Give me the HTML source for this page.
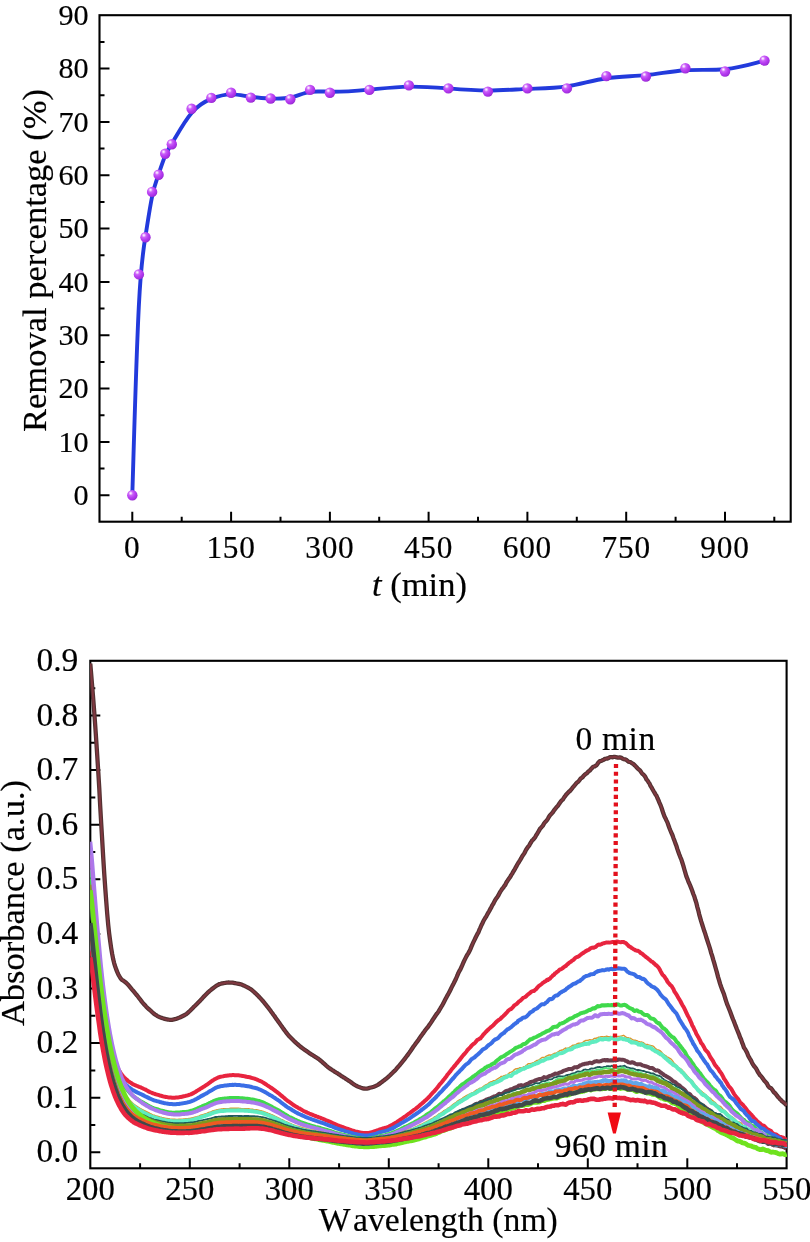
<!DOCTYPE html>
<html lang="en"><head><meta charset="utf-8"><title>Charts</title>
<style>html,body{margin:0;padding:0;background:#fff}body{width:810px;height:1242px;overflow:hidden}svg{display:block;will-change:transform}text{font-family:"Liberation Serif", serif;fill:#000;stroke:#000;stroke-width:0.18px;font-kerning:none}</style></head><body>
<svg width="810" height="1242" viewBox="0 0 810 1242">
<defs><radialGradient id="ball" cx="0.36" cy="0.32" r="0.72" fx="0.34" fy="0.30"><stop offset="0" stop-color="#ffffff"/><stop offset="0.1" stop-color="#f3d2ff"/><stop offset="0.3" stop-color="#cb62f8"/><stop offset="0.6" stop-color="#b73cf1"/><stop offset="0.85" stop-color="#a630e2"/><stop offset="1" stop-color="#9226cc"/></radialGradient><clipPath id="clipB"><rect x="90.1" y="660.8" width="696.9" height="507.5"/></clipPath></defs>
<rect width="810" height="1242" fill="#fff"/>
<g id="top">
<rect x="99.5" y="15.2" width="691.2" height="506.5" fill="none" stroke="#000" stroke-width="2.1"/>
<path d="M99.5 495.3h10M99.5 442h10M99.5 388.6h10M99.5 335.3h10M99.5 281.9h10M99.5 228.6h10M99.5 175.3h10M99.5 121.9h10M99.5 68.6h10M99.5 468.6h5M99.5 415.3h5M99.5 362h5M99.5 308.6h5M99.5 255.3h5M99.5 201.9h5M99.5 148.6h5M99.5 95.3h5M99.5 41.9h5M132.3 521.7v-10M231.1 521.7v-10M329.9 521.7v-10M428.6 521.7v-10M527.4 521.7v-10M626.2 521.7v-10M725 521.7v-10M181.7 521.7v-5M280.5 521.7v-5M379.2 521.7v-5M478 521.7v-5M576.8 521.7v-5M675.6 521.7v-5M774.3 521.7v-5" stroke="#000" stroke-width="2" fill="none"/>
<g font-size="30.2" text-anchor="end">
<text x="88.6" y="504.9">0</text>
<text x="88.6" y="451.6">10</text>
<text x="88.6" y="398.2">20</text>
<text x="88.6" y="344.9">30</text>
<text x="88.6" y="291.5">40</text>
<text x="88.6" y="238.2">50</text>
<text x="88.6" y="184.9">60</text>
<text x="88.6" y="131.5">70</text>
<text x="88.6" y="78.2">80</text>
<text x="88.6" y="24.8">90</text>
</g>
<g font-size="31.3" text-anchor="middle" letter-spacing="0.8">
<text x="132.3" y="558.4">0</text>
<text x="231.1" y="558.4">150</text>
<text x="329.9" y="558.4">300</text>
<text x="428.6" y="558.4">450</text>
<text x="527.4" y="558.4">600</text>
<text x="626.2" y="558.4">750</text>
<text x="725" y="558.4">900</text>
</g>
<text font-size="34.5" text-anchor="middle" transform="translate(45.8 260.5) rotate(-90)">Removal percentage (%)</text>
<text font-size="34.5" text-anchor="middle" x="419.5" y="595.7"><tspan font-style="italic">t</tspan> (min)</text>
<path d="M132.3 495.3C132.3 495.3 132.3 495.3 133.4 458.5C134.5 421.7 136.7 348 138.9 305C141.1 262 143.3 249.7 145.5 235.9C147.7 222.2 149.9 207 152.1 196.6C154.2 186.2 156.4 180.4 158.6 174.1C160.8 167.7 163 160.8 165.2 155.7C167.4 150.6 169.6 147.4 174 139.9C178.4 132.4 185 120.6 191.6 112.9C198.2 105.2 204.7 101.5 211.3 98.9C217.9 96.2 224.5 94.4 231.1 94.4C237.7 94.3 244.2 96 250.8 96.9C257.4 97.9 264 98.2 270.6 98.5C277.2 98.7 283.8 99 290.3 97.5C296.9 96.1 303.5 93 310.1 91.9C316.7 90.8 323.3 91.8 333.1 91.8C343 91.8 356.2 90.8 369.4 89.6C382.5 88.4 395.7 86.9 408.9 86.6C422 86.4 435.2 87.4 448.4 88.4C461.6 89.5 474.7 90.5 487.9 90.5C501.1 90.5 514.2 89.5 527.4 88.9C540.6 88.4 553.7 88.4 566.9 86.4C580.1 84.3 593.2 80.2 606.4 78.2C619.6 76.2 632.8 76.4 645.9 75.1C659.1 73.8 672.3 71 685.4 70.2C698.6 69.4 711.8 70.4 725 69.2C738.1 67.9 751.3 64.2 757.9 62.4C764.5 60.6 764.5 60.6 764.5 60.6" fill="none" stroke="#223adc" stroke-width="3.9" stroke-linejoin="round" stroke-linecap="round"/>
<circle cx="132.3" cy="495.3" r="5.2" fill="url(#ball)"/>
<circle cx="138.9" cy="274.4" r="5.2" fill="url(#ball)"/>
<circle cx="145.5" cy="237.3" r="5.2" fill="url(#ball)"/>
<circle cx="152.1" cy="191.9" r="5.2" fill="url(#ball)"/>
<circle cx="158.6" cy="174.7" r="5.2" fill="url(#ball)"/>
<circle cx="165.2" cy="153.8" r="5.2" fill="url(#ball)"/>
<circle cx="171.8" cy="144.2" r="5.2" fill="url(#ball)"/>
<circle cx="191.6" cy="108.8" r="5.2" fill="url(#ball)"/>
<circle cx="211.3" cy="97.9" r="5.2" fill="url(#ball)"/>
<circle cx="231.1" cy="92.7" r="5.2" fill="url(#ball)"/>
<circle cx="250.8" cy="97.6" r="5.2" fill="url(#ball)"/>
<circle cx="270.6" cy="98.5" r="5.2" fill="url(#ball)"/>
<circle cx="290.3" cy="99.2" r="5.2" fill="url(#ball)"/>
<circle cx="310.1" cy="89.9" r="5.2" fill="url(#ball)"/>
<circle cx="329.9" cy="92.7" r="5.2" fill="url(#ball)"/>
<circle cx="369.4" cy="89.9" r="5.2" fill="url(#ball)"/>
<circle cx="408.9" cy="85.4" r="5.2" fill="url(#ball)"/>
<circle cx="448.4" cy="88.4" r="5.2" fill="url(#ball)"/>
<circle cx="487.9" cy="91.6" r="5.2" fill="url(#ball)"/>
<circle cx="527.4" cy="88.4" r="5.2" fill="url(#ball)"/>
<circle cx="566.9" cy="88.4" r="5.2" fill="url(#ball)"/>
<circle cx="606.4" cy="76.1" r="5.2" fill="url(#ball)"/>
<circle cx="645.9" cy="76.5" r="5.2" fill="url(#ball)"/>
<circle cx="685.4" cy="68.3" r="5.2" fill="url(#ball)"/>
<circle cx="725" cy="71.5" r="5.2" fill="url(#ball)"/>
<circle cx="764.5" cy="60.6" r="5.2" fill="url(#ball)"/>
</g>
<g id="bottom">
<rect x="90.3" y="660.8" width="696.3" height="507.5" fill="none" stroke="#000" stroke-width="2.1"/>
<path d="M90.3 1152.3h10M90.3 1097.7h10M90.3 1043.1h10M90.3 988.5h10M90.3 933.9h10M90.3 879.3h10M90.3 824.7h10M90.3 770.1h10M90.3 715.5h10M90.3 1125h5M90.3 1070.4h5M90.3 1015.8h5M90.3 961.2h5M90.3 906.6h5M90.3 852h5M90.3 797.4h5M90.3 742.8h5M90.3 688.2h5M189.8 1168.3v-10M289.3 1168.3v-10M388.8 1168.3v-10M488.3 1168.3v-10M587.8 1168.3v-10M687.3 1168.3v-10M140.1 1168.3v-5M239.6 1168.3v-5M339.1 1168.3v-5M438.6 1168.3v-5M538 1168.3v-5M637.5 1168.3v-5M737 1168.3v-5" stroke="#000" stroke-width="2" fill="none"/>
<g clip-path="url(#clipB)" fill="none" stroke-linejoin="round" stroke-linecap="butt">
<path d="M90.3 663.6L91.3 675.7L92.3 687.6L93.3 699.9L94.3 712.8L95.3 726.7L96.3 741.3L97.3 756.6L98.3 772.4L99.3 788.8L100.2 806.1L101.2 823.5L102.2 840.2L103.2 857.1L104.2 873.1L105.2 887.5L106.2 900.9L107.2 913.6L108.2 924.8L109.2 933.8L110.2 941.3L111.2 948.2L112.2 954.2L113.2 959.3L114.2 963.3L115.2 966.5L116.2 969.4L117.2 971.9L118.2 974.2L119.2 976L120.2 977.7L121.1 978.9L122.1 979.9L123.1 980.6L124.1 981.3L125.1 982L126.1 982.8L127.1 983.8L128.1 984.8L129.1 985.9L130.1 987.2L131.1 988.4L132.1 989.6L133.1 990.7L134.1 991.9L135.1 993.1L136.1 994.3L137.1 995.5L138.1 996.8L139.1 998.1L140.1 999.3L141 1000.6L142 1001.9L143 1003.1L144 1004.2L145 1005.3L146 1006.4L147 1007.4L148 1008.4L149 1009.3L150 1010.1L151 1011L152 1012L153 1012.9L154 1013.7L155 1014.5L156 1015.1L157 1015.8L158 1016.3L159 1016.8L159.9 1017.2L160.9 1017.6L161.9 1017.9L162.9 1018.3L163.9 1018.6L164.9 1018.9L165.9 1019.2L166.9 1019.4L167.9 1019.5L168.9 1019.7L169.9 1019.8L170.9 1019.8L171.9 1019.8L172.9 1019.6L173.9 1019.4L174.9 1019.1L175.9 1018.9L176.9 1018.6L177.9 1018.2L178.9 1017.8L179.8 1017.5L180.8 1017L181.8 1016.5L182.8 1016L183.8 1015.5L184.8 1015L185.8 1014.4L186.8 1013.7L187.8 1012.8L188.8 1011.9L189.8 1011L190.8 1010L191.8 1009L192.8 1008L193.8 1006.9L194.8 1006L195.8 1005L196.8 1004.1L197.8 1003.1L198.8 1002.1L199.8 1001.1L200.7 1000L201.7 999L202.7 997.9L203.7 996.8L204.7 995.7L205.7 994.7L206.7 993.7L207.7 992.7L208.7 991.8L209.7 990.9L210.7 990.1L211.7 989.3L212.7 988.5L213.7 987.7L214.7 987L215.7 986.3L216.7 985.6L217.7 985L218.7 984.5L219.6 984L220.6 983.8L221.6 983.5L222.6 983.4L223.6 983.2L224.6 983L225.6 982.8L226.6 982.7L227.6 982.6L228.6 982.5L229.6 982.6L230.6 982.6L231.6 982.6L232.6 982.7L233.6 982.9L234.6 983.1L235.6 983.2L236.6 983.5L237.6 983.7L238.6 983.9L239.6 984L240.5 984.2L241.5 984.6L242.5 985L243.5 985.4L244.5 985.8L245.5 986.3L246.5 986.8L247.5 987.3L248.5 987.9L249.5 988.5L250.5 989.1L251.5 989.8L252.5 990.6L253.5 991.5L254.5 992.4L255.5 993.3L256.5 994.3L257.5 995.2L258.5 996.2L259.4 997.3L260.4 998.3L261.4 999.4L262.4 1000.5L263.4 1001.7L264.4 1002.9L265.4 1004.2L266.4 1005.4L267.4 1006.7L268.4 1007.9L269.4 1009.2L270.4 1010.6L271.4 1012L272.4 1013.3L273.4 1014.7L274.4 1016L275.4 1017.5L276.4 1018.9L277.4 1020.3L278.4 1021.7L279.4 1023.1L280.3 1024.4L281.3 1025.8L282.3 1027.1L283.3 1028.6L284.3 1029.9L285.3 1031.3L286.3 1032.6L287.3 1033.9L288.3 1035.1L289.3 1036.3L290.3 1037.3L291.3 1038.3L292.3 1039.3L293.3 1040.3L294.3 1041.3L295.3 1042.2L296.3 1043.1L297.3 1044L298.3 1044.8L299.2 1045.6L300.2 1046.5L301.2 1047.3L302.2 1048.1L303.2 1048.8L304.2 1049.5L305.2 1050.2L306.2 1050.8L307.2 1051.6L308.2 1052.3L309.2 1053L310.2 1053.7L311.2 1054.3L312.2 1054.9L313.2 1055.5L314.2 1056.2L315.2 1056.8L316.2 1057.4L317.2 1058.1L318.2 1058.7L319.1 1059.4L320.1 1060.2L321.1 1061L322.1 1061.9L323.1 1062.8L324.1 1063.7L325.1 1064.6L326.1 1065.6L327.1 1066.4L328.1 1067.2L329.1 1067.9L330.1 1068.7L331.1 1069.3L332.1 1070L333.1 1070.6L334.1 1071.3L335.1 1071.9L336.1 1072.6L337.1 1073.1L338.1 1073.8L339.1 1074.4L340 1075L341 1075.7L342 1076.4L343 1077L344 1077.7L345 1078.2L346 1078.9L347 1079.6L348 1080.2L349 1080.9L350 1081.5L351 1082.2L352 1083L353 1083.7L354 1084.4L355 1085.1L356 1085.6L357 1086.2L358 1086.6L358.9 1087L359.9 1087.3L360.9 1087.7L361.9 1088L362.9 1088.4L363.9 1088.5L364.9 1088.6L365.9 1088.6L366.9 1088.6L367.9 1088.4L368.9 1088.1L369.9 1087.8L370.9 1087.5L371.9 1087.3L372.9 1087L373.9 1086.7L374.9 1086.3L375.9 1085.8L376.9 1085.3L377.9 1084.8L378.9 1084.2L379.8 1083.5L380.8 1082.7L381.8 1082L382.8 1081.2L383.8 1080.5L384.8 1079.7L385.8 1078.9L386.8 1078.2L387.8 1077.3L388.8 1076.4L389.8 1075.5L390.8 1074.5L391.8 1073.5L392.8 1072.6L393.8 1071.6L394.8 1070.7L395.8 1069.6L396.8 1068.4L397.8 1067.2L398.8 1066.1L399.7 1065.1L400.7 1063.8L401.7 1062.6L402.7 1061.4L403.7 1060.2L404.7 1058.9L405.7 1057.5L406.7 1056.2L407.7 1055L408.7 1053.6L409.7 1052.1L410.7 1050.8L411.7 1049.3L412.7 1047.8L413.7 1046.3L414.7 1045L415.7 1043.6L416.7 1042.2L417.7 1040.9L418.7 1039.5L419.6 1038.1L420.6 1036.6L421.6 1035.4L422.6 1033.9L423.6 1032.6L424.6 1031.1L425.6 1029.8L426.6 1028.5L427.6 1027.4L428.6 1026L429.6 1024.6L430.6 1023.1L431.6 1021.6L432.6 1020L433.6 1018.6L434.6 1017L435.6 1015.5L436.6 1014L437.6 1012.8L438.6 1011.5L439.5 1009.8L440.5 1008.2L441.5 1006.5L442.5 1004.8L443.5 1002.9L444.5 1001L445.5 999.1L446.5 997.2L447.5 995.3L448.5 993.6L449.5 991.7L450.5 989.7L451.5 987.6L452.5 985.6L453.5 983.8L454.5 981.8L455.5 979.8L456.5 977.5L457.5 975.2L458.4 972.9L459.4 971L460.4 969.4L461.4 967.1L462.4 964.9L463.4 962.5L464.4 960.4L465.4 958.4L466.4 956.4L467.4 954.7L468.4 953.1L469.4 951.3L470.4 949.1L471.4 946.6L472.4 944.3L473.4 942.2L474.4 940.1L475.4 938L476.4 936L477.4 934L478.4 932.4L479.3 930L480.3 927.9L481.3 925.5L482.3 923.5L483.3 921.3L484.3 919.5L485.3 917.8L486.3 916.4L487.3 914.4L488.3 912.7L489.3 911L490.3 909L491.3 907.4L492.3 905.2L493.3 903.8L494.3 901.7L495.3 899.9L496.3 898.3L497.3 897.1L498.2 895.7L499.2 893.7L500.2 891.9L501.2 890.4L502.2 888.8L503.2 887.8L504.2 886.2L505.2 885L506.2 882.8L507.2 881.3L508.2 879.7L509.2 878.3L510.2 876.9L511.2 875.1L512.2 873.6L513.2 871.8L514.2 870.3L515.2 868.4L516.2 866.7L517.2 864.8L518.1 863.2L519.1 861.7L520.1 860.1L521.1 858.4L522.1 856.5L523.1 855.1L524.1 853.6L525.1 851.9L526.1 849.7L527.1 848.2L528.1 846.7L529.1 845.7L530.1 843.8L531.1 842.3L532.1 840.4L533.1 839.7L534.1 838.5L535.1 837.4L536.1 835.3L537.1 833.9L538 832.3L539 830.7L540 828.7L541 827.7L542 826.6L543 825.5L544 823.5L545 822.2L546 821.2L547 820.1L548 818.6L549 816.7L550 815.2L551 814.2L552 813.2L553 812L554 810.4L555 809.1L556 807.9L557 806.7L557.9 805.8L558.9 804.2L559.9 802.7L560.9 801.4L561.9 800.2L562.9 799.5L563.9 797.7L564.9 796.4L565.9 795L566.9 793.8L567.9 792.9L568.9 791.8L569.9 791L570.9 789.8L571.9 788.6L572.9 787.3L573.9 786.3L574.9 785L575.9 783.7L576.9 782.6L577.9 782L578.8 781.1L579.8 779.7L580.8 778.3L581.8 777.8L582.8 777L583.8 775.6L584.8 774.8L585.8 773.8L586.8 773.3L587.8 772.1L588.8 771.2L589.8 770.5L590.8 769.3L591.8 768.3L592.8 767.1L593.8 766.5L594.8 766.3L595.8 765.7L596.8 765L597.8 763.3L598.7 762.2L599.7 761.2L600.7 761.1L601.7 760.7L602.7 760.1L603.7 759.8L604.7 758.9L605.7 758.8L606.7 758.5L607.7 758.6L608.7 757.9L609.7 757.2L610.7 757.2L611.7 757.2L612.7 757.3L613.7 756.9L614.7 756.8L615.7 757L616.7 757.4L617.6 757.5L618.6 757.7L619.6 757.3L620.6 757.6L621.6 757.9L622.6 758.7L623.6 759.2L624.6 759.3L625.6 759.4L626.6 760.1L627.6 761L628.6 761.7L629.6 762L630.6 762.2L631.6 762.9L632.6 763.6L633.6 764.2L634.6 765.3L635.6 766.1L636.6 767.3L637.5 768.3L638.5 769.2L639.5 769.9L640.5 771.1L641.5 772.7L642.5 774L643.5 774.6L644.5 775.8L645.5 777.3L646.5 779.5L647.5 780.5L648.5 782.2L649.5 783.5L650.5 785.8L651.5 787.4L652.5 789.2L653.5 791L654.5 792.7L655.5 794.4L656.5 795.8L657.4 798L658.4 800.1L659.4 802.6L660.4 804.8L661.4 807.4L662.4 810.5L663.4 813.6L664.4 816.3L665.4 818.2L666.4 820.4L667.4 822.4L668.4 825.2L669.4 828L670.4 830.5L671.4 832.8L672.4 835L673.4 837.9L674.4 840.6L675.4 843.4L676.4 845.8L677.3 848.9L678.3 851.7L679.3 854.5L680.3 857.1L681.3 859.3L682.3 862.5L683.3 865.6L684.3 869.3L685.3 872.7L686.3 876.1L687.3 878.6L688.3 881.3L689.3 883.5L690.3 885.9L691.3 888.4L692.3 891L693.3 894L694.3 896.4L695.3 899.8L696.3 902.7L697.2 906.6L698.2 910.1L699.2 914.3L700.2 917.9L701.2 921.4L702.2 924.5L703.2 927.7L704.2 930.8L705.2 933.6L706.2 937L707.2 940L708.2 943.1L709.2 946.1L710.2 949.3L711.2 953.1L712.2 956L713.2 959.6L714.2 962.9L715.2 966.5L716.2 970L717.1 973.2L718.1 977.1L719.1 980.4L720.1 983.9L721.1 986.8L722.1 989.4L723.1 992L724.1 994.6L725.1 998L726.1 1001.1L727.1 1004.2L728.1 1006.5L729.1 1009L730.1 1011.5L731.1 1014.2L732.1 1016.9L733.1 1019.5L734.1 1021.9L735.1 1024.6L736.1 1027.1L737 1029.5L738 1031.9L739 1034.3L740 1037.2L741 1039.2L742 1042.3L743 1044.7L744 1047.7L745 1049L746 1050.8L747 1052.6L748 1055.3L749 1057.2L750 1058.9L751 1060.5L752 1062.7L753 1064.6L754 1066L755 1067.2L756 1068.4L756.9 1070L757.9 1072L758.9 1073.4L759.9 1075.1L760.9 1076L761.9 1077.3L762.9 1078.6L763.9 1080.1L764.9 1081.3L765.9 1082.3L766.9 1083.5L767.9 1085.6L768.9 1086.9L769.9 1087.8L770.9 1088L771.9 1089.3L772.9 1090.7L773.9 1092.2L774.9 1093L775.9 1094.2L776.8 1095.3L777.8 1096.8L778.8 1097.6L779.8 1099.1L780.8 1099.8L781.8 1101.1L782.8 1101.8L783.8 1102.7L784.8 1103.3L785.8 1104.5L786.8 1105.3" stroke="#523232" stroke-width="4.3"/>
<path d="M90.3 663.6L91.3 675.7L92.3 687.6L93.3 699.9L94.3 712.8L95.3 726.7L96.3 741.3L97.3 756.6L98.3 772.4L99.3 788.8L100.2 806.1L101.2 823.5L102.2 840.2L103.2 857.1L104.2 873.1L105.2 887.5L106.2 900.9L107.2 913.6L108.2 924.8L109.2 933.8L110.2 941.3L111.2 948.2L112.2 954.2L113.2 959.3L114.2 963.3L115.2 966.5L116.2 969.4L117.2 971.9L118.2 974.2L119.2 976L120.2 977.7L121.1 978.9L122.1 979.9L123.1 980.6L124.1 981.3L125.1 982L126.1 982.8L127.1 983.8L128.1 984.8L129.1 985.9L130.1 987.2L131.1 988.4L132.1 989.6L133.1 990.7L134.1 991.9L135.1 993.1L136.1 994.3L137.1 995.5L138.1 996.8L139.1 998.1L140.1 999.3L141 1000.6L142 1001.9L143 1003.1L144 1004.2L145 1005.3L146 1006.4L147 1007.4L148 1008.4L149 1009.3L150 1010.1L151 1011L152 1012L153 1012.9L154 1013.7L155 1014.5L156 1015.1L157 1015.8L158 1016.3L159 1016.8L159.9 1017.2L160.9 1017.6L161.9 1017.9L162.9 1018.3L163.9 1018.6L164.9 1018.9L165.9 1019.2L166.9 1019.4L167.9 1019.5L168.9 1019.7L169.9 1019.8L170.9 1019.8L171.9 1019.8L172.9 1019.6L173.9 1019.4L174.9 1019.1L175.9 1018.9L176.9 1018.6L177.9 1018.2L178.9 1017.8L179.8 1017.5L180.8 1017L181.8 1016.5L182.8 1016L183.8 1015.5L184.8 1015L185.8 1014.4L186.8 1013.7L187.8 1012.8L188.8 1011.9L189.8 1011L190.8 1010L191.8 1009L192.8 1008L193.8 1006.9L194.8 1006L195.8 1005L196.8 1004.1L197.8 1003.1L198.8 1002.1L199.8 1001.1L200.7 1000L201.7 999L202.7 997.9L203.7 996.8L204.7 995.7L205.7 994.7L206.7 993.7L207.7 992.7L208.7 991.8L209.7 990.9L210.7 990.1L211.7 989.3L212.7 988.5L213.7 987.7L214.7 987L215.7 986.3L216.7 985.6L217.7 985L218.7 984.5L219.6 984L220.6 983.8L221.6 983.5L222.6 983.4L223.6 983.2L224.6 983L225.6 982.8L226.6 982.7L227.6 982.6L228.6 982.5L229.6 982.6L230.6 982.6L231.6 982.6L232.6 982.7L233.6 982.9L234.6 983.1L235.6 983.2L236.6 983.5L237.6 983.7L238.6 983.9L239.6 984L240.5 984.2L241.5 984.6L242.5 985L243.5 985.4L244.5 985.8L245.5 986.3L246.5 986.8L247.5 987.3L248.5 987.9L249.5 988.5L250.5 989.1L251.5 989.8L252.5 990.6L253.5 991.5L254.5 992.4L255.5 993.3L256.5 994.3L257.5 995.2L258.5 996.2L259.4 997.3L260.4 998.3L261.4 999.4L262.4 1000.5L263.4 1001.7L264.4 1002.9L265.4 1004.2L266.4 1005.4L267.4 1006.7L268.4 1007.9L269.4 1009.2L270.4 1010.6L271.4 1012L272.4 1013.3L273.4 1014.7L274.4 1016L275.4 1017.5L276.4 1018.9L277.4 1020.3L278.4 1021.7L279.4 1023.1L280.3 1024.4L281.3 1025.8L282.3 1027.1L283.3 1028.6L284.3 1029.9L285.3 1031.3L286.3 1032.6L287.3 1033.9L288.3 1035.1L289.3 1036.3L290.3 1037.3L291.3 1038.3L292.3 1039.3L293.3 1040.3L294.3 1041.3L295.3 1042.2L296.3 1043.1L297.3 1044L298.3 1044.8L299.2 1045.6L300.2 1046.5L301.2 1047.3L302.2 1048.1L303.2 1048.8L304.2 1049.5L305.2 1050.2L306.2 1050.8L307.2 1051.6L308.2 1052.3L309.2 1053L310.2 1053.7L311.2 1054.3L312.2 1054.9L313.2 1055.5L314.2 1056.2L315.2 1056.8L316.2 1057.4L317.2 1058.1L318.2 1058.7L319.1 1059.4L320.1 1060.2L321.1 1061L322.1 1061.9L323.1 1062.8L324.1 1063.7L325.1 1064.6L326.1 1065.6L327.1 1066.4L328.1 1067.2L329.1 1067.9L330.1 1068.7L331.1 1069.3L332.1 1070L333.1 1070.6L334.1 1071.3L335.1 1071.9L336.1 1072.6L337.1 1073.1L338.1 1073.8L339.1 1074.4L340 1075L341 1075.7L342 1076.4L343 1077L344 1077.7L345 1078.2L346 1078.9L347 1079.6L348 1080.2L349 1080.9L350 1081.5L351 1082.2L352 1083L353 1083.7L354 1084.4L355 1085.1L356 1085.6L357 1086.2L358 1086.6L358.9 1087L359.9 1087.3L360.9 1087.7L361.9 1088L362.9 1088.4L363.9 1088.5L364.9 1088.6L365.9 1088.6L366.9 1088.6L367.9 1088.4L368.9 1088.1L369.9 1087.8L370.9 1087.5L371.9 1087.3L372.9 1087L373.9 1086.7L374.9 1086.3L375.9 1085.8L376.9 1085.3L377.9 1084.8L378.9 1084.2L379.8 1083.5L380.8 1082.7L381.8 1082L382.8 1081.2L383.8 1080.5L384.8 1079.7L385.8 1078.9L386.8 1078.2L387.8 1077.3L388.8 1076.4L389.8 1075.5L390.8 1074.5L391.8 1073.5L392.8 1072.6L393.8 1071.6L394.8 1070.7L395.8 1069.6L396.8 1068.4L397.8 1067.2L398.8 1066.1L399.7 1065.1L400.7 1063.8L401.7 1062.6L402.7 1061.4L403.7 1060.2L404.7 1058.9L405.7 1057.5L406.7 1056.2L407.7 1055L408.7 1053.6L409.7 1052.1L410.7 1050.8L411.7 1049.3L412.7 1047.8L413.7 1046.3L414.7 1045L415.7 1043.6L416.7 1042.2L417.7 1040.9L418.7 1039.5L419.6 1038.1L420.6 1036.6L421.6 1035.4L422.6 1033.9L423.6 1032.6L424.6 1031.1L425.6 1029.8L426.6 1028.5L427.6 1027.4L428.6 1026L429.6 1024.6L430.6 1023.1L431.6 1021.6L432.6 1020L433.6 1018.6L434.6 1017L435.6 1015.5L436.6 1014L437.6 1012.8L438.6 1011.5L439.5 1009.8L440.5 1008.2L441.5 1006.5L442.5 1004.8L443.5 1002.9L444.5 1001L445.5 999.1L446.5 997.2L447.5 995.3L448.5 993.6L449.5 991.7L450.5 989.7L451.5 987.6L452.5 985.6L453.5 983.8L454.5 981.8L455.5 979.8L456.5 977.5L457.5 975.2L458.4 972.9L459.4 971L460.4 969.4L461.4 967.1L462.4 964.9L463.4 962.5L464.4 960.4L465.4 958.4L466.4 956.4L467.4 954.7L468.4 953.1L469.4 951.3L470.4 949.1L471.4 946.6L472.4 944.3L473.4 942.2L474.4 940.1L475.4 938L476.4 936L477.4 934L478.4 932.4L479.3 930L480.3 927.9L481.3 925.5L482.3 923.5L483.3 921.3L484.3 919.5L485.3 917.8L486.3 916.4L487.3 914.4L488.3 912.7L489.3 911L490.3 909L491.3 907.4L492.3 905.2L493.3 903.8L494.3 901.7L495.3 899.9L496.3 898.3L497.3 897.1L498.2 895.7L499.2 893.7L500.2 891.9L501.2 890.4L502.2 888.8L503.2 887.8L504.2 886.2L505.2 885L506.2 882.8L507.2 881.3L508.2 879.7L509.2 878.3L510.2 876.9L511.2 875.1L512.2 873.6L513.2 871.8L514.2 870.3L515.2 868.4L516.2 866.7L517.2 864.8L518.1 863.2L519.1 861.7L520.1 860.1L521.1 858.4L522.1 856.5L523.1 855.1L524.1 853.6L525.1 851.9L526.1 849.7L527.1 848.2L528.1 846.7L529.1 845.7L530.1 843.8L531.1 842.3L532.1 840.4L533.1 839.7L534.1 838.5L535.1 837.4L536.1 835.3L537.1 833.9L538 832.3L539 830.7L540 828.7L541 827.7L542 826.6L543 825.5L544 823.5L545 822.2L546 821.2L547 820.1L548 818.6L549 816.7L550 815.2L551 814.2L552 813.2L553 812L554 810.4L555 809.1L556 807.9L557 806.7L557.9 805.8L558.9 804.2L559.9 802.7L560.9 801.4L561.9 800.2L562.9 799.5L563.9 797.7L564.9 796.4L565.9 795L566.9 793.8L567.9 792.9L568.9 791.8L569.9 791L570.9 789.8L571.9 788.6L572.9 787.3L573.9 786.3L574.9 785L575.9 783.7L576.9 782.6L577.9 782L578.8 781.1L579.8 779.7L580.8 778.3L581.8 777.8L582.8 777L583.8 775.6L584.8 774.8L585.8 773.8L586.8 773.3L587.8 772.1L588.8 771.2L589.8 770.5L590.8 769.3L591.8 768.3L592.8 767.1L593.8 766.5L594.8 766.3L595.8 765.7L596.8 765L597.8 763.3L598.7 762.2L599.7 761.2L600.7 761.1L601.7 760.7L602.7 760.1L603.7 759.8L604.7 758.9L605.7 758.8L606.7 758.5L607.7 758.6L608.7 757.9L609.7 757.2L610.7 757.2L611.7 757.2L612.7 757.3L613.7 756.9L614.7 756.8L615.7 757L616.7 757.4L617.6 757.5L618.6 757.7L619.6 757.3L620.6 757.6L621.6 757.9L622.6 758.7L623.6 759.2L624.6 759.3L625.6 759.4L626.6 760.1L627.6 761L628.6 761.7L629.6 762L630.6 762.2L631.6 762.9L632.6 763.6L633.6 764.2L634.6 765.3L635.6 766.1L636.6 767.3L637.5 768.3L638.5 769.2L639.5 769.9L640.5 771.1L641.5 772.7L642.5 774L643.5 774.6L644.5 775.8L645.5 777.3L646.5 779.5L647.5 780.5L648.5 782.2L649.5 783.5L650.5 785.8L651.5 787.4L652.5 789.2L653.5 791L654.5 792.7L655.5 794.4L656.5 795.8L657.4 798L658.4 800.1L659.4 802.6L660.4 804.8L661.4 807.4L662.4 810.5L663.4 813.6L664.4 816.3L665.4 818.2L666.4 820.4L667.4 822.4L668.4 825.2L669.4 828L670.4 830.5L671.4 832.8L672.4 835L673.4 837.9L674.4 840.6L675.4 843.4L676.4 845.8L677.3 848.9L678.3 851.7L679.3 854.5L680.3 857.1L681.3 859.3L682.3 862.5L683.3 865.6L684.3 869.3L685.3 872.7L686.3 876.1L687.3 878.6L688.3 881.3L689.3 883.5L690.3 885.9L691.3 888.4L692.3 891L693.3 894L694.3 896.4L695.3 899.8L696.3 902.7L697.2 906.6L698.2 910.1L699.2 914.3L700.2 917.9L701.2 921.4L702.2 924.5L703.2 927.7L704.2 930.8L705.2 933.6L706.2 937L707.2 940L708.2 943.1L709.2 946.1L710.2 949.3L711.2 953.1L712.2 956L713.2 959.6L714.2 962.9L715.2 966.5L716.2 970L717.1 973.2L718.1 977.1L719.1 980.4L720.1 983.9L721.1 986.8L722.1 989.4L723.1 992L724.1 994.6L725.1 998L726.1 1001.1L727.1 1004.2L728.1 1006.5L729.1 1009L730.1 1011.5L731.1 1014.2L732.1 1016.9L733.1 1019.5L734.1 1021.9L735.1 1024.6L736.1 1027.1L737 1029.5L738 1031.9L739 1034.3L740 1037.2L741 1039.2L742 1042.3L743 1044.7L744 1047.7L745 1049L746 1050.8L747 1052.6L748 1055.3L749 1057.2L750 1058.9L751 1060.5L752 1062.7L753 1064.6L754 1066L755 1067.2L756 1068.4L756.9 1070L757.9 1072L758.9 1073.4L759.9 1075.1L760.9 1076L761.9 1077.3L762.9 1078.6L763.9 1080.1L764.9 1081.3L765.9 1082.3L766.9 1083.5L767.9 1085.6L768.9 1086.9L769.9 1087.8L770.9 1088L771.9 1089.3L772.9 1090.7L773.9 1092.2L774.9 1093L775.9 1094.2L776.8 1095.3L777.8 1096.8L778.8 1097.6L779.8 1099.1L780.8 1099.8L781.8 1101.1L782.8 1101.8L783.8 1102.7L784.8 1103.3L785.8 1104.5L786.8 1105.3" stroke="#803840" stroke-width="2.0"/>
<path d="M90.3 944.8L91.3 950.4L92.3 957L93.3 963.9L94.3 970.9L95.3 977.8L96.3 984.5L97.3 991L98.3 997.2L99.3 1003.1L100.2 1008.8L101.2 1014.3L102.2 1019.3L103.2 1024.1L104.2 1028.6L105.2 1032.9L106.2 1036.9L107.2 1040.7L108.2 1044.2L109.2 1047.6L110.2 1050.8L111.2 1053.6L112.2 1056.3L113.2 1058.7L114.2 1061.1L115.2 1063.2L116.2 1065.3L117.2 1067.2L118.2 1069L119.2 1070.6L120.2 1072.2L121.1 1073.6L122.1 1074.9L123.1 1076.2L124.1 1077.4L125.1 1078.4L126.1 1079.2L127.1 1080.1L128.1 1081L129.1 1081.8L130.1 1082.4L131.1 1083L132.1 1083.7L133.1 1084.3L134.1 1084.7L135.1 1085.2L136.1 1085.6L137.1 1086L138.1 1086.4L139.1 1086.8L140.1 1087.1L141 1087.6L142 1088L143 1088.5L144 1089L145 1089.4L146 1089.9L147 1090.5L148 1091.1L149 1091.6L150 1092.1L151 1092.5L152 1092.9L153 1093.4L154 1093.7L155 1094L156 1094.3L157 1094.6L158 1094.9L159 1095.2L159.9 1095.5L160.9 1095.7L161.9 1096L162.9 1096.3L163.9 1096.6L164.9 1096.8L165.9 1097L166.9 1097.1L167.9 1097.3L168.9 1097.4L169.9 1097.5L170.9 1097.6L171.9 1097.7L172.9 1097.7L173.9 1097.7L174.9 1097.7L175.9 1097.6L176.9 1097.5L177.9 1097.4L178.9 1097.3L179.8 1097.1L180.8 1097L181.8 1096.8L182.8 1096.5L183.8 1096.3L184.8 1096.1L185.8 1095.8L186.8 1095.6L187.8 1095.3L188.8 1095L189.8 1094.7L190.8 1094.4L191.8 1093.9L192.8 1093.4L193.8 1092.9L194.8 1092.3L195.8 1091.7L196.8 1091L197.8 1090.4L198.8 1089.8L199.8 1089.2L200.7 1088.5L201.7 1088L202.7 1087.3L203.7 1086.8L204.7 1086.1L205.7 1085.4L206.7 1084.8L207.7 1084.1L208.7 1083.4L209.7 1082.7L210.7 1081.9L211.7 1081.2L212.7 1080.5L213.7 1079.9L214.7 1079.2L215.7 1078.7L216.7 1078.2L217.7 1077.7L218.7 1077.3L219.6 1077L220.6 1076.8L221.6 1076.6L222.6 1076.4L223.6 1076.2L224.6 1075.9L225.6 1075.8L226.6 1075.7L227.6 1075.5L228.6 1075.4L229.6 1075.3L230.6 1075.2L231.6 1075.2L232.6 1075.1L233.6 1075.1L234.6 1075.2L235.6 1075.2L236.6 1075.3L237.6 1075.3L238.6 1075.3L239.6 1075.4L240.5 1075.6L241.5 1075.8L242.5 1076L243.5 1076.1L244.5 1076.3L245.5 1076.5L246.5 1076.8L247.5 1076.9L248.5 1077L249.5 1077.2L250.5 1077.5L251.5 1077.8L252.5 1078.1L253.5 1078.4L254.5 1078.7L255.5 1079L256.5 1079.4L257.5 1079.8L258.5 1080.3L259.4 1080.7L260.4 1081.1L261.4 1081.5L262.4 1082.1L263.4 1082.7L264.4 1083.3L265.4 1084L266.4 1084.7L267.4 1085.4L268.4 1086L269.4 1086.6L270.4 1087.3L271.4 1088L272.4 1088.7L273.4 1089.4L274.4 1090.1L275.4 1090.9L276.4 1091.7L277.4 1092.4L278.4 1093.2L279.4 1093.9L280.3 1094.8L281.3 1095.6L282.3 1096.4L283.3 1097.2L284.3 1098L285.3 1098.9L286.3 1099.8L287.3 1100.6L288.3 1101.3L289.3 1101.9L290.3 1102.7L291.3 1103.4L292.3 1104.1L293.3 1104.8L294.3 1105.5L295.3 1106.1L296.3 1106.8L297.3 1107.3L298.3 1107.9L299.2 1108.4L300.2 1108.9L301.2 1109.5L302.2 1110.1L303.2 1110.7L304.2 1111.2L305.2 1111.7L306.2 1112.1L307.2 1112.6L308.2 1113L309.2 1113.5L310.2 1113.9L311.2 1114.3L312.2 1114.7L313.2 1115.1L314.2 1115.5L315.2 1115.9L316.2 1116.4L317.2 1116.7L318.2 1117L319.1 1117.4L320.1 1117.7L321.1 1118.1L322.1 1118.5L323.1 1118.9L324.1 1119.3L325.1 1119.8L326.1 1120.2L327.1 1120.7L328.1 1121L329.1 1121.4L330.1 1121.8L331.1 1122.3L332.1 1122.8L333.1 1123.2L334.1 1123.7L335.1 1124.1L336.1 1124.5L337.1 1125L338.1 1125.4L339.1 1125.8L340 1126.2L341 1126.5L342 1126.8L343 1127.2L344 1127.6L345 1128L346 1128.3L347 1128.6L348 1128.9L349 1129.3L350 1129.7L351 1130L352 1130.4L353 1130.7L354 1131L355 1131.3L356 1131.6L357 1131.8L358 1132L358.9 1132.2L359.9 1132.4L360.9 1132.7L361.9 1132.8L362.9 1132.9L363.9 1132.9L364.9 1133L365.9 1133L366.9 1133.1L367.9 1133.1L368.9 1133L369.9 1132.7L370.9 1132.4L371.9 1132.1L372.9 1131.8L373.9 1131.5L374.9 1131.1L375.9 1130.8L376.9 1130.5L377.9 1130.1L378.9 1129.8L379.8 1129.4L380.8 1129.1L381.8 1128.8L382.8 1128.5L383.8 1128.3L384.8 1128L385.8 1127.7L386.8 1127.4L387.8 1127L388.8 1126.6L389.8 1126.1L390.8 1125.6L391.8 1125.1L392.8 1124.5L393.8 1123.8L394.8 1123.3L395.8 1122.7L396.8 1122.1L397.8 1121.4L398.8 1120.9L399.7 1120.2L400.7 1119.5L401.7 1118.8L402.7 1118.1L403.7 1117.4L404.7 1116.7L405.7 1116.1L406.7 1115.3L407.7 1114.5L408.7 1113.7L409.7 1113.1L410.7 1112.4L411.7 1111.6L412.7 1110.9L413.7 1110L414.7 1109.5L415.7 1108.7L416.7 1107.9L417.7 1107.1L418.7 1106.4L419.6 1105.5L420.6 1104.6L421.6 1103.8L422.6 1102.9L423.6 1102.1L424.6 1101.1L425.6 1100.2L426.6 1099.4L427.6 1098.4L428.6 1097.3L429.6 1096.4L430.6 1095.1L431.6 1094L432.6 1092.9L433.6 1091.9L434.6 1090.8L435.6 1089.7L436.6 1088.5L437.6 1087.3L438.6 1086L439.5 1084.7L440.5 1083.6L441.5 1082.5L442.5 1081.3L443.5 1079.8L444.5 1078.8L445.5 1077.5L446.5 1076.3L447.5 1074.6L448.5 1073.5L449.5 1072.3L450.5 1071.1L451.5 1069.7L452.5 1068.3L453.5 1067.3L454.5 1066L455.5 1065L456.5 1063.5L457.5 1062.5L458.4 1061.3L459.4 1060.1L460.4 1058.9L461.4 1057.5L462.4 1056.2L463.4 1055L464.4 1054L465.4 1052.9L466.4 1051.6L467.4 1050.2L468.4 1049.1L469.4 1048.1L470.4 1047.1L471.4 1045.9L472.4 1044.8L473.4 1044L474.4 1043.3L475.4 1042.3L476.4 1041.1L477.4 1039.8L478.4 1039.5L479.3 1038.8L480.3 1038.6L481.3 1037.1L482.3 1036.1L483.3 1034.6L484.3 1033.7L485.3 1032.5L486.3 1031.6L487.3 1030.4L488.3 1029.6L489.3 1028.5L490.3 1027.7L491.3 1026.8L492.3 1026.1L493.3 1025.2L494.3 1024.1L495.3 1023L496.3 1022L497.3 1021.1L498.2 1020.4L499.2 1019.6L500.2 1019L501.2 1018L502.2 1017L503.2 1016.2L504.2 1015.2L505.2 1014.3L506.2 1013.1L507.2 1012.1L508.2 1010.8L509.2 1010L510.2 1009.2L511.2 1009L512.2 1007.9L513.2 1006.9L514.2 1005.5L515.2 1004.9L516.2 1004.3L517.2 1003.4L518.1 1002.5L519.1 1001.4L520.1 1001L521.1 999.9L522.1 999L523.1 997.9L524.1 997.5L525.1 997L526.1 996.3L527.1 995.2L528.1 994.4L529.1 993.7L530.1 992.9L531.1 991.8L532.1 991.4L533.1 991L534.1 990.9L535.1 989.8L536.1 989.1L537.1 987.9L538 986.9L539 985.8L540 985.3L541 984.5L542 983.7L543 982.7L544 982.2L545 981.3L546 981L547 979.8L548 979.9L549 979L550 978.8L551 977.2L552 976.6L553 975.2L554 975L555 973.4L556 973L557 971.9L557.9 971.5L558.9 970.4L559.9 969.4L560.9 969.2L561.9 968.7L562.9 968L563.9 967.1L564.9 966.4L565.9 965.9L566.9 964.7L567.9 964L568.9 963.1L569.9 962.2L570.9 961.7L571.9 960.8L572.9 960.3L573.9 959.4L574.9 958.3L575.9 957.5L576.9 957L577.9 956.8L578.8 956.3L579.8 955.3L580.8 954.6L581.8 953.8L582.8 953.1L583.8 952.6L584.8 951.9L585.8 951.1L586.8 950.6L587.8 950.1L588.8 949.8L589.8 948.9L590.8 948.1L591.8 947.8L592.8 947.6L593.8 947.7L594.8 947.2L595.8 946.8L596.8 945.8L597.8 944.9L598.7 944.6L599.7 944.7L600.7 944.5L601.7 944.1L602.7 943.4L603.7 943.3L604.7 942.9L605.7 942.7L606.7 942.4L607.7 942.6L608.7 942.4L609.7 942.6L610.7 942.4L611.7 942.1L612.7 941.9L613.7 942.1L614.7 942.1L615.7 942L616.7 941.4L617.6 941.7L618.6 941.8L619.6 942.1L620.6 942.3L621.6 942L622.6 942L623.6 941.9L624.6 942.6L625.6 942.9L626.6 943.8L627.6 944.8L628.6 946L629.6 946.7L630.6 947.1L631.6 948L632.6 948.5L633.6 949.3L634.6 949.6L635.6 950.4L636.6 950.7L637.5 950.7L638.5 951.1L639.5 951.7L640.5 952.9L641.5 953.4L642.5 954L643.5 954.9L644.5 955.8L645.5 956.6L646.5 957.4L647.5 958.1L648.5 959L649.5 959.8L650.5 960.6L651.5 961.6L652.5 961.9L653.5 963L654.5 963.7L655.5 964.9L656.5 965.3L657.4 966.4L658.4 967.4L659.4 968.8L660.4 970.9L661.4 972.7L662.4 974.5L663.4 975.6L664.4 976.5L665.4 978.1L666.4 979.5L667.4 981.5L668.4 982.9L669.4 983.9L670.4 985.1L671.4 985.8L672.4 987.4L673.4 989.1L674.4 991.5L675.4 992.9L676.4 994.4L677.3 995.8L678.3 997.8L679.3 999.4L680.3 1001L681.3 1003L682.3 1004.9L683.3 1006.6L684.3 1008.3L685.3 1010.4L686.3 1012.6L687.3 1014.7L688.3 1016.6L689.3 1018.4L690.3 1020.7L691.3 1022.8L692.3 1025.5L693.3 1027.1L694.3 1029.5L695.3 1031.2L696.3 1033.7L697.2 1035.2L698.2 1036.9L699.2 1038.9L700.2 1040.8L701.2 1043.1L702.2 1044.1L703.2 1045.8L704.2 1047.5L705.2 1049.6L706.2 1050.8L707.2 1051.7L708.2 1052.8L709.2 1054.9L710.2 1056.8L711.2 1058.3L712.2 1059.8L713.2 1061.4L714.2 1063.5L715.2 1065.2L716.2 1066.3L717.1 1067.5L718.1 1068.6L719.1 1070.3L720.1 1071.8L721.1 1073.1L722.1 1074.8L723.1 1076.6L724.1 1078.8L725.1 1080.1L726.1 1081.7L727.1 1083.3L728.1 1085.2L729.1 1086.6L730.1 1087.6L731.1 1088.8L732.1 1090.4L733.1 1092.2L734.1 1094L735.1 1095.5L736.1 1096.7L737 1097.9L738 1098.9L739 1100.5L740 1102.1L741 1103.1L742 1104.2L743 1104.9L744 1106.3L745 1107.3L746 1108.9L747 1110.1L748 1111.4L749 1112.3L750 1113.4L751 1114.5L752 1115.5L753 1116.7L754 1117.8L755 1118.8L756 1119.8L756.9 1120.9L757.9 1121.8L758.9 1122.6L759.9 1123.2L760.9 1124.5L761.9 1125.1L762.9 1125.6L763.9 1125.8L764.9 1126.6L765.9 1127.9L766.9 1128.7L767.9 1129.7L768.9 1129.7L769.9 1130.5L770.9 1130.8L771.9 1132.4L772.9 1133.2L773.9 1134.1L774.9 1134.2L775.9 1134.4L776.8 1134.8L777.8 1135.9L778.8 1136.4L779.8 1137.2L780.8 1136.9L781.8 1137.3L782.8 1137.4L783.8 1138L784.8 1139.2L785.8 1139.3L786.8 1139.9" stroke="#e8243f" stroke-width="4"/>
<path d="M90.3 933.9L91.3 940.1L92.3 947.6L93.3 955.4L94.3 963.2L95.3 970.8L96.3 978.4L97.3 985.6L98.3 992.7L99.3 999.3L100.2 1005.7L101.2 1011.7L102.2 1017.3L103.2 1022.6L104.2 1027.8L105.2 1032.7L106.2 1037.3L107.2 1041.4L108.2 1045.3L109.2 1049L110.2 1052.6L111.2 1055.9L112.2 1059L113.2 1061.9L114.2 1064.4L115.2 1066.8L116.2 1069.1L117.2 1071.2L118.2 1073.2L119.2 1075L120.2 1076.7L121.1 1078.3L122.1 1079.8L123.1 1081.2L124.1 1082.5L125.1 1083.7L126.1 1084.8L127.1 1085.8L128.1 1086.7L129.1 1087.5L130.1 1088.2L131.1 1088.9L132.1 1089.6L133.1 1090.2L134.1 1090.8L135.1 1091.4L136.1 1091.9L137.1 1092.4L138.1 1092.8L139.1 1093.4L140.1 1093.7L141 1094.2L142 1094.6L143 1095.1L144 1095.6L145 1096.2L146 1096.7L147 1097.1L148 1097.6L149 1098.1L150 1098.6L151 1099L152 1099.5L153 1099.9L154 1100.3L155 1100.6L156 1100.9L157 1101.2L158 1101.4L159 1101.7L159.9 1102L160.9 1102.2L161.9 1102.5L162.9 1102.7L163.9 1103L164.9 1103.2L165.9 1103.4L166.9 1103.6L167.9 1103.7L168.9 1103.9L169.9 1103.9L170.9 1104L171.9 1104.1L172.9 1104.2L173.9 1104.3L174.9 1104.3L175.9 1104.2L176.9 1104.1L177.9 1104L178.9 1104L179.8 1103.8L180.8 1103.6L181.8 1103.4L182.8 1103.3L183.8 1103.1L184.8 1102.9L185.8 1102.8L186.8 1102.6L187.8 1102.3L188.8 1102.1L189.8 1101.8L190.8 1101.5L191.8 1101.1L192.8 1100.7L193.8 1100.3L194.8 1099.8L195.8 1099.2L196.8 1098.7L197.8 1098.1L198.8 1097.6L199.8 1097L200.7 1096.4L201.7 1095.9L202.7 1095.4L203.7 1094.9L204.7 1094.3L205.7 1093.8L206.7 1093.2L207.7 1092.6L208.7 1091.9L209.7 1091.3L210.7 1090.7L211.7 1090.2L212.7 1089.6L213.7 1089L214.7 1088.4L215.7 1087.8L216.7 1087.4L217.7 1087L218.7 1086.7L219.6 1086.5L220.6 1086.2L221.6 1086.1L222.6 1085.9L223.6 1085.8L224.6 1085.6L225.6 1085.5L226.6 1085.4L227.6 1085.3L228.6 1085.2L229.6 1085.1L230.6 1085L231.6 1084.9L232.6 1084.8L233.6 1084.9L234.6 1084.8L235.6 1084.8L236.6 1084.9L237.6 1084.9L238.6 1085L239.6 1085.1L240.5 1085.2L241.5 1085.4L242.5 1085.5L243.5 1085.6L244.5 1085.7L245.5 1085.9L246.5 1086L247.5 1086.2L248.5 1086.3L249.5 1086.5L250.5 1086.7L251.5 1087L252.5 1087.3L253.5 1087.6L254.5 1087.8L255.5 1088L256.5 1088.2L257.5 1088.6L258.5 1089L259.4 1089.4L260.4 1089.7L261.4 1090.2L262.4 1090.7L263.4 1091.2L264.4 1091.7L265.4 1092.3L266.4 1092.9L267.4 1093.5L268.4 1094.1L269.4 1094.7L270.4 1095.3L271.4 1095.8L272.4 1096.4L273.4 1097.1L274.4 1097.7L275.4 1098.4L276.4 1099.1L277.4 1099.7L278.4 1100.4L279.4 1101L280.3 1101.8L281.3 1102.6L282.3 1103.3L283.3 1104.1L284.3 1104.8L285.3 1105.6L286.3 1106.4L287.3 1107.1L288.3 1107.7L289.3 1108.3L290.3 1108.8L291.3 1109.5L292.3 1110.2L293.3 1110.8L294.3 1111.4L295.3 1112L296.3 1112.5L297.3 1113.1L298.3 1113.6L299.2 1114L300.2 1114.5L301.2 1114.9L302.2 1115.4L303.2 1115.8L304.2 1116.3L305.2 1116.8L306.2 1117.2L307.2 1117.6L308.2 1118L309.2 1118.4L310.2 1118.7L311.2 1119.1L312.2 1119.4L313.2 1119.8L314.2 1120.2L315.2 1120.5L316.2 1120.9L317.2 1121.2L318.2 1121.6L319.1 1121.9L320.1 1122.2L321.1 1122.6L322.1 1122.8L323.1 1123.2L324.1 1123.5L325.1 1123.9L326.1 1124.3L327.1 1124.7L328.1 1125.1L329.1 1125.5L330.1 1125.8L331.1 1126.1L332.1 1126.5L333.1 1126.9L334.1 1127.4L335.1 1127.8L336.1 1128.2L337.1 1128.5L338.1 1128.9L339.1 1129.2L340 1129.5L341 1129.8L342 1130.1L343 1130.4L344 1130.7L345 1131.1L346 1131.4L347 1131.6L348 1131.8L349 1132.1L350 1132.5L351 1132.8L352 1133.1L353 1133.4L354 1133.7L355 1133.9L356 1134.1L357 1134.3L358 1134.6L358.9 1134.8L359.9 1135L360.9 1135.1L361.9 1135.3L362.9 1135.3L363.9 1135.5L364.9 1135.5L365.9 1135.5L366.9 1135.5L367.9 1135.5L368.9 1135.4L369.9 1135.1L370.9 1135L371.9 1134.7L372.9 1134.4L373.9 1134.2L374.9 1134L375.9 1133.7L376.9 1133.3L377.9 1132.8L378.9 1132.5L379.8 1132.3L380.8 1132.1L381.8 1131.9L382.8 1131.6L383.8 1131.4L384.8 1131.1L385.8 1130.9L386.8 1130.6L387.8 1130.3L388.8 1129.8L389.8 1129.4L390.8 1128.9L391.8 1128.6L392.8 1128.1L393.8 1127.6L394.8 1127L395.8 1126.4L396.8 1125.8L397.8 1125.3L398.8 1124.8L399.7 1124.2L400.7 1123.5L401.7 1122.9L402.7 1122.5L403.7 1121.9L404.7 1121.3L405.7 1120.6L406.7 1120.1L407.7 1119.5L408.7 1119L409.7 1118.2L410.7 1117.6L411.7 1116.9L412.7 1116.2L413.7 1115.5L414.7 1114.8L415.7 1114.2L416.7 1113.5L417.7 1112.8L418.7 1112.1L419.6 1111.5L420.6 1110.7L421.6 1110L422.6 1109.1L423.6 1108.5L424.6 1107.6L425.6 1106.9L426.6 1106L427.6 1105.2L428.6 1104.4L429.6 1103.5L430.6 1102.4L431.6 1101.3L432.6 1100.3L433.6 1099.5L434.6 1098.6L435.6 1097.5L436.6 1096.5L437.6 1095.3L438.6 1094.3L439.5 1093.2L440.5 1092.3L441.5 1091.3L442.5 1090.3L443.5 1089.1L444.5 1087.9L445.5 1087L446.5 1086L447.5 1084.9L448.5 1083.9L449.5 1082.5L450.5 1081.4L451.5 1080L452.5 1079.1L453.5 1077.9L454.5 1076.8L455.5 1075.4L456.5 1074.3L457.5 1073.3L458.4 1072.4L459.4 1071.5L460.4 1070.3L461.4 1069.4L462.4 1068.3L463.4 1067.2L464.4 1066.1L465.4 1065L466.4 1064.2L467.4 1063.6L468.4 1062.9L469.4 1061.8L470.4 1060.6L471.4 1059.3L472.4 1058.7L473.4 1058L474.4 1057.5L475.4 1056.5L476.4 1055.6L477.4 1054.8L478.4 1053.9L479.3 1053.2L480.3 1052.2L481.3 1051.2L482.3 1049.9L483.3 1049.2L484.3 1048.7L485.3 1048.2L486.3 1047.4L487.3 1046.2L488.3 1045.5L489.3 1044.5L490.3 1044.1L491.3 1043.2L492.3 1042.3L493.3 1040.9L494.3 1040.2L495.3 1039.3L496.3 1039.2L497.3 1038.5L498.2 1038L499.2 1036.8L500.2 1035.7L501.2 1034.6L502.2 1034.1L503.2 1033.2L504.2 1032.8L505.2 1031.3L506.2 1030.6L507.2 1029.5L508.2 1029.2L509.2 1028.5L510.2 1027.7L511.2 1027.1L512.2 1026.1L513.2 1025.3L514.2 1024.2L515.2 1023.7L516.2 1022.8L517.2 1022.4L518.1 1020.9L519.1 1020.4L520.1 1019.6L521.1 1019.5L522.1 1018.3L523.1 1017.7L524.1 1017.5L525.1 1017.4L526.1 1016.8L527.1 1015.9L528.1 1014.9L529.1 1013.8L530.1 1012.6L531.1 1012.1L532.1 1011.5L533.1 1010.8L534.1 1009.7L535.1 1009.2L536.1 1008.9L537.1 1008.3L538 1007.3L539 1006.6L540 1005.6L541 1004.9L542 1004.2L543 1004.3L544 1004.2L545 1003.6L546 1002.5L547 1002.1L548 1000.8L549 999.7L550 998.9L551 999.2L552 999.1L553 998.2L554 996.8L555 996L556 995.5L557 995.6L557.9 995L558.9 994.1L559.9 993L560.9 992.4L561.9 991.9L562.9 991.2L563.9 990.8L564.9 990.1L565.9 989.6L566.9 988.3L567.9 987.9L568.9 986.8L569.9 986.6L570.9 985.6L571.9 985.1L572.9 984.2L573.9 983.8L574.9 983.6L575.9 983.1L576.9 982.4L577.9 981.8L578.8 981.3L579.8 981L580.8 980L581.8 979.4L582.8 978.4L583.8 977.3L584.8 976.7L585.8 976.1L586.8 976L587.8 975.6L588.8 975.4L589.8 974.9L590.8 974.2L591.8 974.3L592.8 974.1L593.8 974L594.8 973L595.8 972.2L596.8 971.9L597.8 971.1L598.7 971.2L599.7 970.8L600.7 970.6L601.7 970.3L602.7 970.1L603.7 970.3L604.7 970.2L605.7 969.9L606.7 969.4L607.7 969.3L608.7 969.7L609.7 969.1L610.7 968.9L611.7 968.8L612.7 969.2L613.7 969.2L614.7 969L615.7 968.9L616.7 968.5L617.6 968.4L618.6 968.3L619.6 968.5L620.6 968.5L621.6 968.8L622.6 968.8L623.6 968.7L624.6 968.7L625.6 969.6L626.6 970.8L627.6 971.8L628.6 972.4L629.6 973.1L630.6 973.3L631.6 973.6L632.6 973.8L633.6 974.1L634.6 974.6L635.6 975.5L636.6 976.5L637.5 976.9L638.5 977L639.5 977L640.5 977.9L641.5 978.4L642.5 979.1L643.5 978.8L644.5 979.6L645.5 980.5L646.5 982.1L647.5 983L648.5 983.9L649.5 984.5L650.5 985.3L651.5 986.2L652.5 986.7L653.5 987.2L654.5 987.5L655.5 988.4L656.5 989.1L657.4 990L658.4 991.3L659.4 992.6L660.4 994.4L661.4 995.5L662.4 996.6L663.4 997.6L664.4 998.3L665.4 999.1L666.4 1000.2L667.4 1001.9L668.4 1003.6L669.4 1005L670.4 1006.1L671.4 1007.6L672.4 1008.8L673.4 1010.3L674.4 1011.2L675.4 1012.4L676.4 1013.4L677.3 1015.1L678.3 1017.1L679.3 1019.4L680.3 1020.9L681.3 1022.5L682.3 1024.1L683.3 1025.8L684.3 1027.4L685.3 1028.6L686.3 1029.9L687.3 1031.5L688.3 1033.4L689.3 1036.1L690.3 1037.8L691.3 1039.9L692.3 1041.6L693.3 1043.9L694.3 1045.1L695.3 1047L696.3 1048.6L697.2 1050.6L698.2 1051.8L699.2 1053L700.2 1054.5L701.2 1056.3L702.2 1057.7L703.2 1059.1L704.2 1060.7L705.2 1062L706.2 1063.5L707.2 1064.3L708.2 1066.4L709.2 1068L710.2 1069.7L711.2 1070.9L712.2 1071.7L713.2 1073.3L714.2 1074.5L715.2 1076.3L716.2 1077.1L717.1 1078.4L718.1 1079.7L719.1 1080.6L720.1 1082L721.1 1083L722.1 1085.2L723.1 1086.5L724.1 1088.1L725.1 1089.2L726.1 1090.6L727.1 1092.1L728.1 1094.2L729.1 1095.6L730.1 1097L731.1 1097.6L732.1 1098.6L733.1 1099.1L734.1 1100.2L735.1 1101.3L736.1 1102.9L737 1104L738 1105.3L739 1106.6L740 1107.9L741 1109.1L742 1109.7L743 1110.5L744 1111.2L745 1113L746 1114.1L747 1115.4L748 1116L749 1117.3L750 1118.8L751 1120.3L752 1121L753 1121L754 1121.3L755 1122.4L756 1123.7L756.9 1124.6L757.9 1125.1L758.9 1126L759.9 1127L760.9 1127.9L761.9 1128.4L762.9 1128.7L763.9 1129L764.9 1130.1L765.9 1130.6L766.9 1131.5L767.9 1131.9L768.9 1132.5L769.9 1133.1L770.9 1133.7L771.9 1134.4L772.9 1134.8L773.9 1135.2L774.9 1135.6L775.9 1136.2L776.8 1137L777.8 1137.2L778.8 1137.8L779.8 1138.1L780.8 1139.3L781.8 1140.3L782.8 1141L783.8 1141.2L784.8 1141L785.8 1141.2L786.8 1141.4" stroke="#3a6ee6" stroke-width="4"/>
<path d="M90.3 879.3L91.3 888L92.3 898.3L93.3 909.1L94.3 920L95.3 930.6L96.3 941L97.3 950.9L98.3 960.6L99.3 969.9L100.2 978.7L101.2 987L102.2 994.9L103.2 1002.3L104.2 1009.4L105.2 1016.1L106.2 1022.3L107.2 1028.1L108.2 1033.6L109.2 1038.8L110.2 1043.6L111.2 1048.1L112.2 1052.2L113.2 1056.2L114.2 1059.8L115.2 1063.3L116.2 1066.5L117.2 1069.4L118.2 1072.2L119.2 1074.7L120.2 1077.1L121.1 1079.2L122.1 1081.3L123.1 1083.2L124.1 1085L125.1 1086.7L126.1 1088.2L127.1 1089.5L128.1 1090.9L129.1 1092L130.1 1093.2L131.1 1094.2L132.1 1095.2L133.1 1096.1L134.1 1096.8L135.1 1097.6L136.1 1098.3L137.1 1099L138.1 1099.7L139.1 1100.3L140.1 1100.9L141 1101.4L142 1102L143 1102.6L144 1103.1L145 1103.7L146 1104.3L147 1104.9L148 1105.5L149 1106.1L150 1106.5L151 1107L152 1107.5L153 1107.9L154 1108.3L155 1108.6L156 1108.9L157 1109.2L158 1109.5L159 1109.8L159.9 1110.1L160.9 1110.4L161.9 1110.6L162.9 1110.9L163.9 1111.2L164.9 1111.5L165.9 1111.7L166.9 1111.9L167.9 1112.1L168.9 1112.3L169.9 1112.4L170.9 1112.5L171.9 1112.7L172.9 1112.7L173.9 1112.7L174.9 1112.7L175.9 1112.6L176.9 1112.6L177.9 1112.5L178.9 1112.5L179.8 1112.4L180.8 1112.3L181.8 1112.2L182.8 1112.1L183.8 1112.1L184.8 1112L185.8 1111.9L186.8 1111.8L187.8 1111.6L188.8 1111.4L189.8 1111.1L190.8 1110.8L191.8 1110.6L192.8 1110.3L193.8 1110L194.8 1109.6L195.8 1109.2L196.8 1108.7L197.8 1108.3L198.8 1107.8L199.8 1107.4L200.7 1107L201.7 1106.6L202.7 1106.1L203.7 1105.7L204.7 1105.3L205.7 1104.9L206.7 1104.5L207.7 1104L208.7 1103.5L209.7 1102.9L210.7 1102.5L211.7 1102L212.7 1101.6L213.7 1101.1L214.7 1100.7L215.7 1100.3L216.7 1099.9L217.7 1099.6L218.7 1099.3L219.6 1099.2L220.6 1099L221.6 1098.9L222.6 1098.8L223.6 1098.7L224.6 1098.6L225.6 1098.5L226.6 1098.4L227.6 1098.3L228.6 1098.2L229.6 1098.1L230.6 1098.1L231.6 1098L232.6 1098L233.6 1097.9L234.6 1098L235.6 1098L236.6 1098.1L237.6 1098L238.6 1098L239.6 1098.2L240.5 1098.3L241.5 1098.3L242.5 1098.3L243.5 1098.5L244.5 1098.6L245.5 1098.7L246.5 1098.7L247.5 1098.8L248.5 1099L249.5 1099.1L250.5 1099.3L251.5 1099.4L252.5 1099.5L253.5 1099.7L254.5 1100L255.5 1100.3L256.5 1100.5L257.5 1100.8L258.5 1101L259.4 1101.1L260.4 1101.5L261.4 1101.8L262.4 1102.2L263.4 1102.6L264.4 1103.1L265.4 1103.6L266.4 1104L267.4 1104.5L268.4 1105L269.4 1105.5L270.4 1106L271.4 1106.5L272.4 1107.1L273.4 1107.7L274.4 1108.2L275.4 1108.8L276.4 1109.3L277.4 1109.8L278.4 1110.4L279.4 1110.9L280.3 1111.6L281.3 1112.1L282.3 1112.7L283.3 1113.3L284.3 1114L285.3 1114.6L286.3 1115.1L287.3 1115.7L288.3 1116.4L289.3 1117L290.3 1117.4L291.3 1117.9L292.3 1118.4L293.3 1118.9L294.3 1119.4L295.3 1119.8L296.3 1120.2L297.3 1120.7L298.3 1121.2L299.2 1121.5L300.2 1122L301.2 1122.3L302.2 1122.7L303.2 1123L304.2 1123.3L305.2 1123.7L306.2 1124L307.2 1124.4L308.2 1124.7L309.2 1125L310.2 1125.3L311.2 1125.7L312.2 1125.9L313.2 1126.2L314.2 1126.4L315.2 1126.8L316.2 1127.1L317.2 1127.3L318.2 1127.5L319.1 1127.7L320.1 1128L321.1 1128.3L322.1 1128.7L323.1 1128.9L324.1 1129.2L325.1 1129.5L326.1 1129.7L327.1 1130L328.1 1130.3L329.1 1130.6L330.1 1130.9L331.1 1131.2L332.1 1131.6L333.1 1131.9L334.1 1132.3L335.1 1132.6L336.1 1132.9L337.1 1133.1L338.1 1133.4L339.1 1133.6L340 1133.9L341 1134.2L342 1134.5L343 1134.7L344 1134.9L345 1135.2L346 1135.5L347 1135.7L348 1135.9L349 1136.1L350 1136.3L351 1136.6L352 1136.9L353 1137.1L354 1137.3L355 1137.5L356 1137.6L357 1137.9L358 1138L358.9 1138.3L359.9 1138.3L360.9 1138.5L361.9 1138.6L362.9 1138.8L363.9 1138.8L364.9 1138.9L365.9 1139L366.9 1138.9L367.9 1138.8L368.9 1138.6L369.9 1138.6L370.9 1138.4L371.9 1138.1L372.9 1137.8L373.9 1137.7L374.9 1137.4L375.9 1137.2L376.9 1136.9L377.9 1136.7L378.9 1136.5L379.8 1136.2L380.8 1136L381.8 1135.8L382.8 1135.7L383.8 1135.6L384.8 1135.3L385.8 1135L386.8 1134.6L387.8 1134.3L388.8 1134.1L389.8 1133.8L390.8 1133.5L391.8 1133.1L392.8 1132.7L393.8 1132.3L394.8 1131.9L395.8 1131.6L396.8 1131.1L397.8 1130.6L398.8 1130.2L399.7 1129.7L400.7 1129.2L401.7 1128.6L402.7 1128.2L403.7 1127.6L404.7 1127.1L405.7 1126.7L406.7 1126.3L407.7 1125.8L408.7 1125.4L409.7 1124.9L410.7 1124.4L411.7 1123.9L412.7 1123.2L413.7 1122.7L414.7 1122.1L415.7 1121.6L416.7 1121.1L417.7 1120.5L418.7 1119.9L419.6 1119.3L420.6 1118.7L421.6 1118.2L422.6 1117.6L423.6 1117.1L424.6 1116.3L425.6 1115.6L426.6 1114.7L427.6 1114.1L428.6 1113.6L429.6 1113L430.6 1112.3L431.6 1111.4L432.6 1110.7L433.6 1109.8L434.6 1108.9L435.6 1108.1L436.6 1107.4L437.6 1106.8L438.6 1105.8L439.5 1105.1L440.5 1104.1L441.5 1103.4L442.5 1102.4L443.5 1101.5L444.5 1100.8L445.5 1100L446.5 1099.3L447.5 1098.1L448.5 1097.1L449.5 1096.2L450.5 1095.3L451.5 1094.4L452.5 1093.4L453.5 1092.6L454.5 1091.6L455.5 1090.3L456.5 1089.5L457.5 1088.6L458.4 1088.1L459.4 1087.2L460.4 1086.1L461.4 1085.2L462.4 1084.2L463.4 1083.7L464.4 1083.1L465.4 1082.4L466.4 1081.6L467.4 1080.8L468.4 1080.1L469.4 1079.5L470.4 1078.8L471.4 1078.1L472.4 1077.2L473.4 1076.3L474.4 1075.9L475.4 1075.1L476.4 1074.6L477.4 1073.6L478.4 1072.9L479.3 1072L480.3 1071.2L481.3 1070.6L482.3 1070.1L483.3 1069.4L484.3 1068.8L485.3 1067.7L486.3 1067.3L487.3 1066.5L488.3 1066.2L489.3 1065.8L490.3 1065.6L491.3 1064.6L492.3 1064.1L493.3 1063.5L494.3 1063.3L495.3 1062.2L496.3 1061.1L497.3 1060.3L498.2 1059.6L499.2 1058.9L500.2 1057.9L501.2 1057.2L502.2 1056.8L503.2 1056.3L504.2 1055.9L505.2 1055.1L506.2 1054.4L507.2 1053.7L508.2 1053.1L509.2 1052.5L510.2 1051.7L511.2 1051.2L512.2 1050.6L513.2 1050L514.2 1049.2L515.2 1048.3L516.2 1047.7L517.2 1047.4L518.1 1047L519.1 1046.5L520.1 1046.3L521.1 1046L522.1 1045.1L523.1 1044.2L524.1 1044L525.1 1043.8L526.1 1043.1L527.1 1042.2L528.1 1041.1L529.1 1040.4L530.1 1039.3L531.1 1039.3L532.1 1038.9L533.1 1038.4L534.1 1037.7L535.1 1037.4L536.1 1037L537.1 1036.5L538 1035.8L539 1035.5L540 1034.9L541 1034.5L542 1033.7L543 1033.1L544 1032.9L545 1032.3L546 1031.6L547 1031.1L548 1030.8L549 1030.6L550 1029.9L551 1029.2L552 1028.3L553 1027.2L554 1026.9L555 1026.8L556 1026.7L557 1026.8L557.9 1025.6L558.9 1025L559.9 1023.8L560.9 1023.6L561.9 1023.4L562.9 1022.9L563.9 1022.6L564.9 1021.9L565.9 1021.3L566.9 1020.8L567.9 1019.7L568.9 1019.5L569.9 1018.5L570.9 1018.5L571.9 1018L572.9 1017.6L573.9 1016.9L574.9 1016.2L575.9 1015.8L576.9 1015.5L577.9 1014.9L578.8 1014.5L579.8 1013.9L580.8 1013.2L581.8 1013L582.8 1012.7L583.8 1012.6L584.8 1012.1L585.8 1011.9L586.8 1011.4L587.8 1010.8L588.8 1010.1L589.8 1010.1L590.8 1009.6L591.8 1009L592.8 1008.3L593.8 1008.3L594.8 1008.4L595.8 1007.6L596.8 1006.6L597.8 1006L598.7 1006.4L599.7 1006.2L600.7 1006.1L601.7 1005.2L602.7 1005.5L603.7 1005.3L604.7 1005.6L605.7 1005.2L606.7 1005.4L607.7 1005L608.7 1005.2L609.7 1005.2L610.7 1005.2L611.7 1005L612.7 1005.2L613.7 1005.4L614.7 1005.4L615.7 1004.8L616.7 1004.3L617.6 1004.4L618.6 1004.5L619.6 1005.3L620.6 1005.5L621.6 1005.6L622.6 1005.2L623.6 1004.9L624.6 1004.8L625.6 1005.2L626.6 1005.8L627.6 1006.7L628.6 1007.2L629.6 1008.1L630.6 1008.4L631.6 1008.8L632.6 1009.2L633.6 1010.4L634.6 1011L635.6 1010.7L636.6 1010.3L637.5 1010.7L638.5 1011.6L639.5 1011.7L640.5 1011.9L641.5 1012.4L642.5 1013.5L643.5 1014.1L644.5 1014.8L645.5 1015L646.5 1015.1L647.5 1015.1L648.5 1015.9L649.5 1017L650.5 1018.2L651.5 1018.6L652.5 1018.8L653.5 1019L654.5 1019.7L655.5 1020.8L656.5 1022.1L657.4 1022.7L658.4 1023.4L659.4 1023.3L660.4 1025L661.4 1026.1L662.4 1027.8L663.4 1028.2L664.4 1028.8L665.4 1029.7L666.4 1030.6L667.4 1032.1L668.4 1033.1L669.4 1034.6L670.4 1035.4L671.4 1036.5L672.4 1037.2L673.4 1037.4L674.4 1038.6L675.4 1039.8L676.4 1041.6L677.3 1042.4L678.3 1043.2L679.3 1044.8L680.3 1045.8L681.3 1047.6L682.3 1048.5L683.3 1050L684.3 1051.1L685.3 1052.8L686.3 1054.7L687.3 1056.5L688.3 1057.7L689.3 1058.8L690.3 1059.8L691.3 1061.8L692.3 1063L693.3 1064.4L694.3 1066L695.3 1067.5L696.3 1068.7L697.2 1069.7L698.2 1070.9L699.2 1072.6L700.2 1073.4L701.2 1074.9L702.2 1076.3L703.2 1077.8L704.2 1079L705.2 1080.1L706.2 1081.3L707.2 1082.1L708.2 1083.2L709.2 1084.4L710.2 1086L711.2 1086.8L712.2 1088.1L713.2 1088.9L714.2 1089.9L715.2 1090.2L716.2 1091.4L717.1 1092.9L718.1 1094.2L719.1 1095.1L720.1 1095.7L721.1 1096.8L722.1 1098.1L723.1 1099.8L724.1 1100.9L725.1 1101.9L726.1 1102.4L727.1 1103.4L728.1 1104.2L729.1 1105.3L730.1 1106.5L731.1 1108.2L732.1 1109.6L733.1 1110.5L734.1 1111.4L735.1 1112.1L736.1 1112.9L737 1113.3L738 1114.4L739 1115.5L740 1116.6L741 1117.7L742 1118.5L743 1119.6L744 1119.9L745 1121.4L746 1121.9L747 1122.7L748 1122.9L749 1123.8L750 1124.7L751 1125.2L752 1125.6L753 1126.4L754 1127L755 1128.2L756 1128.8L756.9 1129.8L757.9 1130.6L758.9 1131.2L759.9 1132.1L760.9 1132.2L761.9 1133.1L762.9 1133.9L763.9 1134.9L764.9 1135.3L765.9 1135.3L766.9 1135.5L767.9 1136.2L768.9 1136.5L769.9 1137.2L770.9 1137.6L771.9 1138L772.9 1138.4L773.9 1139.2L774.9 1139.7L775.9 1140.1L776.8 1140.2L777.8 1140.4L778.8 1141L779.8 1141.1L780.8 1141.8L781.8 1141.4L782.8 1142.3L783.8 1142.6L784.8 1143.5L785.8 1143.1L786.8 1143.6" stroke="#3fd94b" stroke-width="4"/>
<path d="M90.3 841.7L91.3 851.9L92.3 864L93.3 876.6L94.3 889.2L95.3 901.6L96.3 913.8L97.3 925.6L98.3 936.9L99.3 947.7L100.2 958L101.2 967.9L102.2 977.2L103.2 985.9L104.2 994.2L105.2 1002L106.2 1009.3L107.2 1016.2L108.2 1022.6L109.2 1028.6L110.2 1034.3L111.2 1039.5L112.2 1044.4L113.2 1049L114.2 1053.3L115.2 1057.3L116.2 1061L117.2 1064.4L118.2 1067.6L119.2 1070.6L120.2 1073.4L121.1 1076L122.1 1078.5L123.1 1080.7L124.1 1082.8L125.1 1084.7L126.1 1086.5L127.1 1088.2L128.1 1089.7L129.1 1091L130.1 1092.4L131.1 1093.5L132.1 1094.8L133.1 1095.8L134.1 1096.8L135.1 1097.6L136.1 1098.5L137.1 1099.2L138.1 1099.9L139.1 1100.6L140.1 1101.3L141 1102L142 1102.8L143 1103.5L144 1104.1L145 1104.7L146 1105.3L147 1106L148 1106.5L149 1107.1L150 1107.6L151 1108.1L152 1108.6L153 1109L154 1109.5L155 1109.9L156 1110.3L157 1110.6L158 1111L159 1111.4L159.9 1111.7L160.9 1111.9L161.9 1112.2L162.9 1112.5L163.9 1112.8L164.9 1113L165.9 1113.2L166.9 1113.5L167.9 1113.7L168.9 1113.9L169.9 1114L170.9 1114L171.9 1114.2L172.9 1114.3L173.9 1114.5L174.9 1114.5L175.9 1114.5L176.9 1114.5L177.9 1114.4L178.9 1114.4L179.8 1114.4L180.8 1114.3L181.8 1114.1L182.8 1114.1L183.8 1114L184.8 1113.9L185.8 1113.7L186.8 1113.7L187.8 1113.5L188.8 1113.4L189.8 1113.2L190.8 1113L191.8 1112.8L192.8 1112.5L193.8 1112.2L194.8 1111.9L195.8 1111.5L196.8 1111.1L197.8 1110.6L198.8 1110.2L199.8 1109.8L200.7 1109.4L201.7 1109L202.7 1108.7L203.7 1108.4L204.7 1108L205.7 1107.6L206.7 1107.2L207.7 1106.7L208.7 1106.2L209.7 1105.7L210.7 1105.2L211.7 1104.8L212.7 1104.4L213.7 1104L214.7 1103.6L215.7 1103.2L216.7 1102.9L217.7 1102.6L218.7 1102.3L219.6 1102.2L220.6 1102L221.6 1101.9L222.6 1101.7L223.6 1101.6L224.6 1101.6L225.6 1101.5L226.6 1101.3L227.6 1101.2L228.6 1101.2L229.6 1101.2L230.6 1101.1L231.6 1101.1L232.6 1101L233.6 1101L234.6 1101L235.6 1101L236.6 1101.1L237.6 1101.1L238.6 1101.1L239.6 1101.1L240.5 1101.2L241.5 1101.3L242.5 1101.4L243.5 1101.4L244.5 1101.5L245.5 1101.6L246.5 1101.8L247.5 1101.9L248.5 1102L249.5 1102.1L250.5 1102.2L251.5 1102.4L252.5 1102.5L253.5 1102.6L254.5 1102.9L255.5 1103.1L256.5 1103.3L257.5 1103.5L258.5 1103.7L259.4 1104L260.4 1104.3L261.4 1104.6L262.4 1105L263.4 1105.3L264.4 1105.8L265.4 1106.2L266.4 1106.7L267.4 1107.1L268.4 1107.5L269.4 1108L270.4 1108.5L271.4 1109L272.4 1109.6L273.4 1110.1L274.4 1110.6L275.4 1111.1L276.4 1111.6L277.4 1112.1L278.4 1112.6L279.4 1113.2L280.3 1113.8L281.3 1114.4L282.3 1115L283.3 1115.6L284.3 1116.2L285.3 1116.7L286.3 1117.3L287.3 1117.9L288.3 1118.4L289.3 1119L290.3 1119.4L291.3 1119.9L292.3 1120.3L293.3 1120.8L294.3 1121.2L295.3 1121.6L296.3 1122.1L297.3 1122.5L298.3 1122.9L299.2 1123.3L300.2 1123.7L301.2 1124.1L302.2 1124.4L303.2 1124.9L304.2 1125.2L305.2 1125.5L306.2 1125.7L307.2 1126L308.2 1126.3L309.2 1126.6L310.2 1126.9L311.2 1127.2L312.2 1127.5L313.2 1127.7L314.2 1127.9L315.2 1128.2L316.2 1128.4L317.2 1128.7L318.2 1129L319.1 1129.2L320.1 1129.5L321.1 1129.7L322.1 1130.1L323.1 1130.3L324.1 1130.6L325.1 1130.8L326.1 1131.1L327.1 1131.4L328.1 1131.6L329.1 1131.9L330.1 1132.2L331.1 1132.5L332.1 1132.8L333.1 1133L334.1 1133.4L335.1 1133.7L336.1 1134L337.1 1134.2L338.1 1134.5L339.1 1134.7L340 1135L341 1135.3L342 1135.5L343 1135.7L344 1135.9L345 1136.2L346 1136.4L347 1136.6L348 1136.8L349 1137.1L350 1137.2L351 1137.5L352 1137.7L353 1138L354 1138.2L355 1138.4L356 1138.6L357 1138.7L358 1138.9L358.9 1139L359.9 1139.2L360.9 1139.3L361.9 1139.4L362.9 1139.5L363.9 1139.6L364.9 1139.7L365.9 1139.8L366.9 1139.7L367.9 1139.6L368.9 1139.5L369.9 1139.4L370.9 1139.2L371.9 1139L372.9 1138.8L373.9 1138.5L374.9 1138.3L375.9 1138L376.9 1137.9L377.9 1137.8L378.9 1137.5L379.8 1137.2L380.8 1136.9L381.8 1136.8L382.8 1136.7L383.8 1136.5L384.8 1136.2L385.8 1136L386.8 1135.8L387.8 1135.5L388.8 1135.2L389.8 1134.9L390.8 1134.6L391.8 1134.3L392.8 1133.9L393.8 1133.6L394.8 1133.2L395.8 1132.8L396.8 1132.2L397.8 1131.8L398.8 1131.5L399.7 1131.1L400.7 1130.6L401.7 1130.1L402.7 1129.7L403.7 1129.3L404.7 1128.8L405.7 1128.3L406.7 1127.8L407.7 1127.3L408.7 1126.8L409.7 1126.3L410.7 1125.9L411.7 1125.4L412.7 1124.8L413.7 1124.3L414.7 1123.9L415.7 1123.3L416.7 1122.8L417.7 1122.3L418.7 1121.8L419.6 1121.2L420.6 1120.6L421.6 1120.1L422.6 1119.5L423.6 1118.8L424.6 1118.2L425.6 1117.7L426.6 1117.3L427.6 1116.6L428.6 1115.9L429.6 1115.2L430.6 1114.5L431.6 1113.7L432.6 1113L433.6 1112.2L434.6 1111.6L435.6 1110.8L436.6 1110.1L437.6 1109.4L438.6 1108.5L439.5 1107.7L440.5 1106.9L441.5 1106.1L442.5 1105.3L443.5 1104.5L444.5 1103.7L445.5 1103L446.5 1101.9L447.5 1101.2L448.5 1100.3L449.5 1099.5L450.5 1098.6L451.5 1097.8L452.5 1097.2L453.5 1096.4L454.5 1095.3L455.5 1094.4L456.5 1093.4L457.5 1092.8L458.4 1092L459.4 1091.1L460.4 1090.3L461.4 1089.5L462.4 1088.8L463.4 1088L464.4 1087.3L465.4 1086.5L466.4 1085.7L467.4 1085.2L468.4 1084L469.4 1083.4L470.4 1082.5L471.4 1082.4L472.4 1081.9L473.4 1081.3L474.4 1080.6L475.4 1079.8L476.4 1079.2L477.4 1078.4L478.4 1077.3L479.3 1076.3L480.3 1075.8L481.3 1075.2L482.3 1074.6L483.3 1074.1L484.3 1073.8L485.3 1073.5L486.3 1072.4L487.3 1071.7L488.3 1071.1L489.3 1070.6L490.3 1069.9L491.3 1069.3L492.3 1068.8L493.3 1068.1L494.3 1067.9L495.3 1067.7L496.3 1067L497.3 1066.2L498.2 1065.1L499.2 1064.6L500.2 1063.7L501.2 1063.3L502.2 1063L503.2 1062.6L504.2 1062.3L505.2 1061.3L506.2 1060.2L507.2 1059.5L508.2 1058.9L509.2 1059L510.2 1058.5L511.2 1058L512.2 1057L513.2 1056.2L514.2 1055.3L515.2 1054.7L516.2 1054.2L517.2 1054.2L518.1 1053.6L519.1 1053.1L520.1 1052.6L521.1 1052.1L522.1 1051.7L523.1 1050.5L524.1 1050L525.1 1049.3L526.1 1048.6L527.1 1048.2L528.1 1047.7L529.1 1047.6L530.1 1047L531.1 1046.6L532.1 1046L533.1 1045.4L534.1 1044.8L535.1 1044.7L536.1 1044L537.1 1043.1L538 1042.1L539 1041.6L540 1041L541 1040.6L542 1039.9L543 1039.9L544 1039.6L545 1039.5L546 1039L547 1038.2L548 1037.3L549 1036.7L550 1036.1L551 1035.5L552 1034.7L553 1034.4L554 1034.6L555 1034L556 1033.8L557 1033.5L557.9 1034L558.9 1033L559.9 1032.4L560.9 1031.5L561.9 1031.2L562.9 1030.1L563.9 1029.8L564.9 1029.2L565.9 1028.9L566.9 1027.8L567.9 1027.3L568.9 1026.8L569.9 1026.6L570.9 1025.8L571.9 1025.2L572.9 1024.7L573.9 1024.4L574.9 1024.5L575.9 1023.9L576.9 1023.8L577.9 1023.1L578.8 1022.4L579.8 1021.2L580.8 1020.7L581.8 1020.5L582.8 1020.6L583.8 1020.1L584.8 1019.7L585.8 1019L586.8 1018.4L587.8 1017.9L588.8 1017.9L589.8 1017.7L590.8 1017.7L591.8 1017.7L592.8 1017.2L593.8 1016.3L594.8 1015.3L595.8 1015.3L596.8 1016.2L597.8 1016.4L598.7 1015.9L599.7 1014.9L600.7 1014.2L601.7 1014.4L602.7 1014L603.7 1014.1L604.7 1013.8L605.7 1014.1L606.7 1014.1L607.7 1014L608.7 1013.7L609.7 1013.9L610.7 1014.1L611.7 1014.1L612.7 1013.7L613.7 1013.3L614.7 1013L615.7 1013L616.7 1013.2L617.6 1013.2L618.6 1013.7L619.6 1013.7L620.6 1013.5L621.6 1013.2L622.6 1013L623.6 1013.6L624.6 1013.5L625.6 1014.3L626.6 1014.7L627.6 1015.3L628.6 1015.2L629.6 1016.5L630.6 1017.3L631.6 1018.4L632.6 1018L633.6 1018.2L634.6 1018.5L635.6 1019.3L636.6 1019.8L637.5 1020.2L638.5 1019.8L639.5 1020L640.5 1019.6L641.5 1020.1L642.5 1020.4L643.5 1021.3L644.5 1021.8L645.5 1022.5L646.5 1023.6L647.5 1024L648.5 1024.5L649.5 1024.4L650.5 1025.1L651.5 1025.9L652.5 1026.5L653.5 1027.2L654.5 1027.1L655.5 1027.9L656.5 1028.6L657.4 1029.5L658.4 1030.3L659.4 1030.8L660.4 1031.6L661.4 1032.1L662.4 1033.4L663.4 1034.3L664.4 1035.8L665.4 1037L666.4 1038L667.4 1038.7L668.4 1039.6L669.4 1040.8L670.4 1042.1L671.4 1043L672.4 1043.9L673.4 1044.6L674.4 1045.9L675.4 1046.7L676.4 1047.6L677.3 1048.6L678.3 1050.3L679.3 1051.9L680.3 1053.2L681.3 1054.7L682.3 1055.7L683.3 1056.5L684.3 1057.1L685.3 1058.3L686.3 1059.5L687.3 1060.9L688.3 1062.5L689.3 1064.4L690.3 1065.8L691.3 1066.8L692.3 1067.7L693.3 1069.5L694.3 1071.4L695.3 1072.5L696.3 1073.6L697.2 1074.2L698.2 1075.9L699.2 1077.3L700.2 1078.4L701.2 1079.4L702.2 1079.9L703.2 1081.2L704.2 1082.6L705.2 1084L706.2 1085L707.2 1086L708.2 1087L709.2 1088L710.2 1089.2L711.2 1090.3L712.2 1091.6L713.2 1092.1L714.2 1093L715.2 1094.3L716.2 1095.4L717.1 1096.5L718.1 1097.2L719.1 1098.3L720.1 1099.2L721.1 1100.1L722.1 1101L723.1 1102.3L724.1 1103.4L725.1 1104.7L726.1 1105.5L727.1 1106.6L728.1 1107.3L729.1 1108.3L730.1 1109.4L731.1 1111L732.1 1111.9L733.1 1112.8L734.1 1113.7L735.1 1114.7L736.1 1115.5L737 1115.8L738 1116.7L739 1117.1L740 1118.1L741 1118.6L742 1119.7L743 1120.8L744 1121.9L745 1122.8L746 1123.6L747 1124.2L748 1124.6L749 1124.8L750 1125.5L751 1126.3L752 1127.6L753 1128.9L754 1129.8L755 1130.3L756 1130.1L756.9 1130.1L757.9 1130.7L758.9 1131.3L759.9 1132.2L760.9 1132.8L761.9 1133.5L762.9 1134.2L763.9 1134.4L764.9 1135.3L765.9 1136.5L766.9 1137.3L767.9 1137.3L768.9 1137L769.9 1137.6L770.9 1138.2L771.9 1139L772.9 1139.1L773.9 1139.9L774.9 1140.4L775.9 1140.7L776.8 1141.2L777.8 1141.7L778.8 1142.1L779.8 1142.1L780.8 1142.7L781.8 1142.9L782.8 1143.6L783.8 1143.5L784.8 1144.1L785.8 1143.7L786.8 1143.9" stroke="#a97aec" stroke-width="4"/>
<path d="M90.3 884.8L91.3 893.6L92.3 904L93.3 914.8L94.3 925.7L95.3 936.4L96.3 946.9L97.3 957L98.3 966.7L99.3 976L100.2 984.9L101.2 993.3L102.2 1001.3L103.2 1008.9L104.2 1016L105.2 1022.7L106.2 1029L107.2 1034.9L108.2 1040.4L109.2 1045.6L110.2 1050.5L111.2 1055L112.2 1059.2L113.2 1063.1L114.2 1066.8L115.2 1070.2L116.2 1073.5L117.2 1076.5L118.2 1079.3L119.2 1081.8L120.2 1084.2L121.1 1086.4L122.1 1088.5L123.1 1090.4L124.1 1092.2L125.1 1093.8L126.1 1095.3L127.1 1096.7L128.1 1098L129.1 1099.3L130.1 1100.4L131.1 1101.5L132.1 1102.5L133.1 1103.4L134.1 1104.3L135.1 1105L136.1 1105.7L137.1 1106.4L138.1 1107L139.1 1107.7L140.1 1108.3L141 1108.8L142 1109.4L143 1109.9L144 1110.5L145 1111L146 1111.5L147 1112L148 1112.5L149 1113L150 1113.5L151 1113.9L152 1114.4L153 1114.8L154 1115.1L155 1115.5L156 1115.8L157 1116.1L158 1116.3L159 1116.6L159.9 1116.9L160.9 1117.2L161.9 1117.5L162.9 1117.7L163.9 1117.9L164.9 1118.1L165.9 1118.4L166.9 1118.5L167.9 1118.7L168.9 1118.8L169.9 1119L170.9 1119.1L171.9 1119.2L172.9 1119.2L173.9 1119.3L174.9 1119.3L175.9 1119.4L176.9 1119.4L177.9 1119.4L178.9 1119.3L179.8 1119.3L180.8 1119.2L181.8 1119.2L182.8 1119.1L183.8 1119L184.8 1118.9L185.8 1118.8L186.8 1118.7L187.8 1118.6L188.8 1118.5L189.8 1118.4L190.8 1118.2L191.8 1118L192.8 1117.8L193.8 1117.5L194.8 1117.2L195.8 1116.9L196.8 1116.7L197.8 1116.4L198.8 1116.1L199.8 1115.6L200.7 1115.2L201.7 1114.9L202.7 1114.6L203.7 1114.3L204.7 1114L205.7 1113.6L206.7 1113.3L207.7 1112.9L208.7 1112.5L209.7 1112.2L210.7 1111.9L211.7 1111.5L212.7 1111L213.7 1110.7L214.7 1110.4L215.7 1110.1L216.7 1109.8L217.7 1109.6L218.7 1109.4L219.6 1109.3L220.6 1109.1L221.6 1109L222.6 1108.9L223.6 1108.8L224.6 1108.7L225.6 1108.7L226.6 1108.7L227.6 1108.6L228.6 1108.6L229.6 1108.4L230.6 1108.3L231.6 1108.2L232.6 1108.3L233.6 1108.2L234.6 1108.3L235.6 1108.3L236.6 1108.3L237.6 1108.2L238.6 1108.3L239.6 1108.4L240.5 1108.5L241.5 1108.6L242.5 1108.6L243.5 1108.6L244.5 1108.7L245.5 1108.7L246.5 1108.8L247.5 1108.8L248.5 1108.8L249.5 1108.9L250.5 1109.1L251.5 1109.2L252.5 1109.3L253.5 1109.5L254.5 1109.6L255.5 1109.7L256.5 1109.8L257.5 1110L258.5 1110.2L259.4 1110.4L260.4 1110.6L261.4 1110.8L262.4 1111.1L263.4 1111.4L264.4 1111.8L265.4 1112.2L266.4 1112.6L267.4 1113L268.4 1113.4L269.4 1113.7L270.4 1114.2L271.4 1114.6L272.4 1115L273.4 1115.5L274.4 1115.9L275.4 1116.4L276.4 1116.8L277.4 1117.3L278.4 1117.8L279.4 1118.3L280.3 1118.8L281.3 1119.3L282.3 1119.7L283.3 1120.3L284.3 1120.9L285.3 1121.4L286.3 1121.7L287.3 1122.2L288.3 1122.6L289.3 1123.1L290.3 1123.5L291.3 1123.9L292.3 1124.3L293.3 1124.6L294.3 1125.1L295.3 1125.4L296.3 1125.8L297.3 1126.1L298.3 1126.4L299.2 1126.7L300.2 1127L301.2 1127.3L302.2 1127.5L303.2 1127.8L304.2 1128.1L305.2 1128.4L306.2 1128.7L307.2 1129L308.2 1129.2L309.2 1129.5L310.2 1129.7L311.2 1129.9L312.2 1130.1L313.2 1130.3L314.2 1130.5L315.2 1130.7L316.2 1131L317.2 1131.2L318.2 1131.4L319.1 1131.6L320.1 1131.8L321.1 1132L322.1 1132.3L323.1 1132.5L324.1 1132.7L325.1 1132.9L326.1 1133.2L327.1 1133.4L328.1 1133.7L329.1 1133.9L330.1 1134.1L331.1 1134.3L332.1 1134.6L333.1 1134.8L334.1 1135.1L335.1 1135.3L336.1 1135.6L337.1 1135.8L338.1 1136L339.1 1136.2L340 1136.4L341 1136.5L342 1136.7L343 1137L344 1137.1L345 1137.3L346 1137.5L347 1137.7L348 1137.9L349 1138.1L350 1138.3L351 1138.5L352 1138.7L353 1138.9L354 1139.1L355 1139.2L356 1139.3L357 1139.4L358 1139.5L358.9 1139.7L359.9 1139.8L360.9 1139.9L361.9 1140L362.9 1140.1L363.9 1140.2L364.9 1140.3L365.9 1140.2L366.9 1140.2L367.9 1140.1L368.9 1140.1L369.9 1140.1L370.9 1140L371.9 1139.8L372.9 1139.6L373.9 1139.4L374.9 1139.3L375.9 1139.1L376.9 1138.8L377.9 1138.5L378.9 1138.4L379.8 1138.2L380.8 1138L381.8 1137.8L382.8 1137.7L383.8 1137.5L384.8 1137.5L385.8 1137.2L386.8 1137L387.8 1136.7L388.8 1136.5L389.8 1136.3L390.8 1136.1L391.8 1135.8L392.8 1135.4L393.8 1135.2L394.8 1134.8L395.8 1134.6L396.8 1134.1L397.8 1133.9L398.8 1133.5L399.7 1133.1L400.7 1132.7L401.7 1132.2L402.7 1131.9L403.7 1131.5L404.7 1131.3L405.7 1130.9L406.7 1130.6L407.7 1130.1L408.7 1129.6L409.7 1129.2L410.7 1128.9L411.7 1128.6L412.7 1128.3L413.7 1127.8L414.7 1127.3L415.7 1126.9L416.7 1126.5L417.7 1126L418.7 1125.4L419.6 1125L420.6 1124.5L421.6 1124.1L422.6 1123.6L423.6 1123.1L424.6 1122.5L425.6 1122.1L426.6 1121.5L427.6 1121.1L428.6 1120.5L429.6 1120L430.6 1119.4L431.6 1118.8L432.6 1118.3L433.6 1117.6L434.6 1116.9L435.6 1116.4L436.6 1115.8L437.6 1115.1L438.6 1114.2L439.5 1113.6L440.5 1113.2L441.5 1112.6L442.5 1111.9L443.5 1110.9L444.5 1110.4L445.5 1109.8L446.5 1109.3L447.5 1108.5L448.5 1108L449.5 1107.3L450.5 1106.6L451.5 1105.7L452.5 1104.8L453.5 1104.1L454.5 1103.4L455.5 1102.7L456.5 1102L457.5 1101.1L458.4 1100.5L459.4 1099.9L460.4 1099.5L461.4 1098.9L462.4 1098.2L463.4 1097.4L464.4 1096.9L465.4 1096.2L466.4 1095.7L467.4 1095.1L468.4 1094.7L469.4 1094.2L470.4 1093.7L471.4 1093.1L472.4 1092.6L473.4 1092.3L474.4 1091.6L475.4 1090.8L476.4 1090L477.4 1089.8L478.4 1089L479.3 1088.5L480.3 1088.1L481.3 1087.8L482.3 1087.4L483.3 1086.5L484.3 1086L485.3 1085.1L486.3 1084.6L487.3 1084.1L488.3 1083.5L489.3 1082.6L490.3 1082.1L491.3 1081.6L492.3 1081.6L493.3 1080.8L494.3 1080.8L495.3 1080.5L496.3 1079.8L497.3 1079.1L498.2 1078.5L499.2 1077.9L500.2 1077.2L501.2 1076.4L502.2 1076.5L503.2 1076.2L504.2 1075.6L505.2 1075.3L506.2 1075.1L507.2 1075.1L508.2 1074L509.2 1073.1L510.2 1072.4L511.2 1072.1L512.2 1071.6L513.2 1071L514.2 1069.8L515.2 1069.2L516.2 1068.7L517.2 1069.1L518.1 1068.4L519.1 1068.2L520.1 1067.6L521.1 1067.6L522.1 1067.4L523.1 1067.1L524.1 1066.7L525.1 1066.4L526.1 1065.4L527.1 1064.7L528.1 1063.8L529.1 1063.6L530.1 1063.6L531.1 1063.4L532.1 1063.3L533.1 1062.7L534.1 1062.3L535.1 1061.6L536.1 1061L537.1 1060.5L538 1060.2L539 1059.8L540 1059.1L541 1058.2L542 1057.5L543 1057.4L544 1057.4L545 1057.1L546 1056.4L547 1055.8L548 1055.3L549 1055L550 1055L551 1055.2L552 1054.7L553 1054.1L554 1053.5L555 1053.3L556 1053.2L557 1052.7L557.9 1051.9L558.9 1051.4L559.9 1050.4L560.9 1050.4L561.9 1050L562.9 1050.1L563.9 1049.1L564.9 1048.5L565.9 1048L566.9 1048.6L567.9 1048L568.9 1048L569.9 1047.1L570.9 1046.5L571.9 1045.8L572.9 1045.2L573.9 1045.2L574.9 1044.9L575.9 1044.6L576.9 1043.9L577.9 1043.4L578.8 1043.1L579.8 1043.2L580.8 1043.3L581.8 1042.9L582.8 1042.3L583.8 1041.5L584.8 1041L585.8 1040.4L586.8 1040.4L587.8 1040.3L588.8 1040.1L589.8 1039.7L590.8 1040L591.8 1040L592.8 1039.7L593.8 1038.7L594.8 1038.3L595.8 1038.4L596.8 1038L597.8 1037.7L598.7 1037.2L599.7 1037.2L600.7 1036.8L601.7 1036.6L602.7 1036.7L603.7 1036.9L604.7 1036.6L605.7 1036.4L606.7 1036.1L607.7 1036.7L608.7 1036.7L609.7 1036.8L610.7 1036.5L611.7 1036.8L612.7 1036.7L613.7 1036.2L614.7 1035.7L615.7 1035.7L616.7 1036.2L617.6 1036.6L618.6 1036.4L619.6 1036.4L620.6 1036.1L621.6 1036L622.6 1035.6L623.6 1035.3L624.6 1036L625.6 1036.9L626.6 1037.4L627.6 1037.8L628.6 1037.8L629.6 1038.4L630.6 1038.3L631.6 1039L632.6 1039.6L633.6 1040.3L634.6 1040.2L635.6 1040.3L636.6 1040.6L637.5 1041L638.5 1041.6L639.5 1041.7L640.5 1042.1L641.5 1042L642.5 1042.3L643.5 1042.7L644.5 1043.8L645.5 1044.2L646.5 1044.6L647.5 1044.5L648.5 1044.9L649.5 1045.1L650.5 1045.5L651.5 1045.7L652.5 1045.9L653.5 1046.4L654.5 1047.3L655.5 1048.7L656.5 1049.2L657.4 1050.1L658.4 1050L659.4 1050.5L660.4 1051L661.4 1052L662.4 1053.2L663.4 1054.2L664.4 1054.9L665.4 1055.7L666.4 1056.2L667.4 1057.2L668.4 1057.4L669.4 1058.2L670.4 1058.6L671.4 1059.5L672.4 1060.6L673.4 1062.1L674.4 1063.6L675.4 1064.3L676.4 1065.6L677.3 1066.2L678.3 1067.6L679.3 1068L680.3 1068.6L681.3 1069.3L682.3 1070.3L683.3 1071.6L684.3 1072.4L685.3 1073.7L686.3 1074.7L687.3 1075.9L688.3 1076.9L689.3 1078.3L690.3 1079.2L691.3 1079.9L692.3 1080.7L693.3 1082.3L694.3 1083.7L695.3 1085.2L696.3 1086.5L697.2 1087.5L698.2 1088.4L699.2 1089.3L700.2 1090.4L701.2 1091.1L702.2 1091.9L703.2 1092.9L704.2 1093.4L705.2 1094.6L706.2 1095L707.2 1096.6L708.2 1096.9L709.2 1097.8L710.2 1098.2L711.2 1099.2L712.2 1100.3L713.2 1101L714.2 1101.8L715.2 1102.5L716.2 1103.7L717.1 1104.7L718.1 1105.4L719.1 1105.9L720.1 1106.2L721.1 1107L722.1 1108.1L723.1 1109.2L724.1 1110.2L725.1 1110.9L726.1 1111.8L727.1 1113L728.1 1114L729.1 1115.1L730.1 1115.4L731.1 1116.2L732.1 1116.9L733.1 1117.7L734.1 1118.3L735.1 1119.3L736.1 1120.6L737 1121.7L738 1122.1L739 1121.9L740 1122.3L741 1122.8L742 1124L743 1125.3L744 1126.4L745 1127.1L746 1127.3L747 1127.7L748 1128.2L749 1128.7L750 1129.4L751 1130.1L752 1131L753 1131.2L754 1132.1L755 1132.3L756 1132.9L756.9 1133.4L757.9 1134.1L758.9 1134.6L759.9 1134.8L760.9 1135.3L761.9 1136L762.9 1135.9L763.9 1136.1L764.9 1136.6L765.9 1137.7L766.9 1138.6L767.9 1138.8L768.9 1139.3L769.9 1139.5L770.9 1139.8L771.9 1139.9L772.9 1140.2L773.9 1140.8L774.9 1140.6L775.9 1141.2L776.8 1141.5L777.8 1142L778.8 1142L779.8 1142.6L780.8 1142.8L781.8 1143.3L782.8 1143.2L783.8 1143.8L784.8 1143.4L785.8 1143.7L786.8 1143.2" stroke="#d9962e" stroke-width="1.4"/>
<path d="M90.3 895.7L91.3 904.1L92.3 914.2L93.3 924.6L94.3 935L95.3 945.3L96.3 955.4L97.3 965.2L98.3 974.6L99.3 983.5L100.2 992.1L101.2 1000.1L102.2 1007.8L103.2 1015.1L104.2 1021.9L105.2 1028.3L106.2 1034.4L107.2 1040.1L108.2 1045.4L109.2 1050.3L110.2 1055L111.2 1059.4L112.2 1063.5L113.2 1067.4L114.2 1070.9L115.2 1074.1L116.2 1077.1L117.2 1079.9L118.2 1082.6L119.2 1085.1L120.2 1087.5L121.1 1089.6L122.1 1091.7L123.1 1093.5L124.1 1095.1L125.1 1096.6L126.1 1098.1L127.1 1099.5L128.1 1100.9L129.1 1102.1L130.1 1103.1L131.1 1104.1L132.1 1104.9L133.1 1105.8L134.1 1106.6L135.1 1107.4L136.1 1108.1L137.1 1108.7L138.1 1109.4L139.1 1109.9L140.1 1110.6L141 1111.1L142 1111.6L143 1112.2L144 1112.8L145 1113.3L146 1113.8L147 1114.4L148 1114.9L149 1115.3L150 1115.7L151 1116.2L152 1116.6L153 1117L154 1117.3L155 1117.5L156 1117.8L157 1118.2L158 1118.5L159 1118.8L159.9 1119L160.9 1119.2L161.9 1119.5L162.9 1119.7L163.9 1119.9L164.9 1120.1L165.9 1120.3L166.9 1120.6L167.9 1120.8L168.9 1120.8L169.9 1120.9L170.9 1121L171.9 1121.2L172.9 1121.3L173.9 1121.3L174.9 1121.3L175.9 1121.3L176.9 1121.3L177.9 1121.2L178.9 1121.3L179.8 1121.2L180.8 1121.2L181.8 1121.1L182.8 1121.1L183.8 1121L184.8 1120.9L185.8 1120.7L186.8 1120.6L187.8 1120.5L188.8 1120.4L189.8 1120.4L190.8 1120.2L191.8 1120L192.8 1119.7L193.8 1119.5L194.8 1119.2L195.8 1118.9L196.8 1118.6L197.8 1118.2L198.8 1118L199.8 1117.7L200.7 1117.3L201.7 1116.9L202.7 1116.6L203.7 1116.3L204.7 1116L205.7 1115.7L206.7 1115.3L207.7 1115L208.7 1114.6L209.7 1114.3L210.7 1113.9L211.7 1113.4L212.7 1113.1L213.7 1112.7L214.7 1112.4L215.7 1112.1L216.7 1111.9L217.7 1111.6L218.7 1111.4L219.6 1111.2L220.6 1111.1L221.6 1111L222.6 1111L223.6 1110.9L224.6 1110.8L225.6 1110.7L226.6 1110.6L227.6 1110.5L228.6 1110.5L229.6 1110.5L230.6 1110.4L231.6 1110.5L232.6 1110.4L233.6 1110.4L234.6 1110.4L235.6 1110.4L236.6 1110.4L237.6 1110.4L238.6 1110.3L239.6 1110.4L240.5 1110.4L241.5 1110.5L242.5 1110.6L243.5 1110.6L244.5 1110.7L245.5 1110.8L246.5 1110.8L247.5 1110.8L248.5 1110.9L249.5 1111L250.5 1111L251.5 1111.2L252.5 1111.3L253.5 1111.4L254.5 1111.5L255.5 1111.7L256.5 1111.9L257.5 1112.1L258.5 1112.3L259.4 1112.4L260.4 1112.6L261.4 1112.9L262.4 1113.2L263.4 1113.5L264.4 1113.8L265.4 1114.2L266.4 1114.6L267.4 1114.9L268.4 1115.3L269.4 1115.7L270.4 1116.2L271.4 1116.6L272.4 1117L273.4 1117.4L274.4 1117.8L275.4 1118.2L276.4 1118.7L277.4 1119.2L278.4 1119.7L279.4 1120.2L280.3 1120.7L281.3 1121.2L282.3 1121.7L283.3 1122.2L284.3 1122.6L285.3 1123.1L286.3 1123.6L287.3 1124.1L288.3 1124.4L289.3 1124.9L290.3 1125.2L291.3 1125.7L292.3 1126L293.3 1126.5L294.3 1126.9L295.3 1127.3L296.3 1127.6L297.3 1127.9L298.3 1128.3L299.2 1128.6L300.2 1129L301.2 1129.4L302.2 1129.6L303.2 1129.8L304.2 1130.1L305.2 1130.3L306.2 1130.6L307.2 1130.7L308.2 1131L309.2 1131.2L310.2 1131.5L311.2 1131.8L312.2 1132L313.2 1132.2L314.2 1132.4L315.2 1132.6L316.2 1132.8L317.2 1133L318.2 1133.2L319.1 1133.4L320.1 1133.6L321.1 1133.8L322.1 1134.1L323.1 1134.3L324.1 1134.6L325.1 1134.7L326.1 1135L327.1 1135.2L328.1 1135.4L329.1 1135.6L330.1 1135.8L331.1 1136.1L332.1 1136.4L333.1 1136.7L334.1 1136.8L335.1 1137L336.1 1137.3L337.1 1137.5L338.1 1137.8L339.1 1138L340 1138.2L341 1138.3L342 1138.5L343 1138.7L344 1138.9L345 1139.1L346 1139.4L347 1139.5L348 1139.7L349 1139.8L350 1140L351 1140.1L352 1140.4L353 1140.6L354 1140.9L355 1141L356 1141L357 1141.2L358 1141.3L358.9 1141.6L359.9 1141.6L360.9 1141.7L361.9 1141.7L362.9 1141.8L363.9 1141.9L364.9 1142L365.9 1142L366.9 1141.9L367.9 1141.8L368.9 1141.8L369.9 1141.7L370.9 1141.5L371.9 1141.4L372.9 1141.3L373.9 1141.1L374.9 1140.8L375.9 1140.6L376.9 1140.5L377.9 1140.3L378.9 1140L379.8 1139.9L380.8 1139.7L381.8 1139.7L382.8 1139.5L383.8 1139.4L384.8 1139.1L385.8 1139L386.8 1138.8L387.8 1138.5L388.8 1138.3L389.8 1138.1L390.8 1137.8L391.8 1137.6L392.8 1137.2L393.8 1136.9L394.8 1136.6L395.8 1136.3L396.8 1136L397.8 1135.6L398.8 1135.3L399.7 1134.8L400.7 1134.6L401.7 1134.2L402.7 1133.9L403.7 1133.5L404.7 1133L405.7 1132.7L406.7 1132.4L407.7 1132L408.7 1131.6L409.7 1131.1L410.7 1130.8L411.7 1130.4L412.7 1130L413.7 1129.5L414.7 1129L415.7 1128.6L416.7 1128.3L417.7 1127.9L418.7 1127.4L419.6 1126.9L420.6 1126.7L421.6 1126.3L422.6 1125.8L423.6 1125.1L424.6 1124.6L425.6 1124L426.6 1123.5L427.6 1123.1L428.6 1122.6L429.6 1122L430.6 1121.4L431.6 1121L432.6 1120.5L433.6 1119.8L434.6 1119L435.6 1118.5L436.6 1117.9L437.6 1117.2L438.6 1116.4L439.5 1115.7L440.5 1115L441.5 1114.5L442.5 1114.1L443.5 1113.5L444.5 1112.6L445.5 1111.9L446.5 1111.1L447.5 1110.7L448.5 1110L449.5 1109.3L450.5 1108.6L451.5 1107.8L452.5 1107.2L453.5 1106.4L454.5 1105.6L455.5 1104.9L456.5 1104.2L457.5 1103.6L458.4 1102.6L459.4 1102.3L460.4 1101.6L461.4 1101.2L462.4 1100.3L463.4 1099.9L464.4 1099.2L465.4 1098.7L466.4 1098.2L467.4 1097.5L468.4 1096.7L469.4 1096L470.4 1095.4L471.4 1094.9L472.4 1094.2L473.4 1094L474.4 1093.5L475.4 1093.1L476.4 1092.4L477.4 1091.8L478.4 1091.1L479.3 1090.6L480.3 1090.1L481.3 1089.7L482.3 1089.2L483.3 1088.9L484.3 1088.1L485.3 1087.4L486.3 1086.6L487.3 1086.3L488.3 1086L489.3 1085.2L490.3 1084.4L491.3 1084.2L492.3 1084L493.3 1083.6L494.3 1082.9L495.3 1082.6L496.3 1082.3L497.3 1081.8L498.2 1081.4L499.2 1081L500.2 1080.5L501.2 1080L502.2 1079.1L503.2 1078.4L504.2 1077.7L505.2 1077.5L506.2 1077.1L507.2 1076.6L508.2 1075.6L509.2 1075.8L510.2 1075.8L511.2 1076L512.2 1074.8L513.2 1073.7L514.2 1073.1L515.2 1072.7L516.2 1072.5L517.2 1071.8L518.1 1070.9L519.1 1070.9L520.1 1070.1L521.1 1069.8L522.1 1068.9L523.1 1068.9L524.1 1068.7L525.1 1068.1L526.1 1067.6L527.1 1067L528.1 1066.9L529.1 1066.5L530.1 1066.3L531.1 1065.8L532.1 1065.3L533.1 1064.8L534.1 1064.3L535.1 1064L536.1 1063.4L537.1 1063.3L538 1062.9L539 1062.4L540 1061.2L541 1061.2L542 1060.6L543 1060.8L544 1060.2L545 1059.6L546 1059.2L547 1058.5L548 1058.5L549 1058.3L550 1058.1L551 1057.8L552 1057.3L553 1056.4L554 1055.8L555 1055.7L556 1055.3L557 1054.9L557.9 1053.9L558.9 1053.6L559.9 1053.4L560.9 1053.2L561.9 1053.1L562.9 1052.6L563.9 1052.3L564.9 1051.8L565.9 1051L566.9 1050.3L567.9 1049.9L568.9 1049.4L569.9 1049.7L570.9 1049.4L571.9 1049.1L572.9 1048.1L573.9 1047.4L574.9 1047.1L575.9 1046.5L576.9 1046.5L577.9 1046L578.8 1045.9L579.8 1045.5L580.8 1045.2L581.8 1044.8L582.8 1044.6L583.8 1044.1L584.8 1044L585.8 1043.4L586.8 1044L587.8 1043.6L588.8 1043.8L589.8 1042.7L590.8 1042.6L591.8 1042L592.8 1042L593.8 1041.8L594.8 1041.4L595.8 1041.4L596.8 1040.9L597.8 1040.5L598.7 1039.7L599.7 1039.1L600.7 1039.1L601.7 1039.5L602.7 1039.6L603.7 1039.1L604.7 1039L605.7 1038.7L606.7 1039L607.7 1039.3L608.7 1039.6L609.7 1039.1L610.7 1038.2L611.7 1038L612.7 1038.3L613.7 1038.8L614.7 1039.6L615.7 1039.9L616.7 1039.6L617.6 1039.2L618.6 1039.2L619.6 1038.9L620.6 1038.3L621.6 1038.5L622.6 1038.9L623.6 1039.3L624.6 1039L625.6 1039.8L626.6 1039.7L627.6 1040.1L628.6 1039.8L629.6 1041.3L630.6 1041.8L631.6 1042.5L632.6 1042.2L633.6 1042.5L634.6 1042.5L635.6 1042.8L636.6 1043.3L637.5 1043.5L638.5 1044.5L639.5 1044.5L640.5 1044.9L641.5 1044.1L642.5 1044.6L643.5 1045.4L644.5 1046.1L645.5 1046.7L646.5 1046.8L647.5 1047.6L648.5 1047.5L649.5 1047.2L650.5 1047.8L651.5 1048.5L652.5 1049.4L653.5 1049.9L654.5 1050.6L655.5 1051.3L656.5 1051.7L657.4 1051.9L658.4 1052.9L659.4 1053.4L660.4 1054.3L661.4 1054.3L662.4 1055.3L663.4 1056.2L664.4 1057.3L665.4 1058.1L666.4 1058.9L667.4 1059.9L668.4 1060.7L669.4 1061.6L670.4 1062.4L671.4 1063.2L672.4 1064L673.4 1065L674.4 1065.4L675.4 1066L676.4 1066.6L677.3 1067.9L678.3 1068.8L679.3 1069.7L680.3 1070.4L681.3 1071.5L682.3 1072.5L683.3 1073.3L684.3 1074.5L685.3 1075.8L686.3 1077L687.3 1078L688.3 1078.9L689.3 1079.8L690.3 1080.6L691.3 1081.6L692.3 1083L693.3 1084.5L694.3 1085.9L695.3 1086.7L696.3 1087.8L697.2 1088.9L698.2 1090.4L699.2 1091.2L700.2 1092.1L701.2 1093.4L702.2 1094.4L703.2 1095L704.2 1095.1L705.2 1095.9L706.2 1096.8L707.2 1097.7L708.2 1098.8L709.2 1099.9L710.2 1101.4L711.2 1102.7L712.2 1103.2L713.2 1103.4L714.2 1103.8L715.2 1104.8L716.2 1105.7L717.1 1106.5L718.1 1107.2L719.1 1108.3L720.1 1109.4L721.1 1110.4L722.1 1111.1L723.1 1111.3L724.1 1111.5L725.1 1112.5L726.1 1113.6L727.1 1114.8L728.1 1115.6L729.1 1116.4L730.1 1117L731.1 1118.1L732.1 1118.6L733.1 1119.6L734.1 1120.4L735.1 1121L736.1 1121.9L737 1122.4L738 1123.8L739 1124L740 1125.3L741 1125.8L742 1127.1L743 1126.7L744 1127L745 1127L746 1128.2L747 1129.1L748 1129.4L749 1129.7L750 1130.7L751 1131.4L752 1132.4L753 1132.9L754 1133.8L755 1134L756 1134.2L756.9 1134.7L757.9 1135.5L758.9 1136.6L759.9 1137L760.9 1137.1L761.9 1137L762.9 1137.3L763.9 1138.2L764.9 1138.7L765.9 1139.4L766.9 1139.2L767.9 1139.8L768.9 1140.1L769.9 1140.9L770.9 1140.9L771.9 1141.3L772.9 1140.8L773.9 1141.1L774.9 1141.7L775.9 1142.7L776.8 1143L777.8 1142.9L778.8 1143L779.8 1143.5L780.8 1144.4L781.8 1145.1L782.8 1145.3L783.8 1145.3L784.8 1145.2L785.8 1145.5L786.8 1146.1" stroke="#5fecc0" stroke-width="4"/>
<path d="M90.3 895.7L91.3 904.4L92.3 914.7L93.3 925.4L94.3 936.2L95.3 946.8L96.3 957.2L97.3 967.2L98.3 976.9L99.3 986.1L100.2 994.9L101.2 1003.2L102.2 1011.1L103.2 1018.6L104.2 1025.6L105.2 1032.2L106.2 1038.4L107.2 1044.3L108.2 1049.8L109.2 1054.9L110.2 1059.8L111.2 1064.3L112.2 1068.5L113.2 1072.3L114.2 1076L115.2 1079.4L116.2 1082.5L117.2 1085.4L118.2 1088.2L119.2 1090.7L120.2 1093.1L121.1 1095.2L122.1 1097.3L123.1 1099.2L124.1 1101L125.1 1102.6L126.1 1104.1L127.1 1105.5L128.1 1106.9L129.1 1108.1L130.1 1109.2L131.1 1110.3L132.1 1111.2L133.1 1112.1L134.1 1112.9L135.1 1113.7L136.1 1114.5L137.1 1115.2L138.1 1115.8L139.1 1116.4L140.1 1116.9L141 1117.5L142 1118.1L143 1118.6L144 1119.1L145 1119.6L146 1120.2L147 1120.6L148 1121.1L149 1121.5L150 1122.1L151 1122.5L152 1122.9L153 1123.1L154 1123.5L155 1123.7L156 1124.1L157 1124.4L158 1124.7L159 1125L159.9 1125.2L160.9 1125.4L161.9 1125.7L162.9 1125.9L163.9 1126.1L164.9 1126.2L165.9 1126.4L166.9 1126.6L167.9 1126.7L168.9 1127L169.9 1127.1L170.9 1127.2L171.9 1127.2L172.9 1127.4L173.9 1127.5L174.9 1127.5L175.9 1127.5L176.9 1127.6L177.9 1127.6L178.9 1127.6L179.8 1127.5L180.8 1127.5L181.8 1127.5L182.8 1127.4L183.8 1127.4L184.8 1127.3L185.8 1127.2L186.8 1127.1L187.8 1127L188.8 1126.9L189.8 1126.8L190.8 1126.7L191.8 1126.7L192.8 1126.4L193.8 1126.2L194.8 1125.9L195.8 1125.7L196.8 1125.4L197.8 1125.1L198.8 1124.9L199.8 1124.6L200.7 1124.3L201.7 1124.1L202.7 1123.9L203.7 1123.6L204.7 1123.3L205.7 1123.1L206.7 1122.9L207.7 1122.6L208.7 1122.4L209.7 1122L210.7 1121.7L211.7 1121.3L212.7 1121L213.7 1120.8L214.7 1120.5L215.7 1120.2L216.7 1120.1L217.7 1119.9L218.7 1119.7L219.6 1119.5L220.6 1119.4L221.6 1119.4L222.6 1119.4L223.6 1119.3L224.6 1119.2L225.6 1119.1L226.6 1119.2L227.6 1119.2L228.6 1119L229.6 1118.9L230.6 1118.9L231.6 1118.9L232.6 1118.8L233.6 1118.8L234.6 1118.8L235.6 1118.8L236.6 1118.9L237.6 1118.8L238.6 1118.8L239.6 1118.8L240.5 1118.9L241.5 1119L242.5 1119L243.5 1119.1L244.5 1119.1L245.5 1119.1L246.5 1119.1L247.5 1119.2L248.5 1119.2L249.5 1119.2L250.5 1119.2L251.5 1119.3L252.5 1119.4L253.5 1119.5L254.5 1119.6L255.5 1119.6L256.5 1119.7L257.5 1119.8L258.5 1120L259.4 1120.2L260.4 1120.3L261.4 1120.6L262.4 1120.9L263.4 1121.1L264.4 1121.3L265.4 1121.6L266.4 1121.9L267.4 1122.3L268.4 1122.6L269.4 1123L270.4 1123.3L271.4 1123.6L272.4 1124L273.4 1124.4L274.4 1124.8L275.4 1125.2L276.4 1125.6L277.4 1126L278.4 1126.4L279.4 1126.8L280.3 1127.2L281.3 1127.6L282.3 1128L283.3 1128.5L284.3 1128.8L285.3 1129.3L286.3 1129.7L287.3 1130.3L288.3 1130.6L289.3 1131L290.3 1131.2L291.3 1131.5L292.3 1131.9L293.3 1132.2L294.3 1132.4L295.3 1132.8L296.3 1133L297.3 1133.3L298.3 1133.5L299.2 1133.8L300.2 1134.2L301.2 1134.3L302.2 1134.6L303.2 1134.7L304.2 1135L305.2 1135.3L306.2 1135.5L307.2 1135.7L308.2 1135.9L309.2 1136.1L310.2 1136.3L311.2 1136.5L312.2 1136.7L313.2 1136.9L314.2 1137.1L315.2 1137.3L316.2 1137.4L317.2 1137.5L318.2 1137.7L319.1 1137.9L320.1 1138L321.1 1138.3L322.1 1138.4L323.1 1138.6L324.1 1138.8L325.1 1139L326.1 1139.1L327.1 1139.3L328.1 1139.5L329.1 1139.7L330.1 1139.9L331.1 1140L332.1 1140.2L333.1 1140.4L334.1 1140.6L335.1 1140.9L336.1 1141.1L337.1 1141.3L338.1 1141.5L339.1 1141.7L340 1141.8L341 1142L342 1142.1L343 1142.3L344 1142.4L345 1142.7L346 1142.7L347 1142.8L348 1142.9L349 1143.2L350 1143.3L351 1143.4L352 1143.6L353 1143.8L354 1144L355 1144.1L356 1144.3L357 1144.4L358 1144.5L358.9 1144.4L359.9 1144.5L360.9 1144.6L361.9 1144.7L362.9 1144.8L363.9 1144.8L364.9 1144.9L365.9 1144.9L366.9 1144.9L367.9 1144.9L368.9 1144.8L369.9 1144.7L370.9 1144.5L371.9 1144.4L372.9 1144.2L373.9 1144.1L374.9 1144L375.9 1143.8L376.9 1143.7L377.9 1143.5L378.9 1143.3L379.8 1143.2L380.8 1143.1L381.8 1143L382.8 1142.8L383.8 1142.7L384.8 1142.6L385.8 1142.4L386.8 1142.2L387.8 1142.1L388.8 1142L389.8 1141.8L390.8 1141.5L391.8 1141.3L392.8 1141.1L393.8 1140.9L394.8 1140.6L395.8 1140.3L396.8 1140L397.8 1139.7L398.8 1139.3L399.7 1139L400.7 1138.8L401.7 1138.6L402.7 1138.2L403.7 1137.8L404.7 1137.5L405.7 1137.3L406.7 1137L407.7 1136.8L408.7 1136.5L409.7 1136.2L410.7 1135.7L411.7 1135.3L412.7 1135L413.7 1134.8L414.7 1134.3L415.7 1133.9L416.7 1133.5L417.7 1133.3L418.7 1132.9L419.6 1132.5L420.6 1132.1L421.6 1131.8L422.6 1131.5L423.6 1131L424.6 1130.7L425.6 1130.3L426.6 1129.9L427.6 1129.4L428.6 1129L429.6 1128.5L430.6 1127.8L431.6 1127.3L432.6 1126.8L433.6 1126.4L434.6 1126L435.6 1125.6L436.6 1125.1L437.6 1124.5L438.6 1123.7L439.5 1123L440.5 1122.6L441.5 1122.2L442.5 1121.6L443.5 1121.1L444.5 1120.6L445.5 1120.1L446.5 1119.3L447.5 1118.7L448.5 1118.4L449.5 1117.9L450.5 1117.3L451.5 1116.7L452.5 1116.3L453.5 1116.1L454.5 1115.5L455.5 1114.9L456.5 1113.9L457.5 1113.2L458.4 1112.8L459.4 1112.4L460.4 1111.8L461.4 1111.1L462.4 1110.4L463.4 1109.8L464.4 1109.7L465.4 1109.2L466.4 1108.8L467.4 1108.2L468.4 1107.7L469.4 1107.4L470.4 1107L471.4 1106.8L472.4 1106.2L473.4 1105.5L474.4 1104.7L475.4 1104.2L476.4 1103.8L477.4 1103.7L478.4 1103.4L479.3 1103.1L480.3 1102.2L481.3 1101.8L482.3 1101.6L483.3 1101.7L484.3 1100.9L485.3 1100.4L486.3 1099.6L487.3 1099.5L488.3 1098.7L489.3 1098.7L490.3 1098.3L491.3 1097.9L492.3 1097.3L493.3 1096.9L494.3 1096.4L495.3 1096.2L496.3 1095.8L497.3 1095.4L498.2 1094.4L499.2 1093.8L500.2 1093.9L501.2 1094.1L502.2 1093.8L503.2 1093.2L504.2 1092.3L505.2 1091.5L506.2 1090.9L507.2 1090.8L508.2 1090.5L509.2 1090.1L510.2 1089.4L511.2 1089.2L512.2 1089.1L513.2 1088.6L514.2 1087.9L515.2 1087.5L516.2 1087.3L517.2 1087L518.1 1086.2L519.1 1085.5L520.1 1085.4L521.1 1085.1L522.1 1085.4L523.1 1085.5L524.1 1085.5L525.1 1084.8L526.1 1084.3L527.1 1083.9L528.1 1083.5L529.1 1082.9L530.1 1082.4L531.1 1081.9L532.1 1081.6L533.1 1081.4L534.1 1081.2L535.1 1080.5L536.1 1080.2L537.1 1079.6L538 1079.4L539 1079L540 1079L541 1079L542 1078.4L543 1078.1L544 1077.1L545 1077.5L546 1077.5L547 1077.7L548 1076.7L549 1076.2L550 1075.9L551 1075.6L552 1075.3L553 1074.7L554 1074.3L555 1073.6L556 1073.7L557 1073.7L557.9 1073.5L558.9 1072.9L559.9 1072.5L560.9 1072.2L561.9 1071.8L562.9 1071.1L563.9 1070.7L564.9 1070.4L565.9 1070L566.9 1069.8L567.9 1069.3L568.9 1068.9L569.9 1069L570.9 1069.1L571.9 1069.2L572.9 1068.3L573.9 1067.6L574.9 1067.2L575.9 1067.3L576.9 1067.4L577.9 1066.9L578.8 1066.4L579.8 1065.6L580.8 1065.1L581.8 1064.8L582.8 1064.3L583.8 1064.3L584.8 1063.7L585.8 1063.7L586.8 1063.5L587.8 1063.5L588.8 1062.9L589.8 1062.8L590.8 1062.8L591.8 1063.2L592.8 1062.6L593.8 1062.2L594.8 1061.5L595.8 1061.4L596.8 1061L597.8 1061.4L598.7 1061.4L599.7 1061.4L600.7 1061.2L601.7 1060.7L602.7 1060.2L603.7 1060.2L604.7 1060L605.7 1060.5L606.7 1059.9L607.7 1060.4L608.7 1060.3L609.7 1060.6L610.7 1060.3L611.7 1060.4L612.7 1060.3L613.7 1060.4L614.7 1059.9L615.7 1060.4L616.7 1059.9L617.6 1059.9L618.6 1059.4L619.6 1059.4L620.6 1059.6L621.6 1059.8L622.6 1059.7L623.6 1059.9L624.6 1060.1L625.6 1060.8L626.6 1061.1L627.6 1061.6L628.6 1062.4L629.6 1062.6L630.6 1062.8L631.6 1062.2L632.6 1062.3L633.6 1062.7L634.6 1063.3L635.6 1063.9L636.6 1064.1L637.5 1064.4L638.5 1064.2L639.5 1064.3L640.5 1064.3L641.5 1064.9L642.5 1065.3L643.5 1065.6L644.5 1066L645.5 1066.2L646.5 1066.5L647.5 1066.8L648.5 1067.2L649.5 1068L650.5 1067.9L651.5 1068.1L652.5 1068.1L653.5 1068.9L654.5 1069.7L655.5 1070.4L656.5 1070.4L657.4 1070.3L658.4 1070.6L659.4 1071.5L660.4 1072.4L661.4 1072.9L662.4 1073.8L663.4 1074.3L664.4 1075.4L665.4 1075.7L666.4 1076.4L667.4 1076.8L668.4 1077.5L669.4 1078L670.4 1078.8L671.4 1079.6L672.4 1080.7L673.4 1081.3L674.4 1081.7L675.4 1082.2L676.4 1083.4L677.3 1084.2L678.3 1084.8L679.3 1085.3L680.3 1086.2L681.3 1087.2L682.3 1088L683.3 1088.7L684.3 1089.6L685.3 1090.5L686.3 1092.1L687.3 1093.3L688.3 1093.6L689.3 1093.7L690.3 1094.5L691.3 1096L692.3 1096.8L693.3 1097.5L694.3 1097.9L695.3 1098.7L696.3 1099.6L697.2 1100.7L698.2 1102.2L699.2 1103L700.2 1104.1L701.2 1104.4L702.2 1105.3L703.2 1105.4L704.2 1106.5L705.2 1107.1L706.2 1108.3L707.2 1108.7L708.2 1109.7L709.2 1110L710.2 1110.7L711.2 1111.7L712.2 1112.9L713.2 1113.7L714.2 1114L715.2 1113.9L716.2 1114.8L717.1 1115.5L718.1 1116.7L719.1 1117.1L720.1 1117.4L721.1 1118.1L722.1 1119.2L723.1 1119.9L724.1 1120.5L725.1 1121.1L726.1 1122.3L727.1 1123.2L728.1 1123.5L729.1 1123.9L730.1 1124.5L731.1 1125.3L732.1 1126.4L733.1 1127L734.1 1127.5L735.1 1127.8L736.1 1128.9L737 1129.7L738 1130.3L739 1130L740 1130.1L741 1131.3L742 1132.6L743 1133.3L744 1133.3L745 1133.3L746 1133.5L747 1134.3L748 1134.5L749 1135.5L750 1135.8L751 1137.1L752 1137.8L753 1137.8L754 1137.8L755 1137.8L756 1138.4L756.9 1138.9L757.9 1139.3L758.9 1139.7L759.9 1140.1L760.9 1140.8L761.9 1141.4L762.9 1141.6L763.9 1141.9L764.9 1141.9L765.9 1142.4L766.9 1142.8L767.9 1143.9L768.9 1143.9L769.9 1143.5L770.9 1143.3L771.9 1144.3L772.9 1145L773.9 1145.4L774.9 1145L775.9 1145.4L776.8 1145.4L777.8 1145.7L778.8 1146.1L779.8 1146.3L780.8 1146.6L781.8 1146.5L782.8 1147.1L783.8 1147.2L784.8 1147.9L785.8 1147.8L786.8 1148.2" stroke="#6b3d4c" stroke-width="4"/>
<path d="M90.3 906.6L91.3 914.7L92.3 924.4L93.3 934.4L94.3 944.6L95.3 954.5L96.3 964.2L97.3 973.5L98.3 982.5L99.3 991L100.2 999.2L101.2 1007L102.2 1014.5L103.2 1021.6L104.2 1028.1L105.2 1034.3L106.2 1040L107.2 1045.6L108.2 1050.6L109.2 1055.5L110.2 1060L111.2 1064.2L112.2 1068L113.2 1071.7L114.2 1075.2L115.2 1078.4L116.2 1081.3L117.2 1084L118.2 1086.6L119.2 1088.9L120.2 1091.2L121.1 1093.2L122.1 1095.2L123.1 1096.9L124.1 1098.5L125.1 1100.1L126.1 1101.5L127.1 1102.9L128.1 1104L129.1 1105.2L130.1 1106.3L131.1 1107.3L132.1 1108.2L133.1 1109L134.1 1109.8L135.1 1110.5L136.1 1111.2L137.1 1111.8L138.1 1112.3L139.1 1112.9L140.1 1113.5L141 1114L142 1114.6L143 1115L144 1115.4L145 1115.9L146 1116.4L147 1116.9L148 1117.4L149 1117.8L150 1118.1L151 1118.4L152 1118.8L153 1119.1L154 1119.5L155 1119.8L156 1120L157 1120.2L158 1120.4L159 1120.7L159.9 1121L160.9 1121.2L161.9 1121.4L162.9 1121.6L163.9 1121.7L164.9 1121.9L165.9 1122.1L166.9 1122.3L167.9 1122.5L168.9 1122.6L169.9 1122.7L170.9 1122.8L171.9 1122.8L172.9 1123L173.9 1123.1L174.9 1123.2L175.9 1123.2L176.9 1123.2L177.9 1123.1L178.9 1123.1L179.8 1123.1L180.8 1123.1L181.8 1123.1L182.8 1123.1L183.8 1123.1L184.8 1123L185.8 1123L186.8 1122.9L187.8 1122.8L188.8 1122.7L189.8 1122.6L190.8 1122.5L191.8 1122.4L192.8 1122.4L193.8 1122.2L194.8 1122L195.8 1121.8L196.8 1121.5L197.8 1121.2L198.8 1120.9L199.8 1120.8L200.7 1120.6L201.7 1120.4L202.7 1120.2L203.7 1119.9L204.7 1119.8L205.7 1119.5L206.7 1119.4L207.7 1119L208.7 1118.8L209.7 1118.6L210.7 1118.4L211.7 1118.1L212.7 1117.8L213.7 1117.5L214.7 1117.2L215.7 1117L216.7 1117L217.7 1116.9L218.7 1116.7L219.6 1116.6L220.6 1116.6L221.6 1116.5L222.6 1116.4L223.6 1116.4L224.6 1116.3L225.6 1116.2L226.6 1116.1L227.6 1116.1L228.6 1116L229.6 1116L230.6 1116L231.6 1116L232.6 1116L233.6 1115.9L234.6 1115.9L235.6 1115.9L236.6 1115.9L237.6 1115.9L238.6 1116L239.6 1116L240.5 1116L241.5 1116L242.5 1116.1L243.5 1116.1L244.5 1116L245.5 1115.9L246.5 1116L247.5 1116L248.5 1116L249.5 1116.1L250.5 1116.1L251.5 1116.1L252.5 1116.1L253.5 1116.2L254.5 1116.2L255.5 1116.3L256.5 1116.4L257.5 1116.5L258.5 1116.6L259.4 1116.8L260.4 1116.9L261.4 1117.1L262.4 1117.2L263.4 1117.4L264.4 1117.6L265.4 1117.9L266.4 1118.2L267.4 1118.5L268.4 1118.9L269.4 1119.1L270.4 1119.3L271.4 1119.7L272.4 1120.1L273.4 1120.4L274.4 1120.8L275.4 1121L276.4 1121.4L277.4 1121.8L278.4 1122.2L279.4 1122.4L280.3 1122.9L281.3 1123.2L282.3 1123.7L283.3 1124L284.3 1124.5L285.3 1124.8L286.3 1125.2L287.3 1125.4L288.3 1125.8L289.3 1126.1L290.3 1126.4L291.3 1126.7L292.3 1127L293.3 1127.2L294.3 1127.5L295.3 1127.8L296.3 1128L297.3 1128.2L298.3 1128.4L299.2 1128.6L300.2 1128.9L301.2 1129.1L302.2 1129.4L303.2 1129.6L304.2 1129.8L305.2 1129.9L306.2 1130.1L307.2 1130.3L308.2 1130.5L309.2 1130.6L310.2 1130.9L311.2 1131L312.2 1131.1L313.2 1131.2L314.2 1131.3L315.2 1131.5L316.2 1131.7L317.2 1131.9L318.2 1132L319.1 1132.1L320.1 1132.2L321.1 1132.4L322.1 1132.6L323.1 1132.7L324.1 1132.9L325.1 1132.9L326.1 1133.1L327.1 1133.3L328.1 1133.5L329.1 1133.7L330.1 1133.8L331.1 1134L332.1 1134.2L333.1 1134.4L334.1 1134.5L335.1 1134.6L336.1 1134.7L337.1 1135L338.1 1135L339.1 1135.2L340 1135.3L341 1135.5L342 1135.6L343 1135.8L344 1136L345 1136.1L346 1136.1L347 1136.2L348 1136.3L349 1136.4L350 1136.6L351 1136.8L352 1136.9L353 1137.1L354 1137.1L355 1137.3L356 1137.5L357 1137.6L358 1137.6L358.9 1137.7L359.9 1137.7L360.9 1137.7L361.9 1137.8L362.9 1137.9L363.9 1137.9L364.9 1138L365.9 1138L366.9 1138L367.9 1137.8L368.9 1137.8L369.9 1137.8L370.9 1137.8L371.9 1137.7L372.9 1137.7L373.9 1137.5L374.9 1137.4L375.9 1137.2L376.9 1137L377.9 1136.8L378.9 1136.7L379.8 1136.5L380.8 1136.5L381.8 1136.4L382.8 1136.3L383.8 1136.2L384.8 1136.1L385.8 1136L386.8 1135.9L387.8 1135.7L388.8 1135.5L389.8 1135.3L390.8 1135.1L391.8 1134.9L392.8 1134.8L393.8 1134.6L394.8 1134.4L395.8 1134.2L396.8 1133.9L397.8 1133.7L398.8 1133.3L399.7 1133.1L400.7 1132.8L401.7 1132.6L402.7 1132.3L403.7 1132L404.7 1131.7L405.7 1131.5L406.7 1131.3L407.7 1131L408.7 1130.8L409.7 1130.6L410.7 1130.3L411.7 1130L412.7 1129.7L413.7 1129.3L414.7 1129.1L415.7 1128.8L416.7 1128.6L417.7 1128.3L418.7 1127.9L419.6 1127.8L420.6 1127.5L421.6 1127.2L422.6 1126.7L423.6 1126.3L424.6 1125.9L425.6 1125.5L426.6 1125.3L427.6 1124.7L428.6 1124.6L429.6 1124.2L430.6 1124L431.6 1123.5L432.6 1123.1L433.6 1122.6L434.6 1122.1L435.6 1121.6L436.6 1121.2L437.6 1120.6L438.6 1120.3L439.5 1119.7L440.5 1119.3L441.5 1118.9L442.5 1118.3L443.5 1118L444.5 1117.4L445.5 1117.1L446.5 1116.5L447.5 1116.1L448.5 1115.4L449.5 1115L450.5 1114.3L451.5 1114.2L452.5 1113.9L453.5 1113.5L454.5 1112.7L455.5 1112L456.5 1111.7L457.5 1111.2L458.4 1110.9L459.4 1110.1L460.4 1110L461.4 1109.6L462.4 1109.2L463.4 1109L464.4 1108.6L465.4 1108.3L466.4 1107.6L467.4 1107.3L468.4 1106.7L469.4 1106.3L470.4 1105.7L471.4 1105.8L472.4 1105.4L473.4 1104.9L474.4 1104.1L475.4 1103.6L476.4 1103.4L477.4 1103.2L478.4 1102.9L479.3 1102.4L480.3 1102.1L481.3 1101.8L482.3 1101.4L483.3 1101.1L484.3 1100.6L485.3 1100.3L486.3 1100.1L487.3 1099.5L488.3 1099L489.3 1098.6L490.3 1098.8L491.3 1098.6L492.3 1098.2L493.3 1097.9L494.3 1097.4L495.3 1097L496.3 1096.6L497.3 1096L498.2 1095.7L499.2 1095.1L500.2 1095.3L501.2 1095.1L502.2 1095.1L503.2 1094.3L504.2 1093.5L505.2 1093L506.2 1093L507.2 1092.7L508.2 1092.5L509.2 1092.2L510.2 1091.7L511.2 1091.4L512.2 1090.9L513.2 1090.7L514.2 1090.2L515.2 1090L516.2 1089.5L517.2 1089L518.1 1088.6L519.1 1088.8L520.1 1088.6L521.1 1088.2L522.1 1087.7L523.1 1087.8L524.1 1087.8L525.1 1087.1L526.1 1086.7L527.1 1086.3L528.1 1086.3L529.1 1085.7L530.1 1085.4L531.1 1085.1L532.1 1084.9L533.1 1084.6L534.1 1084L535.1 1083.4L536.1 1083L537.1 1083.3L538 1083.2L539 1083.4L540 1082.7L541 1082L542 1081.4L543 1081.1L544 1081.2L545 1081.1L546 1080.7L547 1080.4L548 1079.8L549 1079.4L550 1079.3L551 1079.5L552 1079.2L553 1078.4L554 1077.6L555 1077.3L556 1077.3L557 1076.9L557.9 1076.7L558.9 1076.1L559.9 1076.2L560.9 1076.3L561.9 1076.4L562.9 1076.5L563.9 1076.3L564.9 1076L565.9 1075.4L566.9 1075L567.9 1075L568.9 1074.7L569.9 1074.7L570.9 1074.1L571.9 1073.7L572.9 1073.3L573.9 1073.2L574.9 1073.1L575.9 1072.2L576.9 1071.7L577.9 1071.5L578.8 1071.5L579.8 1071.6L580.8 1071.6L581.8 1071.3L582.8 1070.5L583.8 1069.7L584.8 1069.6L585.8 1069.5L586.8 1069.8L587.8 1069.9L588.8 1069.9L589.8 1069.1L590.8 1068.6L591.8 1068.3L592.8 1068.6L593.8 1068.4L594.8 1068.1L595.8 1067.6L596.8 1067.5L597.8 1066.9L598.7 1067.1L599.7 1066.8L600.7 1067.4L601.7 1067.3L602.7 1067.3L603.7 1067L604.7 1066.8L605.7 1066.9L606.7 1066.2L607.7 1066.1L608.7 1066.1L609.7 1066.4L610.7 1066.3L611.7 1065.7L612.7 1066.2L613.7 1066.1L614.7 1066.4L615.7 1066.2L616.7 1066.2L617.6 1066.8L618.6 1066.7L619.6 1066.4L620.6 1066.1L621.6 1066.3L622.6 1066.2L623.6 1066L624.6 1065.7L625.6 1066.4L626.6 1067.2L627.6 1067.5L628.6 1067.7L629.6 1067.8L630.6 1068.4L631.6 1068.5L632.6 1068.4L633.6 1068.6L634.6 1069L635.6 1069.6L636.6 1069.9L637.5 1070L638.5 1069.9L639.5 1070.1L640.5 1070.4L641.5 1070.7L642.5 1070.8L643.5 1071L644.5 1071.2L645.5 1071.7L646.5 1072.1L647.5 1072.2L648.5 1072.3L649.5 1072.6L650.5 1073.1L651.5 1073.4L652.5 1073.5L653.5 1073.5L654.5 1074.3L655.5 1074.6L656.5 1075.4L657.4 1075.4L658.4 1075.8L659.4 1075.7L660.4 1076.5L661.4 1077L662.4 1078.5L663.4 1078.9L664.4 1080.2L665.4 1080.3L666.4 1081.1L667.4 1081.5L668.4 1081.9L669.4 1082.4L670.4 1082.9L671.4 1083.7L672.4 1084.1L673.4 1084.3L674.4 1084.8L675.4 1085.5L676.4 1086.6L677.3 1087L678.3 1087.3L679.3 1087.4L680.3 1088.3L681.3 1088.8L682.3 1089.5L683.3 1089.6L684.3 1090.7L685.3 1091.3L686.3 1092.3L687.3 1093L688.3 1094L689.3 1095.3L690.3 1096.1L691.3 1096.7L692.3 1097.3L693.3 1098.2L694.3 1098.6L695.3 1099.6L696.3 1099.8L697.2 1101.1L698.2 1101.5L699.2 1102.3L700.2 1102.8L701.2 1103.4L702.2 1103.8L703.2 1104.7L704.2 1105.8L705.2 1107.2L706.2 1108.2L707.2 1108.3L708.2 1109L709.2 1109.4L710.2 1110.1L711.2 1110.3L712.2 1110.5L713.2 1111.8L714.2 1112.6L715.2 1113.5L716.2 1113.5L717.1 1113.8L718.1 1113.9L719.1 1114.2L720.1 1114L721.1 1114.8L722.1 1115.5L723.1 1116.7L724.1 1117.2L725.1 1118.1L726.1 1118.7L727.1 1119.1L728.1 1119.3L729.1 1120.2L730.1 1121.5L731.1 1122.4L732.1 1122.6L733.1 1122.3L734.1 1122.8L735.1 1123.6L736.1 1124.1L737 1124L738 1124.8L739 1125.6L740 1126.4L741 1126.9L742 1126.9L743 1127.8L744 1127.9L745 1128.5L746 1128.4L747 1128.8L748 1130L749 1130.5L750 1131L751 1130.8L752 1131.5L753 1132L754 1132.7L755 1132.4L756 1132.9L756.9 1133L757.9 1133.8L758.9 1134L759.9 1133.9L760.9 1133.8L761.9 1134L762.9 1134.8L763.9 1135.5L764.9 1136.3L765.9 1136.5L766.9 1136.6L767.9 1136.5L768.9 1137L769.9 1137.1L770.9 1137.1L771.9 1137.1L772.9 1137.3L773.9 1137.6L774.9 1137.5L775.9 1138.1L776.8 1138.3L777.8 1139.1L778.8 1139.1L779.8 1139.4L780.8 1139.4L781.8 1139.8L782.8 1140L783.8 1139.8L784.8 1139.7L785.8 1139.8L786.8 1140.3" stroke="#1f5a5a" stroke-width="1.8"/>
<path d="M90.3 869.4L91.3 879.1L92.3 890.6L93.3 902.5L94.3 914.6L95.3 926.4L96.3 938L97.3 949.1L98.3 959.7L99.3 970L100.2 979.8L101.2 989.1L102.2 997.9L103.2 1006.2L104.2 1014.1L105.2 1021.6L106.2 1028.4L107.2 1034.9L108.2 1041L109.2 1046.8L110.2 1052.2L111.2 1057.1L112.2 1061.7L113.2 1066.1L114.2 1070.1L115.2 1073.8L116.2 1077.3L117.2 1080.6L118.2 1083.8L119.2 1086.5L120.2 1089.2L121.1 1091.6L122.1 1093.9L123.1 1096L124.1 1098L125.1 1099.7L126.1 1101.5L127.1 1103L128.1 1104.5L129.1 1105.9L130.1 1107.2L131.1 1108.3L132.1 1109.4L133.1 1110.4L134.1 1111.4L135.1 1112.2L136.1 1113L137.1 1113.8L138.1 1114.5L139.1 1115.2L140.1 1115.8L141 1116.4L142 1117L143 1117.6L144 1118.1L145 1118.7L146 1119.2L147 1119.7L148 1120.2L149 1120.7L150 1121.2L151 1121.6L152 1122L153 1122.4L154 1122.8L155 1123L156 1123.3L157 1123.7L158 1123.9L159 1124.2L159.9 1124.4L160.9 1124.7L161.9 1124.9L162.9 1125.2L163.9 1125.4L164.9 1125.6L165.9 1125.8L166.9 1125.9L167.9 1126.1L168.9 1126.3L169.9 1126.5L170.9 1126.6L171.9 1126.7L172.9 1126.8L173.9 1126.8L174.9 1126.9L175.9 1126.9L176.9 1127L177.9 1127L178.9 1127L179.8 1127L180.8 1127L181.8 1127L182.8 1127L183.8 1126.9L184.8 1126.8L185.8 1126.7L186.8 1126.7L187.8 1126.7L188.8 1126.7L189.8 1126.6L190.8 1126.5L191.8 1126.4L192.8 1126.2L193.8 1126.1L194.8 1125.9L195.8 1125.7L196.8 1125.4L197.8 1125.2L198.8 1125L199.8 1124.8L200.7 1124.5L201.7 1124.3L202.7 1124.1L203.7 1123.9L204.7 1123.6L205.7 1123.4L206.7 1123.2L207.7 1123L208.7 1122.7L209.7 1122.5L210.7 1122.2L211.7 1122L212.7 1121.7L213.7 1121.5L214.7 1121.2L215.7 1121L216.7 1120.8L217.7 1120.7L218.7 1120.6L219.6 1120.5L220.6 1120.4L221.6 1120.3L222.6 1120.3L223.6 1120.2L224.6 1120.1L225.6 1120.1L226.6 1120.1L227.6 1120L228.6 1119.9L229.6 1119.9L230.6 1119.9L231.6 1119.9L232.6 1119.9L233.6 1119.9L234.6 1119.8L235.6 1119.8L236.6 1119.8L237.6 1119.8L238.6 1119.9L239.6 1119.8L240.5 1119.8L241.5 1119.9L242.5 1119.9L243.5 1120L244.5 1119.9L245.5 1119.9L246.5 1119.9L247.5 1119.9L248.5 1119.9L249.5 1120L250.5 1120L251.5 1120.1L252.5 1120.1L253.5 1120.2L254.5 1120.3L255.5 1120.3L256.5 1120.4L257.5 1120.5L258.5 1120.6L259.4 1120.7L260.4 1120.8L261.4 1121L262.4 1121.2L263.4 1121.4L264.4 1121.8L265.4 1122.1L266.4 1122.4L267.4 1122.6L268.4 1123L269.4 1123.3L270.4 1123.6L271.4 1123.8L272.4 1124.2L273.4 1124.5L274.4 1124.9L275.4 1125.2L276.4 1125.6L277.4 1126L278.4 1126.3L279.4 1126.7L280.3 1127L281.3 1127.4L282.3 1127.8L283.3 1128.2L284.3 1128.6L285.3 1129L286.3 1129.4L287.3 1129.7L288.3 1130L289.3 1130.3L290.3 1130.6L291.3 1131L292.3 1131.3L293.3 1131.5L294.3 1131.7L295.3 1132L296.3 1132.2L297.3 1132.5L298.3 1132.7L299.2 1132.9L300.2 1133.1L301.2 1133.4L302.2 1133.7L303.2 1133.9L304.2 1134.1L305.2 1134.3L306.2 1134.5L307.2 1134.7L308.2 1134.9L309.2 1135.1L310.2 1135.2L311.2 1135.4L312.2 1135.5L313.2 1135.7L314.2 1135.8L315.2 1136L316.2 1136.1L317.2 1136.3L318.2 1136.4L319.1 1136.6L320.1 1136.8L321.1 1136.9L322.1 1137L323.1 1137.1L324.1 1137.3L325.1 1137.5L326.1 1137.6L327.1 1137.7L328.1 1137.8L329.1 1138L330.1 1138.2L331.1 1138.5L332.1 1138.6L333.1 1138.8L334.1 1139L335.1 1139.2L336.1 1139.4L337.1 1139.6L338.1 1139.7L339.1 1139.9L340 1140L341 1140.1L342 1140.3L343 1140.4L344 1140.5L345 1140.6L346 1140.7L347 1140.8L348 1141L349 1141.1L350 1141.3L351 1141.4L352 1141.6L353 1141.8L354 1141.9L355 1142L356 1142L357 1142.2L358 1142.3L358.9 1142.4L359.9 1142.5L360.9 1142.5L361.9 1142.6L362.9 1142.6L363.9 1142.6L364.9 1142.7L365.9 1142.7L366.9 1142.7L367.9 1142.6L368.9 1142.6L369.9 1142.5L370.9 1142.4L371.9 1142.3L372.9 1142.1L373.9 1142L374.9 1141.8L375.9 1141.6L376.9 1141.5L377.9 1141.6L378.9 1141.5L379.8 1141.4L380.8 1141.3L381.8 1141.2L382.8 1141.1L383.8 1140.9L384.8 1140.7L385.8 1140.4L386.8 1140.3L387.8 1140.2L388.8 1140.1L389.8 1139.9L390.8 1139.7L391.8 1139.5L392.8 1139.4L393.8 1139.2L394.8 1138.9L395.8 1138.5L396.8 1138.2L397.8 1137.9L398.8 1137.7L399.7 1137.5L400.7 1137.3L401.7 1137.1L402.7 1136.9L403.7 1136.5L404.7 1136.3L405.7 1136L406.7 1135.8L407.7 1135.5L408.7 1135.2L409.7 1134.9L410.7 1134.7L411.7 1134.5L412.7 1134.1L413.7 1133.7L414.7 1133.3L415.7 1133.1L416.7 1132.9L417.7 1132.5L418.7 1132.2L419.6 1131.7L420.6 1131.5L421.6 1131.1L422.6 1130.8L423.6 1130.4L424.6 1130.1L425.6 1129.7L426.6 1129.4L427.6 1129L428.6 1128.8L429.6 1128.3L430.6 1127.9L431.6 1127.3L432.6 1127L433.6 1126.6L434.6 1126.2L435.6 1125.5L436.6 1124.9L437.6 1124.3L438.6 1124.1L439.5 1123.7L440.5 1123.4L441.5 1122.9L442.5 1122.5L443.5 1122L444.5 1121.6L445.5 1121.2L446.5 1120.6L447.5 1120L448.5 1119.6L449.5 1119.1L450.5 1118.5L451.5 1118L452.5 1117.3L453.5 1116.9L454.5 1116.5L455.5 1116.2L456.5 1115.8L457.5 1115L458.4 1114.5L459.4 1113.9L460.4 1113.5L461.4 1113.1L462.4 1112.7L463.4 1112.6L464.4 1112.4L465.4 1112L466.4 1111L467.4 1110.5L468.4 1110.1L469.4 1110L470.4 1109.4L471.4 1109.1L472.4 1108.6L473.4 1108.3L474.4 1107.8L475.4 1107.5L476.4 1107.2L477.4 1106.7L478.4 1106.1L479.3 1105.6L480.3 1105.2L481.3 1105.1L482.3 1105L483.3 1104.6L484.3 1104L485.3 1103.4L486.3 1103.3L487.3 1103.1L488.3 1103.1L489.3 1102.4L490.3 1102L491.3 1101.6L492.3 1101.3L493.3 1100.9L494.3 1100.5L495.3 1100.2L496.3 1099.7L497.3 1099.1L498.2 1098.7L499.2 1098.4L500.2 1098.2L501.2 1098L502.2 1097.4L503.2 1097L504.2 1096.4L505.2 1096.3L506.2 1095.9L507.2 1095.5L508.2 1095.4L509.2 1095.3L510.2 1095.1L511.2 1094.3L512.2 1093.5L513.2 1093.1L514.2 1092.7L515.2 1092.7L516.2 1092.5L517.2 1092.3L518.1 1092.1L519.1 1092L520.1 1092L521.1 1091.2L522.1 1090.4L523.1 1090.3L524.1 1090.3L525.1 1090.2L526.1 1089.6L527.1 1089.2L528.1 1088.7L529.1 1088.6L530.1 1088.1L531.1 1087.6L532.1 1087.3L533.1 1087.3L534.1 1087L535.1 1086.4L536.1 1085.9L537.1 1086L538 1085.4L539 1085.5L540 1084.9L541 1084.5L542 1084.1L543 1083.7L544 1083.7L545 1083.3L546 1083.3L547 1082.9L548 1082.6L549 1082.4L550 1083.1L551 1083L552 1082.7L553 1081.9L554 1081.1L555 1080.5L556 1079.8L557 1079.4L557.9 1078.7L558.9 1078.7L559.9 1078.2L560.9 1078.7L561.9 1078.5L562.9 1078.3L563.9 1077.6L564.9 1077.5L565.9 1077.4L566.9 1077.5L567.9 1077.1L568.9 1077L569.9 1076.2L570.9 1075.9L571.9 1075.2L572.9 1075L573.9 1074.7L574.9 1074.4L575.9 1074.2L576.9 1074.4L577.9 1074.1L578.8 1074L579.8 1073.1L580.8 1073L581.8 1072.5L582.8 1072.5L583.8 1072.3L584.8 1072.1L585.8 1071.9L586.8 1071.8L587.8 1071.5L588.8 1071.2L589.8 1071.1L590.8 1070.9L591.8 1071.1L592.8 1071L593.8 1071.2L594.8 1070.8L595.8 1070.4L596.8 1069.6L597.8 1069.7L598.7 1069.5L599.7 1069.7L600.7 1069.3L601.7 1069.5L602.7 1068.8L603.7 1068.6L604.7 1068L605.7 1068.1L606.7 1068.1L607.7 1068.4L608.7 1068.3L609.7 1068.4L610.7 1068.6L611.7 1068.9L612.7 1068.7L613.7 1068.6L614.7 1068.2L615.7 1068.1L616.7 1068.1L617.6 1068.6L618.6 1068.9L619.6 1068.6L620.6 1068.7L621.6 1067.6L622.6 1067.6L623.6 1067.6L624.6 1068.8L625.6 1069.3L626.6 1069.6L627.6 1069.8L628.6 1069.9L629.6 1070.1L630.6 1070L631.6 1070.3L632.6 1070.7L633.6 1071.1L634.6 1071.7L635.6 1072.3L636.6 1072.5L637.5 1072.2L638.5 1072.1L639.5 1072.4L640.5 1072.6L641.5 1073.1L642.5 1073.4L643.5 1074.1L644.5 1074.3L645.5 1074.3L646.5 1074.7L647.5 1075.2L648.5 1075.4L649.5 1075.4L650.5 1075.2L651.5 1075.5L652.5 1075.9L653.5 1076L654.5 1076.5L655.5 1076.9L656.5 1077.4L657.4 1077.7L658.4 1078.2L659.4 1078.9L660.4 1079.8L661.4 1080.2L662.4 1080.8L663.4 1081L664.4 1081.4L665.4 1081.7L666.4 1082.3L667.4 1083.1L668.4 1083.8L669.4 1084L670.4 1085.1L671.4 1085.8L672.4 1087L673.4 1087.1L674.4 1087.6L675.4 1088L676.4 1088.3L677.3 1088.8L678.3 1089.3L679.3 1090.5L680.3 1091.4L681.3 1092.5L682.3 1092.8L683.3 1093.6L684.3 1094.3L685.3 1094.8L686.3 1095.3L687.3 1096L688.3 1097.4L689.3 1098.5L690.3 1099.3L691.3 1099.8L692.3 1100.6L693.3 1101.6L694.3 1102.2L695.3 1102.9L696.3 1103.4L697.2 1104L698.2 1104.8L699.2 1105.7L700.2 1107.1L701.2 1108L702.2 1108.4L703.2 1108.7L704.2 1108.9L705.2 1109.8L706.2 1110.7L707.2 1111.5L708.2 1112.4L709.2 1113L710.2 1113.5L711.2 1113.8L712.2 1114.4L713.2 1115L714.2 1115.8L715.2 1116.1L716.2 1116.1L717.1 1116.7L718.1 1117.7L719.1 1118.8L720.1 1119.3L721.1 1119.7L722.1 1120L723.1 1120.4L724.1 1121.2L725.1 1122.3L726.1 1123.3L727.1 1123.6L728.1 1123.7L729.1 1124.6L730.1 1125L731.1 1125.9L732.1 1126.5L733.1 1127.2L734.1 1127.6L735.1 1127.4L736.1 1128L737 1128.5L738 1129.7L739 1129.8L740 1130.4L741 1130.3L742 1131.3L743 1132L744 1133.2L745 1133L746 1133.3L747 1133.7L748 1134.7L749 1134.9L750 1134.8L751 1134.9L752 1135.8L753 1136.4L754 1137.3L755 1137.8L756 1138L756.9 1137.7L757.9 1137.8L758.9 1138.6L759.9 1139.4L760.9 1139.8L761.9 1139.3L762.9 1139.6L763.9 1140.1L764.9 1141L765.9 1141.4L766.9 1141.5L767.9 1141.5L768.9 1141.2L769.9 1141.5L770.9 1142.2L771.9 1142.6L772.9 1142.9L773.9 1142.9L774.9 1143.5L775.9 1143.5L776.8 1143.5L777.8 1143.5L778.8 1143.8L779.8 1144.1L780.8 1144.6L781.8 1145L782.8 1145.3L783.8 1145.4L784.8 1145.7L785.8 1146L786.8 1145.8" stroke="#4fe07a" stroke-width="2"/>
<path d="M90.3 884.7L91.3 893.8L92.3 904.6L93.3 915.8L94.3 927L95.3 938.1L96.3 948.9L97.3 959.3L98.3 969.3L99.3 978.9L100.2 988.1L101.2 996.8L102.2 1005.1L103.2 1012.8L104.2 1020.2L105.2 1027L106.2 1033.5L107.2 1039.6L108.2 1045.3L109.2 1050.6L110.2 1055.6L111.2 1060.3L112.2 1064.8L113.2 1068.9L114.2 1072.7L115.2 1076.2L116.2 1079.4L117.2 1082.5L118.2 1085.4L119.2 1088.1L120.2 1090.5L121.1 1092.8L122.1 1095L123.1 1096.9L124.1 1098.8L125.1 1100.5L126.1 1102.1L127.1 1103.5L128.1 1104.8L129.1 1106.1L130.1 1107.3L131.1 1108.4L132.1 1109.4L133.1 1110.4L134.1 1111.2L135.1 1112.1L136.1 1112.8L137.1 1113.5L138.1 1114.2L139.1 1114.8L140.1 1115.4L141 1115.9L142 1116.5L143 1117L144 1117.5L145 1118L146 1118.6L147 1119.1L148 1119.6L149 1120L150 1120.4L151 1120.8L152 1121.2L153 1121.5L154 1121.8L155 1122.2L156 1122.4L157 1122.7L158 1122.9L159 1123.2L159.9 1123.4L160.9 1123.7L161.9 1124L162.9 1124.2L163.9 1124.4L164.9 1124.6L165.9 1124.8L166.9 1125L167.9 1125.1L168.9 1125.2L169.9 1125.4L170.9 1125.5L171.9 1125.6L172.9 1125.7L173.9 1125.8L174.9 1125.9L175.9 1125.9L176.9 1125.9L177.9 1125.9L178.9 1125.9L179.8 1125.8L180.8 1125.8L181.8 1125.8L182.8 1125.8L183.8 1125.9L184.8 1125.8L185.8 1125.7L186.8 1125.6L187.8 1125.6L188.8 1125.6L189.8 1125.5L190.8 1125.5L191.8 1125.4L192.8 1125.2L193.8 1125L194.8 1124.8L195.8 1124.6L196.8 1124.4L197.8 1124.3L198.8 1124L199.8 1123.8L200.7 1123.6L201.7 1123.4L202.7 1123.2L203.7 1123L204.7 1122.8L205.7 1122.6L206.7 1122.4L207.7 1122.2L208.7 1121.9L209.7 1121.6L210.7 1121.4L211.7 1121.3L212.7 1121L213.7 1120.8L214.7 1120.5L215.7 1120.3L216.7 1120.1L217.7 1120L218.7 1119.9L219.6 1119.8L220.6 1119.8L221.6 1119.7L222.6 1119.6L223.6 1119.5L224.6 1119.5L225.6 1119.5L226.6 1119.5L227.6 1119.4L228.6 1119.3L229.6 1119.2L230.6 1119.2L231.6 1119.2L232.6 1119.2L233.6 1119.2L234.6 1119.3L235.6 1119.3L236.6 1119.2L237.6 1119.2L238.6 1119.2L239.6 1119.2L240.5 1119.2L241.5 1119.2L242.5 1119.2L243.5 1119.2L244.5 1119.3L245.5 1119.3L246.5 1119.3L247.5 1119.2L248.5 1119.2L249.5 1119.2L250.5 1119.3L251.5 1119.4L252.5 1119.4L253.5 1119.4L254.5 1119.5L255.5 1119.5L256.5 1119.6L257.5 1119.7L258.5 1119.9L259.4 1120L260.4 1120.1L261.4 1120.1L262.4 1120.3L263.4 1120.5L264.4 1120.8L265.4 1121L266.4 1121.4L267.4 1121.8L268.4 1122L269.4 1122.3L270.4 1122.5L271.4 1122.8L272.4 1123L273.4 1123.4L274.4 1123.8L275.4 1124.1L276.4 1124.4L277.4 1124.8L278.4 1125.2L279.4 1125.5L280.3 1125.9L281.3 1126.2L282.3 1126.6L283.3 1126.9L284.3 1127.3L285.3 1127.6L286.3 1128.1L287.3 1128.4L288.3 1128.7L289.3 1129L290.3 1129.3L291.3 1129.7L292.3 1129.9L293.3 1130.2L294.3 1130.4L295.3 1130.6L296.3 1130.9L297.3 1131.1L298.3 1131.3L299.2 1131.4L300.2 1131.7L301.2 1131.9L302.2 1132.1L303.2 1132.3L304.2 1132.6L305.2 1132.8L306.2 1132.9L307.2 1133L308.2 1133.2L309.2 1133.4L310.2 1133.6L311.2 1133.7L312.2 1133.7L313.2 1133.9L314.2 1134L315.2 1134.2L316.2 1134.3L317.2 1134.5L318.2 1134.7L319.1 1134.8L320.1 1134.9L321.1 1135.1L322.1 1135.2L323.1 1135.3L324.1 1135.4L325.1 1135.5L326.1 1135.8L327.1 1136L328.1 1136.1L329.1 1136.2L330.1 1136.4L331.1 1136.6L332.1 1136.7L333.1 1136.9L334.1 1137L335.1 1137.2L336.1 1137.4L337.1 1137.5L338.1 1137.6L339.1 1137.8L340 1137.9L341 1138.1L342 1138.2L343 1138.3L344 1138.5L345 1138.5L346 1138.7L347 1138.9L348 1139L349 1139.1L350 1139.2L351 1139.3L352 1139.5L353 1139.6L354 1139.7L355 1139.9L356 1139.9L357 1139.9L358 1139.9L358.9 1140L359.9 1140.2L360.9 1140.3L361.9 1140.4L362.9 1140.4L363.9 1140.4L364.9 1140.5L365.9 1140.5L366.9 1140.5L367.9 1140.4L368.9 1140.4L369.9 1140.3L370.9 1140.3L371.9 1140.1L372.9 1140L373.9 1139.8L374.9 1139.7L375.9 1139.5L376.9 1139.5L377.9 1139.4L378.9 1139.3L379.8 1139.1L380.8 1139L381.8 1138.8L382.8 1138.8L383.8 1138.8L384.8 1138.7L385.8 1138.4L386.8 1138.3L387.8 1138.2L388.8 1138.2L389.8 1138.1L390.8 1137.8L391.8 1137.5L392.8 1137.3L393.8 1137.2L394.8 1136.9L395.8 1136.6L396.8 1136.4L397.8 1136.3L398.8 1136L399.7 1135.7L400.7 1135.6L401.7 1135.4L402.7 1135.2L403.7 1135L404.7 1134.7L405.7 1134.3L406.7 1134L407.7 1133.8L408.7 1133.6L409.7 1133.4L410.7 1133.1L411.7 1132.7L412.7 1132.5L413.7 1132.3L414.7 1131.9L415.7 1131.5L416.7 1131.2L417.7 1131L418.7 1130.8L419.6 1130.6L420.6 1130.1L421.6 1129.8L422.6 1129.4L423.6 1129.2L424.6 1128.9L425.6 1128.6L426.6 1128.3L427.6 1128.1L428.6 1127.7L429.6 1127.3L430.6 1126.8L431.6 1126.3L432.6 1125.9L433.6 1125.4L434.6 1125L435.6 1124.8L436.6 1124.5L437.6 1123.9L438.6 1123.5L439.5 1122.8L440.5 1122.5L441.5 1122.1L442.5 1121.9L443.5 1121.3L444.5 1120.8L445.5 1120.2L446.5 1119.8L447.5 1119.4L448.5 1118.8L449.5 1118.3L450.5 1117.7L451.5 1117.5L452.5 1117.2L453.5 1116.7L454.5 1115.9L455.5 1115.3L456.5 1114.9L457.5 1114.5L458.4 1114.6L459.4 1114.3L460.4 1113.7L461.4 1113.2L462.4 1112.6L463.4 1112.6L464.4 1112.1L465.4 1111.9L466.4 1111.2L467.4 1110.7L468.4 1110.1L469.4 1110.1L470.4 1109.7L471.4 1109.3L472.4 1109.2L473.4 1108.9L474.4 1108.7L475.4 1107.7L476.4 1107.2L477.4 1106.7L478.4 1106.4L479.3 1106L480.3 1105.8L481.3 1105.5L482.3 1105.5L483.3 1105.2L484.3 1104.9L485.3 1104L486.3 1103.8L487.3 1103.4L488.3 1103.4L489.3 1102.8L490.3 1102.3L491.3 1101.9L492.3 1101.8L493.3 1101.6L494.3 1101.1L495.3 1100.5L496.3 1100L497.3 1100.2L498.2 1099.7L499.2 1099.6L500.2 1099.3L501.2 1099.1L502.2 1098.9L503.2 1098.3L504.2 1097.7L505.2 1097.2L506.2 1097.1L507.2 1096.9L508.2 1096.3L509.2 1095.6L510.2 1095.9L511.2 1095.9L512.2 1095.4L513.2 1094.9L514.2 1094.5L515.2 1094.5L516.2 1094L517.2 1093.6L518.1 1093.9L519.1 1093.5L520.1 1093.4L521.1 1092.4L522.1 1091.9L523.1 1091.6L524.1 1091.5L525.1 1091.1L526.1 1090.2L527.1 1089.7L528.1 1089.9L529.1 1089.9L530.1 1090L531.1 1089.3L532.1 1089L533.1 1088.2L534.1 1088.8L535.1 1088.8L536.1 1088.9L537.1 1088.2L538 1088L539 1087.5L540 1087.4L541 1086.4L542 1086.3L543 1085.9L544 1086.3L545 1085.8L546 1085.3L547 1085.1L548 1085.7L549 1085.6L550 1085.3L551 1084.3L552 1084.2L553 1083.6L554 1083.6L555 1083.1L556 1083L557 1082.2L557.9 1082L558.9 1081.5L559.9 1081.6L560.9 1081.3L561.9 1081.3L562.9 1081.3L563.9 1080.9L564.9 1080.4L565.9 1079.5L566.9 1079.1L567.9 1078.4L568.9 1078L569.9 1077.8L570.9 1078.2L571.9 1078.4L572.9 1078L573.9 1077.5L574.9 1076.9L575.9 1077L576.9 1076.7L577.9 1076.5L578.8 1076L579.8 1075.7L580.8 1075.6L581.8 1075.4L582.8 1075.2L583.8 1074.8L584.8 1074.9L585.8 1074L586.8 1073.9L587.8 1073.8L588.8 1074.7L589.8 1074.8L590.8 1074.3L591.8 1073.8L592.8 1073.2L593.8 1073.2L594.8 1073.1L595.8 1073.3L596.8 1073.2L597.8 1072.8L598.7 1072.9L599.7 1072.6L600.7 1072.9L601.7 1072.5L602.7 1072.4L603.7 1071.9L604.7 1072.1L605.7 1072L606.7 1071.9L607.7 1072.1L608.7 1071.8L609.7 1071.8L610.7 1071.3L611.7 1071.1L612.7 1071.4L613.7 1071.7L614.7 1072.2L615.7 1071.9L616.7 1071.9L617.6 1071.9L618.6 1071.5L619.6 1071.3L620.6 1071L621.6 1071.1L622.6 1070.7L623.6 1071.2L624.6 1071.4L625.6 1071.9L626.6 1071.7L627.6 1072.3L628.6 1072.8L629.6 1073.3L630.6 1073.4L631.6 1073.6L632.6 1073.9L633.6 1074.2L634.6 1074.4L635.6 1074.4L636.6 1074.7L637.5 1075L638.5 1075.4L639.5 1075.5L640.5 1075.2L641.5 1075.4L642.5 1076.1L643.5 1076.1L644.5 1076L645.5 1075.6L646.5 1076.3L647.5 1076.8L648.5 1076.8L649.5 1077.5L650.5 1077.7L651.5 1078.2L652.5 1077.7L653.5 1078.2L654.5 1078.4L655.5 1079.2L656.5 1079.8L657.4 1080.8L658.4 1081L659.4 1081.5L660.4 1081.8L661.4 1082.2L662.4 1082.6L663.4 1083L664.4 1083.4L665.4 1083.3L666.4 1083.8L667.4 1085L668.4 1085.4L669.4 1086L670.4 1086.4L671.4 1087.6L672.4 1088.8L673.4 1089.2L674.4 1089.6L675.4 1090.1L676.4 1090.6L677.3 1091L678.3 1091.3L679.3 1092.2L680.3 1092.8L681.3 1093.2L682.3 1094L683.3 1094.6L684.3 1095.4L685.3 1096.2L686.3 1097.2L687.3 1097.9L688.3 1098.1L689.3 1098.7L690.3 1100L691.3 1101.3L692.3 1102L693.3 1102.2L694.3 1102.9L695.3 1103.9L696.3 1104.3L697.2 1105.3L698.2 1105.6L699.2 1106.3L700.2 1106.6L701.2 1107.5L702.2 1108.3L703.2 1108.8L704.2 1109.2L705.2 1109.6L706.2 1110.4L707.2 1111L708.2 1111.8L709.2 1112.3L710.2 1112.9L711.2 1113.2L712.2 1114.1L713.2 1114.6L714.2 1115.6L715.2 1116L716.2 1116.7L717.1 1117L718.1 1117.1L719.1 1117.8L720.1 1118.3L721.1 1118.7L722.1 1119L723.1 1119.6L724.1 1120.4L725.1 1120.8L726.1 1121.8L727.1 1122.1L728.1 1122.7L729.1 1122.6L730.1 1123.3L731.1 1124.1L732.1 1124.8L733.1 1125.2L734.1 1125.3L735.1 1126.1L736.1 1127L737 1127.5L738 1128L739 1128.2L740 1128.9L741 1129.4L742 1130.1L743 1130.7L744 1130.8L745 1131.3L746 1131.7L747 1132.2L748 1132.4L749 1132.6L750 1133.2L751 1133.6L752 1134.4L753 1134.5L754 1135L755 1134.8L756 1134.7L756.9 1135.1L757.9 1135.9L758.9 1136.2L759.9 1136.3L760.9 1136.2L761.9 1137L762.9 1137.1L763.9 1137.9L764.9 1138.7L765.9 1139.1L766.9 1139.5L767.9 1138.9L768.9 1139.4L769.9 1139.1L770.9 1139.9L771.9 1140.4L772.9 1140.6L773.9 1140.3L774.9 1140.1L775.9 1141L776.8 1141.3L777.8 1141L778.8 1140.9L779.8 1141.4L780.8 1142.3L781.8 1142.3L782.8 1142.4L783.8 1142.8L784.8 1143.2L785.8 1143.1L786.8 1143.2" stroke="#7c9a1e" stroke-width="4.5"/>
<path d="M90.3 854.8L91.3 865.1L92.3 877.4L93.3 890L94.3 902.8L95.3 915.3L96.3 927.6L97.3 939.5L98.3 950.9L99.3 961.8L100.2 972.2L101.2 982.1L102.2 991.4L103.2 1000.3L104.2 1008.7L105.2 1016.6L106.2 1024L107.2 1030.9L108.2 1037.4L109.2 1043.5L110.2 1049.1L111.2 1054.5L112.2 1059.4L113.2 1064.1L114.2 1068.4L115.2 1072.4L116.2 1076.1L117.2 1079.6L118.2 1082.9L119.2 1085.9L120.2 1088.7L121.1 1091.3L122.1 1093.7L123.1 1096L124.1 1098.2L125.1 1100.1L126.1 1101.9L127.1 1103.5L128.1 1105L129.1 1106.5L130.1 1107.9L131.1 1109.1L132.1 1110.3L133.1 1111.3L134.1 1112.3L135.1 1113.3L136.1 1114.1L137.1 1114.9L138.1 1115.7L139.1 1116.4L140.1 1117L141 1117.7L142 1118.3L143 1119L144 1119.6L145 1120.1L146 1120.7L147 1121.2L148 1121.7L149 1122.2L150 1122.6L151 1123.1L152 1123.6L153 1124L154 1124.3L155 1124.7L156 1125L157 1125.3L158 1125.6L159 1125.8L159.9 1126.1L160.9 1126.4L161.9 1126.6L162.9 1126.9L163.9 1127L164.9 1127.2L165.9 1127.4L166.9 1127.6L167.9 1127.7L168.9 1127.9L169.9 1128.1L170.9 1128.2L171.9 1128.3L172.9 1128.3L173.9 1128.5L174.9 1128.5L175.9 1128.6L176.9 1128.6L177.9 1128.7L178.9 1128.7L179.8 1128.8L180.8 1128.7L181.8 1128.8L182.8 1128.8L183.8 1128.8L184.8 1128.7L185.8 1128.7L186.8 1128.6L187.8 1128.6L188.8 1128.5L189.8 1128.5L190.8 1128.4L191.8 1128.4L192.8 1128.2L193.8 1128L194.8 1127.8L195.8 1127.7L196.8 1127.5L197.8 1127.3L198.8 1127.1L199.8 1126.9L200.7 1126.7L201.7 1126.5L202.7 1126.3L203.7 1126.1L204.7 1126L205.7 1125.8L206.7 1125.5L207.7 1125.3L208.7 1125.1L209.7 1124.9L210.7 1124.7L211.7 1124.4L212.7 1124.2L213.7 1124L214.7 1123.8L215.7 1123.6L216.7 1123.5L217.7 1123.3L218.7 1123.2L219.6 1123.1L220.6 1123.1L221.6 1123L222.6 1122.9L223.6 1122.7L224.6 1122.7L225.6 1122.6L226.6 1122.6L227.6 1122.5L228.6 1122.6L229.6 1122.6L230.6 1122.6L231.6 1122.5L232.6 1122.5L233.6 1122.4L234.6 1122.4L235.6 1122.4L236.6 1122.5L237.6 1122.5L238.6 1122.6L239.6 1122.6L240.5 1122.6L241.5 1122.5L242.5 1122.6L243.5 1122.6L244.5 1122.6L245.5 1122.6L246.5 1122.6L247.5 1122.6L248.5 1122.6L249.5 1122.6L250.5 1122.6L251.5 1122.6L252.5 1122.6L253.5 1122.7L254.5 1122.7L255.5 1122.8L256.5 1122.8L257.5 1122.9L258.5 1122.9L259.4 1123.1L260.4 1123.2L261.4 1123.5L262.4 1123.7L263.4 1123.9L264.4 1124L265.4 1124.3L266.4 1124.6L267.4 1124.8L268.4 1125.1L269.4 1125.3L270.4 1125.7L271.4 1126L272.4 1126.3L273.4 1126.7L274.4 1127L275.4 1127.4L276.4 1127.6L277.4 1128L278.4 1128.3L279.4 1128.6L280.3 1129L281.3 1129.5L282.3 1129.9L283.3 1130.2L284.3 1130.5L285.3 1130.9L286.3 1131.2L287.3 1131.5L288.3 1131.8L289.3 1132L290.3 1132.3L291.3 1132.6L292.3 1132.8L293.3 1133.1L294.3 1133.4L295.3 1133.7L296.3 1133.9L297.3 1134.2L298.3 1134.4L299.2 1134.7L300.2 1134.9L301.2 1135L302.2 1135.3L303.2 1135.4L304.2 1135.7L305.2 1135.8L306.2 1136L307.2 1136.1L308.2 1136.2L309.2 1136.4L310.2 1136.6L311.2 1136.7L312.2 1136.8L313.2 1136.9L314.2 1137.1L315.2 1137.2L316.2 1137.3L317.2 1137.5L318.2 1137.6L319.1 1137.8L320.1 1137.9L321.1 1138.1L322.1 1138.2L323.1 1138.3L324.1 1138.4L325.1 1138.6L326.1 1138.8L327.1 1139L328.1 1139.1L329.1 1139.2L330.1 1139.4L331.1 1139.5L332.1 1139.7L333.1 1139.8L334.1 1140L335.1 1140.2L336.1 1140.4L337.1 1140.5L338.1 1140.6L339.1 1140.8L340 1140.9L341 1141.1L342 1141.2L343 1141.3L344 1141.4L345 1141.6L346 1141.7L347 1141.8L348 1141.8L349 1142L350 1142L351 1142.2L352 1142.3L353 1142.5L354 1142.6L355 1142.7L356 1142.8L357 1142.9L358 1143L358.9 1143L359.9 1143L360.9 1143.1L361.9 1143.1L362.9 1143.2L363.9 1143.3L364.9 1143.3L365.9 1143.4L366.9 1143.3L367.9 1143.3L368.9 1143.2L369.9 1143.2L370.9 1143.1L371.9 1143.1L372.9 1143L373.9 1142.9L374.9 1142.7L375.9 1142.6L376.9 1142.4L377.9 1142.3L378.9 1142.3L379.8 1142.2L380.8 1142L381.8 1141.7L382.8 1141.6L383.8 1141.5L384.8 1141.5L385.8 1141.4L386.8 1141.3L387.8 1141.2L388.8 1141L389.8 1140.8L390.8 1140.7L391.8 1140.5L392.8 1140.4L393.8 1140.1L394.8 1139.8L395.8 1139.5L396.8 1139.3L397.8 1139.1L398.8 1139L399.7 1138.8L400.7 1138.5L401.7 1138.2L402.7 1138L403.7 1137.7L404.7 1137.5L405.7 1137.3L406.7 1136.9L407.7 1136.8L408.7 1136.5L409.7 1136.3L410.7 1136L411.7 1135.7L412.7 1135.4L413.7 1135.2L414.7 1135.2L415.7 1134.9L416.7 1134.5L417.7 1134.1L418.7 1133.8L419.6 1133.5L420.6 1133.1L421.6 1132.9L422.6 1132.7L423.6 1132.4L424.6 1132.1L425.6 1131.7L426.6 1131.4L427.6 1131L428.6 1130.8L429.6 1130.4L430.6 1130L431.6 1129.4L432.6 1129L433.6 1128.5L434.6 1128.2L435.6 1127.8L436.6 1127.4L437.6 1126.9L438.6 1126.5L439.5 1126.3L440.5 1125.7L441.5 1125.3L442.5 1124.7L443.5 1124.5L444.5 1124L445.5 1123.7L446.5 1123.1L447.5 1122.7L448.5 1121.8L449.5 1121.5L450.5 1120.9L451.5 1120.7L452.5 1120.4L453.5 1120.3L454.5 1120L455.5 1119.2L456.5 1118.4L457.5 1117.9L458.4 1117.5L459.4 1117.3L460.4 1117.1L461.4 1116.6L462.4 1116L463.4 1115.6L464.4 1115.5L465.4 1115.3L466.4 1114.6L467.4 1114L468.4 1113.4L469.4 1113.1L470.4 1112.8L471.4 1112.7L472.4 1112.4L473.4 1112.1L474.4 1111.5L475.4 1111.3L476.4 1110.6L477.4 1110.3L478.4 1109.9L479.3 1109.7L480.3 1109.5L481.3 1109.1L482.3 1109.4L483.3 1109.2L484.3 1109L485.3 1108.3L486.3 1107.7L487.3 1107.4L488.3 1106.9L489.3 1106.3L490.3 1105.9L491.3 1105.5L492.3 1105.3L493.3 1105.1L494.3 1105.2L495.3 1105L496.3 1104.2L497.3 1103.8L498.2 1103.9L499.2 1103.6L500.2 1102.8L501.2 1102.1L502.2 1101.8L503.2 1101.3L504.2 1101.1L505.2 1101.1L506.2 1101.2L507.2 1100.5L508.2 1100.3L509.2 1100L510.2 1099.6L511.2 1098.9L512.2 1098.3L513.2 1098.5L514.2 1098.3L515.2 1098.3L516.2 1097.6L517.2 1097.3L518.1 1096.7L519.1 1096.7L520.1 1096.4L521.1 1096.2L522.1 1095.9L523.1 1095.6L524.1 1095.6L525.1 1095.5L526.1 1095.7L527.1 1095.2L528.1 1094.5L529.1 1093.8L530.1 1093.9L531.1 1093.7L532.1 1093.5L533.1 1092.8L534.1 1092.6L535.1 1092.2L536.1 1091.6L537.1 1091.1L538 1090.5L539 1090.4L540 1090.5L541 1090.4L542 1090.5L543 1089.9L544 1090.2L545 1089.8L546 1089.5L547 1089.1L548 1088.5L549 1088.3L550 1088L551 1087.8L552 1087.5L553 1087.2L554 1087.3L555 1086.9L556 1086.8L557 1086.4L557.9 1086.2L558.9 1085.9L559.9 1085.5L560.9 1085.3L561.9 1084.9L562.9 1084.7L563.9 1084.2L564.9 1084L565.9 1083.9L566.9 1084.2L567.9 1084.3L568.9 1083.8L569.9 1083.1L570.9 1082L571.9 1082.2L572.9 1082.3L573.9 1082.5L574.9 1081.4L575.9 1080.8L576.9 1080.5L577.9 1080.7L578.8 1080.6L579.8 1080.6L580.8 1080.2L581.8 1080.3L582.8 1079.8L583.8 1079.5L584.8 1079L585.8 1079L586.8 1079L587.8 1078.7L588.8 1078.4L589.8 1078.5L590.8 1078.6L591.8 1078.4L592.8 1078L593.8 1077.7L594.8 1077.5L595.8 1077.4L596.8 1077L597.8 1076.6L598.7 1076.2L599.7 1076.3L600.7 1076.4L601.7 1076.4L602.7 1076.7L603.7 1076.8L604.7 1076.6L605.7 1076.3L606.7 1076.2L607.7 1076.6L608.7 1076.3L609.7 1076.4L610.7 1075.8L611.7 1075.9L612.7 1076L613.7 1076.3L614.7 1076.6L615.7 1076.1L616.7 1075.8L617.6 1075.7L618.6 1076L619.6 1076L620.6 1076L621.6 1075.5L622.6 1075.8L623.6 1075.6L624.6 1076.4L625.6 1076.5L626.6 1077.1L627.6 1076.9L628.6 1077L629.6 1077.2L630.6 1078L631.6 1079L632.6 1079.1L633.6 1078.9L634.6 1078.9L635.6 1078.9L636.6 1078.9L637.5 1078.6L638.5 1078.8L639.5 1079.1L640.5 1079.5L641.5 1080.2L642.5 1080.2L643.5 1080.5L644.5 1080.1L645.5 1080.3L646.5 1080.6L647.5 1081.4L648.5 1081.9L649.5 1082.2L650.5 1082.1L651.5 1082.2L652.5 1082.8L653.5 1083.5L654.5 1084L655.5 1084.3L656.5 1084.5L657.4 1085.3L658.4 1085.5L659.4 1086L660.4 1086.2L661.4 1086.8L662.4 1087.1L663.4 1087.3L664.4 1087.5L665.4 1088.2L666.4 1088.9L667.4 1089.8L668.4 1090.4L669.4 1090.9L670.4 1091.3L671.4 1091.7L672.4 1092.1L673.4 1092.4L674.4 1093.1L675.4 1093.7L676.4 1094.4L677.3 1094.8L678.3 1095.5L679.3 1096.5L680.3 1097L681.3 1097.7L682.3 1098L683.3 1099L684.3 1099.1L685.3 1100.1L686.3 1100.2L687.3 1101.1L688.3 1101.3L689.3 1102.2L690.3 1103L691.3 1104.1L692.3 1104.6L693.3 1105.5L694.3 1106.1L695.3 1107.7L696.3 1108.3L697.2 1108.9L698.2 1109.4L699.2 1110L700.2 1110.8L701.2 1111.3L702.2 1111.8L703.2 1112.2L704.2 1112.8L705.2 1113.9L706.2 1114.6L707.2 1115.2L708.2 1115.5L709.2 1116.4L710.2 1116.5L711.2 1116.4L712.2 1116.9L713.2 1117.2L714.2 1118.2L715.2 1118.7L716.2 1119.4L717.1 1119.6L718.1 1120.1L719.1 1121L720.1 1121.5L721.1 1121.8L722.1 1122.9L723.1 1123.9L724.1 1124.9L725.1 1124.9L726.1 1125.4L727.1 1125.9L728.1 1126.4L729.1 1126.5L730.1 1127.3L731.1 1127.7L732.1 1128.5L733.1 1129L734.1 1129.8L735.1 1130.7L736.1 1130.7L737 1131.1L738 1131.2L739 1132.1L740 1132.6L741 1133.1L742 1133L743 1133.5L744 1134.2L745 1134.8L746 1135.1L747 1135.6L748 1136.3L749 1136.4L750 1137.1L751 1136.8L752 1136.9L753 1136.4L754 1137.2L755 1138.1L756 1138.6L756.9 1139.1L757.9 1138.8L758.9 1139.4L759.9 1139.1L760.9 1139.8L761.9 1140L762.9 1140.6L763.9 1141.3L764.9 1141.4L765.9 1141.5L766.9 1141.6L767.9 1141.9L768.9 1142.3L769.9 1142.3L770.9 1142.3L771.9 1142.4L772.9 1143L773.9 1143.6L774.9 1143.8L775.9 1144L776.8 1144.2L777.8 1144.2L778.8 1144.3L779.8 1144.3L780.8 1144.9L781.8 1145.1L782.8 1145.1L783.8 1145.1L784.8 1145.7L785.8 1146.1L786.8 1146.2" stroke="#b274e6" stroke-width="3"/>
<path d="M90.3 890.2L91.3 897.9L92.3 907.1L93.3 916.7L94.3 926.4L95.3 936L96.3 945.5L97.3 954.8L98.3 963.9L99.3 972.6L100.2 980.9L101.2 989L102.2 996.8L103.2 1004.2L104.2 1011.2L105.2 1017.8L106.2 1024.2L107.2 1030.3L108.2 1036L109.2 1041.4L110.2 1046.5L111.2 1051.3L112.2 1055.9L113.2 1060.1L114.2 1064.2L115.2 1068L116.2 1071.7L117.2 1075.1L118.2 1078.3L119.2 1081.3L120.2 1084L121.1 1086.6L122.1 1089.1L123.1 1091.4L124.1 1093.6L125.1 1095.7L126.1 1097.6L127.1 1099.5L128.1 1101.2L129.1 1102.8L130.1 1104.2L131.1 1105.6L132.1 1106.9L133.1 1108.1L134.1 1109.2L135.1 1110.3L136.1 1111.4L137.1 1112.4L138.1 1113.2L139.1 1114.1L140.1 1114.8L141 1115.6L142 1116.4L143 1117.1L144 1117.9L145 1118.5L146 1119.1L147 1119.8L148 1120.3L149 1120.9L150 1121.5L151 1121.9L152 1122.3L153 1122.7L154 1123.2L155 1123.6L156 1124L157 1124.3L158 1124.7L159 1125.1L159.9 1125.5L160.9 1125.8L161.9 1126L162.9 1126.2L163.9 1126.5L164.9 1126.7L165.9 1126.9L166.9 1127.1L167.9 1127.3L168.9 1127.5L169.9 1127.7L170.9 1127.9L171.9 1128.1L172.9 1128.2L173.9 1128.2L174.9 1128.3L175.9 1128.4L176.9 1128.5L177.9 1128.5L178.9 1128.6L179.8 1128.7L180.8 1128.7L181.8 1128.7L182.8 1128.6L183.8 1128.6L184.8 1128.7L185.8 1128.7L186.8 1128.7L187.8 1128.7L188.8 1128.7L189.8 1128.6L190.8 1128.6L191.8 1128.5L192.8 1128.4L193.8 1128.4L194.8 1128.2L195.8 1128.1L196.8 1127.9L197.8 1127.8L198.8 1127.6L199.8 1127.5L200.7 1127.4L201.7 1127.2L202.7 1127.1L203.7 1126.9L204.7 1126.7L205.7 1126.6L206.7 1126.4L207.7 1126.2L208.7 1126L209.7 1125.8L210.7 1125.7L211.7 1125.5L212.7 1125.3L213.7 1125.1L214.7 1124.9L215.7 1124.7L216.7 1124.6L217.7 1124.5L218.7 1124.3L219.6 1124.3L220.6 1124.2L221.6 1124.1L222.6 1124.1L223.6 1124.1L224.6 1124.2L225.6 1124.2L226.6 1124.1L227.6 1124L228.6 1124L229.6 1124L230.6 1124L231.6 1124L232.6 1124L233.6 1123.9L234.6 1123.9L235.6 1123.9L236.6 1123.9L237.6 1123.9L238.6 1123.9L239.6 1124L240.5 1124L241.5 1124.1L242.5 1124.1L243.5 1124L244.5 1124L245.5 1124L246.5 1124L247.5 1124L248.5 1124L249.5 1124L250.5 1124L251.5 1124L252.5 1124.1L253.5 1124.1L254.5 1124.1L255.5 1124.1L256.5 1124.2L257.5 1124.3L258.5 1124.4L259.4 1124.5L260.4 1124.5L261.4 1124.7L262.4 1124.9L263.4 1125.1L264.4 1125.2L265.4 1125.4L266.4 1125.7L267.4 1126L268.4 1126.3L269.4 1126.6L270.4 1126.9L271.4 1127.1L272.4 1127.4L273.4 1127.7L274.4 1128L275.4 1128.3L276.4 1128.7L277.4 1129L278.4 1129.4L279.4 1129.7L280.3 1130L281.3 1130.4L282.3 1130.7L283.3 1131.1L284.3 1131.4L285.3 1131.7L286.3 1132L287.3 1132.4L288.3 1132.6L289.3 1132.9L290.3 1133.2L291.3 1133.5L292.3 1133.8L293.3 1134.1L294.3 1134.4L295.3 1134.7L296.3 1134.9L297.3 1135.1L298.3 1135.3L299.2 1135.5L300.2 1135.7L301.2 1135.9L302.2 1136.1L303.2 1136.4L304.2 1136.5L305.2 1136.8L306.2 1136.9L307.2 1137.1L308.2 1137.3L309.2 1137.5L310.2 1137.7L311.2 1137.9L312.2 1138.1L313.2 1138.4L314.2 1138.6L315.2 1138.8L316.2 1138.9L317.2 1139.1L318.2 1139.3L319.1 1139.6L320.1 1139.8L321.1 1140L322.1 1140.1L323.1 1140.3L324.1 1140.4L325.1 1140.7L326.1 1140.9L327.1 1141.1L328.1 1141.2L329.1 1141.4L330.1 1141.6L331.1 1141.8L332.1 1142.1L333.1 1142.3L334.1 1142.4L335.1 1142.7L336.1 1142.9L337.1 1143.1L338.1 1143.3L339.1 1143.5L340 1143.7L341 1143.8L342 1144L343 1144.2L344 1144.3L345 1144.4L346 1144.6L347 1144.8L348 1145L349 1145.1L350 1145.2L351 1145.4L352 1145.6L353 1145.8L354 1145.9L355 1146L356 1146L357 1146.2L358 1146.3L358.9 1146.5L359.9 1146.6L360.9 1146.6L361.9 1146.7L362.9 1146.7L363.9 1146.8L364.9 1146.8L365.9 1146.9L366.9 1146.9L367.9 1146.9L368.9 1146.8L369.9 1146.7L370.9 1146.7L371.9 1146.6L372.9 1146.7L373.9 1146.5L374.9 1146.4L375.9 1146.3L376.9 1146.1L377.9 1146L378.9 1145.9L379.8 1145.8L380.8 1145.8L381.8 1145.7L382.8 1145.7L383.8 1145.6L384.8 1145.5L385.8 1145.4L386.8 1145.3L387.8 1145.2L388.8 1145.1L389.8 1145L390.8 1144.8L391.8 1144.5L392.8 1144.3L393.8 1144.3L394.8 1144.2L395.8 1144.1L396.8 1143.8L397.8 1143.5L398.8 1143.3L399.7 1143.1L400.7 1142.9L401.7 1142.6L402.7 1142.5L403.7 1142.2L404.7 1142L405.7 1141.8L406.7 1141.5L407.7 1141.3L408.7 1141.1L409.7 1140.9L410.7 1140.8L411.7 1140.6L412.7 1140.5L413.7 1140.3L414.7 1140L415.7 1139.7L416.7 1139.4L417.7 1139.2L418.7 1138.9L419.6 1138.6L420.6 1138.2L421.6 1137.9L422.6 1137.5L423.6 1137.3L424.6 1137.2L425.6 1136.9L426.6 1136.5L427.6 1136.1L428.6 1135.8L429.6 1135.6L430.6 1135.3L431.6 1135.1L432.6 1134.7L433.6 1134.4L434.6 1134.2L435.6 1133.8L436.6 1133.4L437.6 1132.8L438.6 1132.4L439.5 1132.1L440.5 1131.5L441.5 1131.1L442.5 1130.7L443.5 1130.5L444.5 1130.3L445.5 1129.7L446.5 1129.4L447.5 1128.9L448.5 1128.6L449.5 1128.4L450.5 1128.1L451.5 1127.8L452.5 1127.2L453.5 1126.8L454.5 1126.3L455.5 1125.5L456.5 1125.1L457.5 1124.9L458.4 1124.8L459.4 1124.4L460.4 1124L461.4 1123.7L462.4 1123.6L463.4 1123.3L464.4 1123L465.4 1122.3L466.4 1121.9L467.4 1121.7L468.4 1121.5L469.4 1121.2L470.4 1120.8L471.4 1120.6L472.4 1119.9L473.4 1119.6L474.4 1118.9L475.4 1118.9L476.4 1118.2L477.4 1118.3L478.4 1118L479.3 1118.4L480.3 1117.7L481.3 1117.3L482.3 1116.6L483.3 1116.2L484.3 1115.5L485.3 1114.8L486.3 1114.6L487.3 1114.8L488.3 1114.9L489.3 1115.2L490.3 1114.7L491.3 1114.7L492.3 1114.1L493.3 1113.7L494.3 1113L495.3 1112.9L496.3 1113.1L497.3 1112.6L498.2 1112.3L499.2 1111.9L500.2 1112.2L501.2 1111.7L502.2 1111.5L503.2 1110.7L504.2 1110.6L505.2 1110.3L506.2 1110.7L507.2 1110L508.2 1109.3L509.2 1108.6L510.2 1108.6L511.2 1108.5L512.2 1107.9L513.2 1108L514.2 1108L515.2 1107.5L516.2 1106.6L517.2 1106.1L518.1 1106.3L519.1 1106.1L520.1 1105.8L521.1 1105.3L522.1 1105.5L523.1 1105.4L524.1 1105.3L525.1 1104.7L526.1 1104.7L527.1 1104.6L528.1 1104.6L529.1 1104.2L530.1 1103.9L531.1 1103.3L532.1 1102.8L533.1 1102.4L534.1 1102.3L535.1 1102.4L536.1 1102.4L537.1 1102.3L538 1102.2L539 1102.1L540 1101.6L541 1100.8L542 1100.4L543 1100.6L544 1100.6L545 1100.5L546 1099.7L547 1099.7L548 1099.2L549 1099.3L550 1098.7L551 1098.8L552 1098.4L553 1098.3L554 1097.9L555 1098L556 1097.9L557 1098.1L557.9 1097.5L558.9 1097.2L559.9 1096.2L560.9 1096.4L561.9 1095.7L562.9 1095.7L563.9 1095.2L564.9 1095.2L565.9 1095.4L566.9 1095.4L567.9 1094.9L568.9 1094.9L569.9 1094.3L570.9 1094L571.9 1093.3L572.9 1092.8L573.9 1092.9L574.9 1092.9L575.9 1092.7L576.9 1092.2L577.9 1091.9L578.8 1091.6L579.8 1091.9L580.8 1091.4L581.8 1091.6L582.8 1091.1L583.8 1091.1L584.8 1090.8L585.8 1090.5L586.8 1090.1L587.8 1089.6L588.8 1089.5L589.8 1089.7L590.8 1090.1L591.8 1089.6L592.8 1089.2L593.8 1089L594.8 1089.2L595.8 1088.9L596.8 1088.8L597.8 1088.6L598.7 1088.8L599.7 1088.6L600.7 1088.5L601.7 1088.9L602.7 1088.5L603.7 1088.6L604.7 1088.1L605.7 1088.6L606.7 1087.9L607.7 1087.8L608.7 1087.8L609.7 1088.5L610.7 1088.7L611.7 1088.4L612.7 1088.6L613.7 1088.8L614.7 1088.8L615.7 1088.4L616.7 1088.1L617.6 1087.5L618.6 1087.6L619.6 1088.2L620.6 1088.5L621.6 1088.2L622.6 1088L623.6 1087.9L624.6 1088.1L625.6 1088.4L626.6 1088.9L627.6 1089.5L628.6 1089.1L629.6 1089.2L630.6 1089.1L631.6 1089.5L632.6 1089.6L633.6 1090L634.6 1090.7L635.6 1091.3L636.6 1091.6L637.5 1091.3L638.5 1090.9L639.5 1090.4L640.5 1091.1L641.5 1091.5L642.5 1091.8L643.5 1091.3L644.5 1091.6L645.5 1092.2L646.5 1093L647.5 1093.1L648.5 1093L649.5 1093L650.5 1093.5L651.5 1093.6L652.5 1094.4L653.5 1094.4L654.5 1094.7L655.5 1094.6L656.5 1094.9L657.4 1095.7L658.4 1096.3L659.4 1097L660.4 1097.5L661.4 1098.2L662.4 1098.2L663.4 1098.8L664.4 1099.2L665.4 1099.6L666.4 1099.7L667.4 1099.6L668.4 1100L669.4 1100.5L670.4 1101.1L671.4 1102.3L672.4 1102.8L673.4 1103.2L674.4 1103.3L675.4 1103.8L676.4 1104.1L677.3 1104.6L678.3 1105.5L679.3 1106.5L680.3 1107.8L681.3 1108L682.3 1108.8L683.3 1108.9L684.3 1109.9L685.3 1110.7L686.3 1110.7L687.3 1111.4L688.3 1112.2L689.3 1113.6L690.3 1114.2L691.3 1114.3L692.3 1114.9L693.3 1115.5L694.3 1116.4L695.3 1117.1L696.3 1117.8L697.2 1118.7L698.2 1119.4L699.2 1120L700.2 1120.7L701.2 1121.2L702.2 1121.5L703.2 1122.3L704.2 1122.8L705.2 1123.5L706.2 1123.8L707.2 1124.4L708.2 1124.9L709.2 1125.5L710.2 1125.9L711.2 1126.6L712.2 1127L713.2 1127.6L714.2 1128.1L715.2 1128.3L716.2 1129.2L717.1 1129.7L718.1 1130.7L719.1 1131.2L720.1 1131.9L721.1 1132.3L722.1 1133L723.1 1133.2L724.1 1133.9L725.1 1133.9L726.1 1134.7L727.1 1135L728.1 1135.6L729.1 1136.2L730.1 1136.8L731.1 1137.4L732.1 1137.8L733.1 1138.2L734.1 1138.6L735.1 1139.4L736.1 1140.1L737 1140.6L738 1141.2L739 1141.2L740 1141.7L741 1141.9L742 1142.7L743 1143L744 1143.2L745 1143.4L746 1143.9L747 1144.7L748 1145.3L749 1145.5L750 1145.8L751 1145.8L752 1146.4L753 1146.8L754 1147.2L755 1147.4L756 1147.5L756.9 1148.3L757.9 1148.8L758.9 1149.2L759.9 1149.7L760.9 1149.5L761.9 1149.5L762.9 1149L763.9 1149.4L764.9 1149.9L765.9 1150.3L766.9 1150.7L767.9 1150.5L768.9 1151.1L769.9 1151.6L770.9 1152.2L771.9 1152.3L772.9 1152L773.9 1152.3L774.9 1152.3L775.9 1152.6L776.8 1152.9L777.8 1153.4L778.8 1153.8L779.8 1154.1L780.8 1154L781.8 1153.9L782.8 1153.7L783.8 1154.1L784.8 1154.6L785.8 1154.6L786.8 1154.3" stroke="#6fe21e" stroke-width="4.8"/>
<path d="M90.3 925.7L91.3 933.4L92.3 942.5L93.3 952L94.3 961.4L95.3 970.8L96.3 980L97.3 988.9L98.3 997.4L99.3 1005.5L100.2 1013.3L101.2 1020.7L102.2 1027.7L103.2 1034.3L104.2 1040.6L105.2 1046.4L106.2 1051.9L107.2 1057L108.2 1061.9L109.2 1066.5L110.2 1070.7L111.2 1074.6L112.2 1078.3L113.2 1081.9L114.2 1085.1L115.2 1088.1L116.2 1090.9L117.2 1093.4L118.2 1095.8L119.2 1098.1L120.2 1100.2L121.1 1102.2L122.1 1104L123.1 1105.6L124.1 1107.2L125.1 1108.6L126.1 1110L127.1 1111.2L128.1 1112.3L129.1 1113.4L130.1 1114.4L131.1 1115.4L132.1 1116.2L133.1 1117L134.1 1117.7L135.1 1118.4L136.1 1119.1L137.1 1119.7L138.1 1120.3L139.1 1120.7L140.1 1121.2L141 1121.7L142 1122.2L143 1122.7L144 1123.2L145 1123.6L146 1124.1L147 1124.5L148 1124.9L149 1125.3L150 1125.7L151 1126L152 1126.3L153 1126.6L154 1126.9L155 1127.1L156 1127.3L157 1127.6L158 1127.9L159 1128.1L159.9 1128.3L160.9 1128.4L161.9 1128.6L162.9 1128.8L163.9 1129L164.9 1129.1L165.9 1129.3L166.9 1129.4L167.9 1129.6L168.9 1129.7L169.9 1129.8L170.9 1130L171.9 1130.1L172.9 1130.1L173.9 1130.2L174.9 1130.2L175.9 1130.2L176.9 1130.2L177.9 1130.3L178.9 1130.3L179.8 1130.3L180.8 1130.3L181.8 1130.3L182.8 1130.2L183.8 1130.2L184.8 1130.1L185.8 1130.1L186.8 1130L187.8 1130.1L188.8 1130L189.8 1129.9L190.8 1129.8L191.8 1129.7L192.8 1129.5L193.8 1129.4L194.8 1129.3L195.8 1129.1L196.8 1129L197.8 1128.8L198.8 1128.6L199.8 1128.3L200.7 1128.1L201.7 1127.9L202.7 1127.7L203.7 1127.6L204.7 1127.5L205.7 1127.2L206.7 1127L207.7 1126.7L208.7 1126.5L209.7 1126.3L210.7 1126.2L211.7 1126L212.7 1125.8L213.7 1125.6L214.7 1125.3L215.7 1125.2L216.7 1125L217.7 1124.9L218.7 1124.8L219.6 1124.8L220.6 1124.7L221.6 1124.6L222.6 1124.6L223.6 1124.5L224.6 1124.5L225.6 1124.4L226.6 1124.4L227.6 1124.2L228.6 1124.1L229.6 1124.1L230.6 1124.2L231.6 1124.2L232.6 1124.2L233.6 1124.2L234.6 1124.2L235.6 1124.1L236.6 1124.1L237.6 1124.1L238.6 1124.1L239.6 1124.1L240.5 1124.1L241.5 1124.1L242.5 1124.1L243.5 1124.1L244.5 1124.1L245.5 1124.1L246.5 1124.1L247.5 1124L248.5 1124L249.5 1124.1L250.5 1124.1L251.5 1124.1L252.5 1124.1L253.5 1124.1L254.5 1124.1L255.5 1124.1L256.5 1124.3L257.5 1124.3L258.5 1124.5L259.4 1124.5L260.4 1124.7L261.4 1124.8L262.4 1125L263.4 1125.2L264.4 1125.3L265.4 1125.6L266.4 1125.8L267.4 1126.1L268.4 1126.3L269.4 1126.6L270.4 1126.8L271.4 1127.2L272.4 1127.5L273.4 1127.8L274.4 1128.1L275.4 1128.4L276.4 1128.7L277.4 1129.1L278.4 1129.3L279.4 1129.7L280.3 1130L281.3 1130.4L282.3 1130.7L283.3 1131L284.3 1131.4L285.3 1131.7L286.3 1132.1L287.3 1132.4L288.3 1132.7L289.3 1132.9L290.3 1133.1L291.3 1133.4L292.3 1133.8L293.3 1134L294.3 1134.1L295.3 1134.4L296.3 1134.6L297.3 1134.8L298.3 1135L299.2 1135.2L300.2 1135.4L301.2 1135.6L302.2 1135.8L303.2 1135.9L304.2 1136.1L305.2 1136.3L306.2 1136.4L307.2 1136.6L308.2 1136.7L309.2 1136.9L310.2 1137.1L311.2 1137.2L312.2 1137.3L313.2 1137.4L314.2 1137.5L315.2 1137.7L316.2 1137.8L317.2 1137.9L318.2 1138L319.1 1138.2L320.1 1138.4L321.1 1138.6L322.1 1138.6L323.1 1138.7L324.1 1138.8L325.1 1139L326.1 1139.2L327.1 1139.3L328.1 1139.4L329.1 1139.6L330.1 1139.7L331.1 1139.9L332.1 1140.1L333.1 1140.2L334.1 1140.3L335.1 1140.3L336.1 1140.5L337.1 1140.6L338.1 1140.8L339.1 1140.9L340 1141L341 1141.2L342 1141.4L343 1141.5L344 1141.5L345 1141.5L346 1141.6L347 1141.8L348 1141.9L349 1142L350 1142.1L351 1142.2L352 1142.4L353 1142.6L354 1142.7L355 1142.7L356 1142.8L357 1142.9L358 1143.1L358.9 1143.1L359.9 1143.1L360.9 1143.2L361.9 1143.2L362.9 1143.2L363.9 1143.2L364.9 1143.2L365.9 1143.3L366.9 1143.3L367.9 1143.3L368.9 1143.2L369.9 1143.1L370.9 1143L371.9 1142.9L372.9 1142.8L373.9 1142.7L374.9 1142.7L375.9 1142.6L376.9 1142.5L377.9 1142.4L378.9 1142.2L379.8 1142.1L380.8 1142L381.8 1141.9L382.8 1141.8L383.8 1141.8L384.8 1141.7L385.8 1141.6L386.8 1141.4L387.8 1141.3L388.8 1141L389.8 1140.9L390.8 1140.7L391.8 1140.6L392.8 1140.5L393.8 1140.4L394.8 1140.2L395.8 1139.9L396.8 1139.6L397.8 1139.4L398.8 1139.2L399.7 1139L400.7 1138.8L401.7 1138.6L402.7 1138.4L403.7 1138.2L404.7 1137.9L405.7 1137.6L406.7 1137.4L407.7 1137.4L408.7 1137.2L409.7 1137L410.7 1136.6L411.7 1136.4L412.7 1136.2L413.7 1135.9L414.7 1135.7L415.7 1135.3L416.7 1135L417.7 1134.6L418.7 1134.4L419.6 1134.1L420.6 1134L421.6 1133.8L422.6 1133.6L423.6 1133.1L424.6 1132.8L425.6 1132.5L426.6 1132.4L427.6 1132L428.6 1131.7L429.6 1131.2L430.6 1130.9L431.6 1130.4L432.6 1130L433.6 1129.7L434.6 1129.4L435.6 1129.1L436.6 1128.7L437.6 1128.2L438.6 1127.7L439.5 1127.3L440.5 1126.9L441.5 1126.5L442.5 1126L443.5 1125.7L444.5 1125.4L445.5 1125.1L446.5 1124.7L447.5 1124.4L448.5 1123.8L449.5 1123.3L450.5 1122.5L451.5 1122.4L452.5 1122L453.5 1122L454.5 1121.5L455.5 1121L456.5 1120.2L457.5 1119.8L458.4 1119.5L459.4 1119.2L460.4 1118.7L461.4 1118.4L462.4 1118.2L463.4 1118L464.4 1117.4L465.4 1117L466.4 1116.6L467.4 1116.3L468.4 1115.9L469.4 1115.4L470.4 1115.5L471.4 1115.1L472.4 1114.8L473.4 1114.1L474.4 1113.9L475.4 1114L476.4 1114L477.4 1113.5L478.4 1113L479.3 1112.4L480.3 1112.1L481.3 1111.3L482.3 1110.8L483.3 1110.7L484.3 1110.9L485.3 1111L486.3 1110.4L487.3 1110.1L488.3 1109.6L489.3 1109.4L490.3 1109.4L491.3 1109L492.3 1109L493.3 1108.5L494.3 1108.4L495.3 1107.7L496.3 1107.5L497.3 1107.1L498.2 1106.8L499.2 1105.9L500.2 1105.7L501.2 1105.3L502.2 1105.3L503.2 1104.9L504.2 1104.6L505.2 1104.2L506.2 1104L507.2 1104.4L508.2 1104.4L509.2 1103.9L510.2 1102.9L511.2 1102.4L512.2 1101.9L513.2 1101.7L514.2 1101.7L515.2 1101.9L516.2 1101.9L517.2 1101.3L518.1 1100.9L519.1 1100.5L520.1 1100.2L521.1 1100L522.1 1099.4L523.1 1099.7L524.1 1099.3L525.1 1099.3L526.1 1098.7L527.1 1098.4L528.1 1097.8L529.1 1097.8L530.1 1097.1L531.1 1097.1L532.1 1097.1L533.1 1097.5L534.1 1097.4L535.1 1096.6L536.1 1096.5L537.1 1095.7L538 1095.8L539 1095.3L540 1095.1L541 1095.1L542 1094.3L543 1094.5L544 1094.2L545 1094.1L546 1093.7L547 1093.4L548 1093.4L549 1092.7L550 1091.7L551 1091.5L552 1091.8L553 1092.1L554 1091.8L555 1091.2L556 1090.9L557 1090.5L557.9 1090.7L558.9 1090L559.9 1090.3L560.9 1089.9L561.9 1090L562.9 1089.3L563.9 1088.7L564.9 1088.7L565.9 1088.9L566.9 1089.1L567.9 1088.5L568.9 1088.2L569.9 1088L570.9 1087.4L571.9 1086.8L572.9 1086.3L573.9 1086.2L574.9 1086.2L575.9 1086.3L576.9 1086.8L577.9 1086.3L578.8 1085.8L579.8 1085.1L580.8 1085.3L581.8 1085L582.8 1084.7L583.8 1084L584.8 1083.5L585.8 1083.5L586.8 1083.2L587.8 1083.1L588.8 1082.4L589.8 1082.7L590.8 1082.5L591.8 1083.1L592.8 1082.6L593.8 1082.9L594.8 1082.2L595.8 1082.5L596.8 1082.2L597.8 1082.1L598.7 1082.2L599.7 1082L600.7 1081.7L601.7 1081.2L602.7 1080.9L603.7 1080.5L604.7 1080.5L605.7 1080.4L606.7 1080.8L607.7 1081.1L608.7 1081.2L609.7 1081.5L610.7 1081.2L611.7 1080.8L612.7 1080.7L613.7 1080.9L614.7 1081.5L615.7 1081.3L616.7 1080.8L617.6 1080.8L618.6 1081.1L619.6 1081.1L620.6 1081L621.6 1080.6L622.6 1080.9L623.6 1080.6L624.6 1080.8L625.6 1080.9L626.6 1082L627.6 1082.5L628.6 1082.7L629.6 1082.3L630.6 1082.4L631.6 1082.8L632.6 1083.6L633.6 1083.6L634.6 1083.8L635.6 1083.2L636.6 1083.5L637.5 1083.6L638.5 1084.4L639.5 1084.3L640.5 1084.4L641.5 1084.3L642.5 1085.4L643.5 1085.5L644.5 1086L645.5 1086.3L646.5 1086.7L647.5 1086.7L648.5 1086.7L649.5 1086.3L650.5 1086.8L651.5 1087L652.5 1087.9L653.5 1087.8L654.5 1087.9L655.5 1088.3L656.5 1088.4L657.4 1089L658.4 1089.7L659.4 1090.7L660.4 1091L661.4 1091L662.4 1090.8L663.4 1091.2L664.4 1091.8L665.4 1092.9L666.4 1093.5L667.4 1093.7L668.4 1094.3L669.4 1094.3L670.4 1095.2L671.4 1095.5L672.4 1096.3L673.4 1097L674.4 1097.3L675.4 1097.9L676.4 1097.7L677.3 1098L678.3 1099.2L679.3 1099.9L680.3 1100.9L681.3 1101.2L682.3 1102.1L683.3 1102L684.3 1102.5L685.3 1102.9L686.3 1103.9L687.3 1104L688.3 1104.8L689.3 1105.6L690.3 1106.7L691.3 1107.3L692.3 1108L693.3 1109L694.3 1109.8L695.3 1110.6L696.3 1111.3L697.2 1111.9L698.2 1112.3L699.2 1112.8L700.2 1113.4L701.2 1113.7L702.2 1113.9L703.2 1114.6L704.2 1115.8L705.2 1115.9L706.2 1116.2L707.2 1115.9L708.2 1117L709.2 1117.1L710.2 1117.9L711.2 1118.4L712.2 1119.5L713.2 1120.1L714.2 1120.8L715.2 1121.1L716.2 1121.6L717.1 1121.8L718.1 1122.2L719.1 1122.9L720.1 1123.5L721.1 1124.1L722.1 1124.1L723.1 1124.3L724.1 1124.9L725.1 1126.2L726.1 1127.1L727.1 1127.5L728.1 1127.8L729.1 1128.2L730.1 1128.7L731.1 1128.8L732.1 1129.7L733.1 1130L734.1 1130.7L735.1 1130.9L736.1 1131.2L737 1131.7L738 1132.2L739 1132.7L740 1133.3L741 1133.4L742 1134.2L743 1134.8L744 1135L745 1134.8L746 1134.6L747 1135.6L748 1136.8L749 1137.1L750 1136.8L751 1137.1L752 1137.5L753 1137.9L754 1137.7L755 1138L756 1138.2L756.9 1139L757.9 1139.1L758.9 1139.7L759.9 1140L760.9 1140.5L761.9 1141.1L762.9 1140.4L763.9 1140.6L764.9 1140.7L765.9 1141.8L766.9 1141.4L767.9 1141.1L768.9 1141.4L769.9 1142.5L770.9 1143L771.9 1143L772.9 1142.9L773.9 1143.4L774.9 1144.1L775.9 1144.4L776.8 1144.6L777.8 1143.7L778.8 1143.9L779.8 1143.8L780.8 1144.5L781.8 1144.8L782.8 1145L783.8 1145.6L784.8 1145.6L785.8 1145.6L786.8 1145.5" stroke="#62a6ea" stroke-width="4.6"/>
<path d="M90.3 928.4L91.3 935.9L92.3 944.8L93.3 954.1L94.3 963.4L95.3 972.5L96.3 981.4L97.3 990.1L98.3 998.4L99.3 1006.3L100.2 1013.9L101.2 1021.1L102.2 1027.9L103.2 1034.4L104.2 1040.4L105.2 1046.1L106.2 1051.5L107.2 1056.5L108.2 1061.2L109.2 1065.6L110.2 1069.7L111.2 1073.6L112.2 1077.2L113.2 1080.7L114.2 1083.8L115.2 1086.7L116.2 1089.4L117.2 1091.9L118.2 1094.3L119.2 1096.5L120.2 1098.6L121.1 1100.5L122.1 1102.3L123.1 1104L124.1 1105.4L125.1 1106.9L126.1 1108.2L127.1 1109.3L128.1 1110.4L129.1 1111.4L130.1 1112.4L131.1 1113.4L132.1 1114.2L133.1 1115L134.1 1115.8L135.1 1116.4L136.1 1117.1L137.1 1117.6L138.1 1118.2L139.1 1118.7L140.1 1119.1L141 1119.6L142 1120.1L143 1120.6L144 1121.1L145 1121.6L146 1122L147 1122.3L148 1122.6L149 1123L150 1123.5L151 1123.8L152 1124.1L153 1124.4L154 1124.6L155 1124.8L156 1125L157 1125.3L158 1125.5L159 1125.7L159.9 1126L160.9 1126.2L161.9 1126.4L162.9 1126.5L163.9 1126.7L164.9 1126.8L165.9 1127L166.9 1127.1L167.9 1127.3L168.9 1127.4L169.9 1127.5L170.9 1127.6L171.9 1127.6L172.9 1127.7L173.9 1127.8L174.9 1127.8L175.9 1127.8L176.9 1127.9L177.9 1127.9L178.9 1127.9L179.8 1127.9L180.8 1127.9L181.8 1127.9L182.8 1127.9L183.8 1127.9L184.8 1127.8L185.8 1127.7L186.8 1127.7L187.8 1127.7L188.8 1127.7L189.8 1127.6L190.8 1127.4L191.8 1127.3L192.8 1127.2L193.8 1127.1L194.8 1126.9L195.8 1126.8L196.8 1126.6L197.8 1126.4L198.8 1126.3L199.8 1126.1L200.7 1125.9L201.7 1125.7L202.7 1125.5L203.7 1125.4L204.7 1125.3L205.7 1125.1L206.7 1124.9L207.7 1124.7L208.7 1124.5L209.7 1124.3L210.7 1124.1L211.7 1123.9L212.7 1123.6L213.7 1123.4L214.7 1123.3L215.7 1123.2L216.7 1123.1L217.7 1122.9L218.7 1122.8L219.6 1122.7L220.6 1122.6L221.6 1122.6L222.6 1122.5L223.6 1122.5L224.6 1122.4L225.6 1122.3L226.6 1122.3L227.6 1122.2L228.6 1122.2L229.6 1122.2L230.6 1122.2L231.6 1122.2L232.6 1122.1L233.6 1122.2L234.6 1122.1L235.6 1122.1L236.6 1122L237.6 1122L238.6 1122L239.6 1122.1L240.5 1122.1L241.5 1122.1L242.5 1122.1L243.5 1122.1L244.5 1122L245.5 1122L246.5 1122.1L247.5 1122.1L248.5 1122.1L249.5 1122L250.5 1122L251.5 1121.9L252.5 1122L253.5 1122.1L254.5 1122.1L255.5 1122.2L256.5 1122.2L257.5 1122.3L258.5 1122.3L259.4 1122.4L260.4 1122.5L261.4 1122.6L262.4 1122.8L263.4 1123L264.4 1123.2L265.4 1123.4L266.4 1123.6L267.4 1123.8L268.4 1124.1L269.4 1124.3L270.4 1124.6L271.4 1124.9L272.4 1125.2L273.4 1125.5L274.4 1125.8L275.4 1126.1L276.4 1126.5L277.4 1126.8L278.4 1127.1L279.4 1127.4L280.3 1127.7L281.3 1128L282.3 1128.4L283.3 1128.7L284.3 1129.1L285.3 1129.3L286.3 1129.6L287.3 1129.9L288.3 1130.2L289.3 1130.4L290.3 1130.6L291.3 1130.9L292.3 1131.1L293.3 1131.4L294.3 1131.6L295.3 1131.8L296.3 1132L297.3 1132.2L298.3 1132.4L299.2 1132.6L300.2 1132.8L301.2 1133.1L302.2 1133.2L303.2 1133.4L304.2 1133.5L305.2 1133.7L306.2 1133.9L307.2 1134L308.2 1134.1L309.2 1134.2L310.2 1134.3L311.2 1134.5L312.2 1134.7L313.2 1134.8L314.2 1134.9L315.2 1135L316.2 1135.1L317.2 1135.3L318.2 1135.3L319.1 1135.4L320.1 1135.5L321.1 1135.7L322.1 1135.9L323.1 1136L324.1 1136.1L325.1 1136.2L326.1 1136.3L327.1 1136.5L328.1 1136.6L329.1 1136.7L330.1 1136.9L331.1 1137L332.1 1137.1L333.1 1137.2L334.1 1137.4L335.1 1137.6L336.1 1137.8L337.1 1137.9L338.1 1138L339.1 1138.1L340 1138.2L341 1138.3L342 1138.4L343 1138.5L344 1138.7L345 1138.8L346 1138.9L347 1139L348 1139.1L349 1139.1L350 1139.2L351 1139.4L352 1139.5L353 1139.6L354 1139.7L355 1139.8L356 1139.9L357 1140L358 1140L358.9 1140L359.9 1140L360.9 1140.1L361.9 1140.3L362.9 1140.4L363.9 1140.4L364.9 1140.4L365.9 1140.4L366.9 1140.4L367.9 1140.4L368.9 1140.2L369.9 1140.2L370.9 1140L371.9 1140L372.9 1139.8L373.9 1139.8L374.9 1139.7L375.9 1139.6L376.9 1139.4L377.9 1139.3L378.9 1139.2L379.8 1139.1L380.8 1139L381.8 1138.9L382.8 1139L383.8 1138.9L384.8 1138.9L385.8 1138.7L386.8 1138.6L387.8 1138.5L388.8 1138.3L389.8 1138.2L390.8 1138L391.8 1137.8L392.8 1137.6L393.8 1137.4L394.8 1137.2L395.8 1137.1L396.8 1136.9L397.8 1136.7L398.8 1136.5L399.7 1136.3L400.7 1136.1L401.7 1135.8L402.7 1135.7L403.7 1135.6L404.7 1135.5L405.7 1135.2L406.7 1134.9L407.7 1134.6L408.7 1134.5L409.7 1134.4L410.7 1134.2L411.7 1133.9L412.7 1133.5L413.7 1133.2L414.7 1132.9L415.7 1132.6L416.7 1132.4L417.7 1132.1L418.7 1132L419.6 1131.7L420.6 1131.4L421.6 1131.2L422.6 1131L423.6 1130.9L424.6 1130.4L425.6 1130.1L426.6 1129.8L427.6 1129.5L428.6 1129.2L429.6 1128.9L430.6 1128.7L431.6 1128.5L432.6 1128.1L433.6 1127.7L434.6 1127.2L435.6 1126.7L436.6 1126.2L437.6 1126L438.6 1125.7L439.5 1125.5L440.5 1125L441.5 1124.6L442.5 1124.2L443.5 1123.8L444.5 1123.4L445.5 1123L446.5 1122.5L447.5 1122.2L448.5 1121.7L449.5 1121.2L450.5 1120.9L451.5 1120.7L452.5 1120.4L453.5 1120.1L454.5 1119.8L455.5 1119.3L456.5 1118.6L457.5 1118.1L458.4 1117.8L459.4 1117.4L460.4 1117.2L461.4 1116.6L462.4 1116.5L463.4 1116L464.4 1116L465.4 1115.6L466.4 1115.3L467.4 1114.8L468.4 1114.7L469.4 1114.1L470.4 1113.5L471.4 1113.2L472.4 1113.3L473.4 1113.4L474.4 1112.9L475.4 1112.6L476.4 1112.2L477.4 1112.1L478.4 1111.3L479.3 1110.8L480.3 1110.6L481.3 1110.4L482.3 1110.4L483.3 1110.2L484.3 1109.9L485.3 1109.1L486.3 1108.5L487.3 1108.3L488.3 1108.2L489.3 1108.1L490.3 1107.5L491.3 1107.4L492.3 1106.8L493.3 1106.8L494.3 1106.7L495.3 1106.5L496.3 1106.4L497.3 1105.7L498.2 1105.5L499.2 1104.6L500.2 1104.5L501.2 1104.7L502.2 1104.8L503.2 1104.2L504.2 1103.6L505.2 1103.6L506.2 1103.3L507.2 1102.8L508.2 1102.5L509.2 1102.2L510.2 1102L511.2 1101.7L512.2 1101.8L513.2 1101.7L514.2 1101.3L515.2 1100.5L516.2 1099.9L517.2 1099.8L518.1 1099.8L519.1 1100L520.1 1099.9L521.1 1099.7L522.1 1099.1L523.1 1098.4L524.1 1098L525.1 1097.8L526.1 1098.1L527.1 1097.9L528.1 1097.7L529.1 1097.2L530.1 1096.8L531.1 1097L532.1 1096.5L533.1 1096.5L534.1 1096.1L535.1 1096.2L536.1 1096.7L537.1 1096.5L538 1095.8L539 1094.9L540 1094.4L541 1095L542 1095L543 1095.4L544 1094.5L545 1094.4L546 1093.8L547 1094.1L548 1093.3L549 1093.5L550 1093.3L551 1093.1L552 1093.1L553 1093.2L554 1092.7L555 1092.1L556 1091.3L557 1091.6L557.9 1091.4L558.9 1091.3L559.9 1091.1L560.9 1091.3L561.9 1091.7L562.9 1091.7L563.9 1090.9L564.9 1090.3L565.9 1090.4L566.9 1090.2L567.9 1089.6L568.9 1089.2L569.9 1089.2L570.9 1089.1L571.9 1089.1L572.9 1088.8L573.9 1088.6L574.9 1088.1L575.9 1088L576.9 1088.4L577.9 1088.4L578.8 1088.1L579.8 1087.2L580.8 1087.4L581.8 1087.5L582.8 1087.8L583.8 1087.2L584.8 1087.4L585.8 1086.8L586.8 1086.2L587.8 1085.7L588.8 1085.6L589.8 1085.9L590.8 1086.1L591.8 1085.9L592.8 1085.6L593.8 1085.4L594.8 1085.7L595.8 1086.1L596.8 1085.8L597.8 1085.4L598.7 1085L599.7 1085.1L600.7 1085.5L601.7 1085.6L602.7 1085.8L603.7 1085.3L604.7 1085.2L605.7 1084.9L606.7 1085.2L607.7 1085.1L608.7 1085.5L609.7 1084.9L610.7 1084.9L611.7 1084.3L612.7 1084.6L613.7 1084.8L614.7 1084.6L615.7 1084.7L616.7 1084.5L617.6 1084.6L618.6 1084.8L619.6 1084.6L620.6 1084.5L621.6 1084.4L622.6 1084.4L623.6 1085.1L624.6 1085L625.6 1085.4L626.6 1085.8L627.6 1085.8L628.6 1085.6L629.6 1085.9L630.6 1086.4L631.6 1087.1L632.6 1086.9L633.6 1087.1L634.6 1087.1L635.6 1087.3L636.6 1087.5L637.5 1087.8L638.5 1087.8L639.5 1088.2L640.5 1088.1L641.5 1087.9L642.5 1087.9L643.5 1088.4L644.5 1088.8L645.5 1089.5L646.5 1089.7L647.5 1090.5L648.5 1090.5L649.5 1090.9L650.5 1091L651.5 1090.8L652.5 1091.1L653.5 1091.3L654.5 1091.7L655.5 1091.6L656.5 1091.7L657.4 1092.4L658.4 1092.9L659.4 1093.6L660.4 1094.1L661.4 1094.7L662.4 1095.6L663.4 1096.1L664.4 1096.2L665.4 1096.2L666.4 1096.3L667.4 1096.5L668.4 1096.8L669.4 1097.6L670.4 1098.2L671.4 1098.8L672.4 1099.2L673.4 1100L674.4 1100.5L675.4 1100.8L676.4 1101.2L677.3 1101.5L678.3 1102.1L679.3 1102.5L680.3 1103.1L681.3 1104.2L682.3 1104.9L683.3 1105.5L684.3 1105.2L685.3 1105.6L686.3 1105.7L687.3 1106.4L688.3 1107.1L689.3 1108.7L690.3 1109.7L691.3 1110.4L692.3 1110.7L693.3 1111.2L694.3 1112.1L695.3 1112.6L696.3 1113.4L697.2 1113.9L698.2 1114.8L699.2 1115.3L700.2 1115.8L701.2 1116.6L702.2 1117.1L703.2 1117.6L704.2 1117.9L705.2 1118.3L706.2 1118.8L707.2 1118.8L708.2 1119.8L709.2 1120.3L710.2 1120.8L711.2 1120.8L712.2 1121.3L713.2 1122.5L714.2 1123.1L715.2 1123.5L716.2 1123L717.1 1123.7L718.1 1124L719.1 1125.2L720.1 1125.3L721.1 1126L722.1 1126.1L723.1 1126.6L724.1 1127.1L725.1 1127.2L726.1 1127.4L727.1 1127.8L728.1 1128.9L729.1 1129.8L730.1 1130L731.1 1130.2L732.1 1130.6L733.1 1131.4L734.1 1131.6L735.1 1131.8L736.1 1132.2L737 1132.6L738 1132.9L739 1133.4L740 1134.4L741 1134.7L742 1134.9L743 1135.1L744 1135L745 1134.7L746 1134.5L747 1135.1L748 1135.8L749 1136.8L750 1137.5L751 1137.8L752 1137.8L753 1137.5L754 1137.6L755 1137.8L756 1138.1L756.9 1138.5L757.9 1138.5L758.9 1139.1L759.9 1138.9L760.9 1139.3L761.9 1139.6L762.9 1140.2L763.9 1140.1L764.9 1140.1L765.9 1140.3L766.9 1140.9L767.9 1140.5L768.9 1140.8L769.9 1141.1L770.9 1141.5L771.9 1141.6L772.9 1141.6L773.9 1142L774.9 1142.6L775.9 1142.8L776.8 1143.2L777.8 1143.2L778.8 1143.3L779.8 1142.8L780.8 1142.6L781.8 1143.1L782.8 1143.3L783.8 1144.1L784.8 1143.8L785.8 1144.1L786.8 1143.6" stroke="#ee5a22" stroke-width="4"/>
<path d="M90.3 923L91.3 930.8L92.3 940.2L93.3 949.8L94.3 959.6L95.3 969.1L96.3 978.4L97.3 987.4L98.3 996L99.3 1004.4L100.2 1012.3L101.2 1019.9L102.2 1027L103.2 1033.7L104.2 1040.1L105.2 1046.1L106.2 1051.7L107.2 1057L108.2 1062L109.2 1066.5L110.2 1070.9L111.2 1074.9L112.2 1078.7L113.2 1082.2L114.2 1085.4L115.2 1088.5L116.2 1091.4L117.2 1094.1L118.2 1096.6L119.2 1098.8L120.2 1100.9L121.1 1103L122.1 1104.9L123.1 1106.6L124.1 1108.1L125.1 1109.6L126.1 1111L127.1 1112.3L128.1 1113.5L129.1 1114.5L130.1 1115.5L131.1 1116.5L132.1 1117.4L133.1 1118.1L134.1 1118.9L135.1 1119.6L136.1 1120.3L137.1 1120.9L138.1 1121.5L139.1 1122L140.1 1122.5L141 1123L142 1123.5L143 1123.9L144 1124.4L145 1124.9L146 1125.3L147 1125.7L148 1126.1L149 1126.5L150 1126.9L151 1127.2L152 1127.5L153 1127.8L154 1128.1L155 1128.4L156 1128.6L157 1128.8L158 1129L159 1129.2L159.9 1129.5L160.9 1129.7L161.9 1129.9L162.9 1130L163.9 1130.2L164.9 1130.3L165.9 1130.4L166.9 1130.6L167.9 1130.8L168.9 1131L169.9 1131.1L170.9 1131.2L171.9 1131.2L172.9 1131.3L173.9 1131.4L174.9 1131.4L175.9 1131.4L176.9 1131.4L177.9 1131.5L178.9 1131.5L179.8 1131.5L180.8 1131.5L181.8 1131.5L182.8 1131.5L183.8 1131.5L184.8 1131.5L185.8 1131.5L186.8 1131.4L187.8 1131.4L188.8 1131.3L189.8 1131.3L190.8 1131.2L191.8 1131.1L192.8 1131L193.8 1130.8L194.8 1130.7L195.8 1130.5L196.8 1130.4L197.8 1130.2L198.8 1130.1L199.8 1129.9L200.7 1129.8L201.7 1129.6L202.7 1129.5L203.7 1129.4L204.7 1129.2L205.7 1129L206.7 1128.7L207.7 1128.5L208.7 1128.4L209.7 1128.2L210.7 1128.1L211.7 1127.9L212.7 1127.7L213.7 1127.5L214.7 1127.3L215.7 1127.2L216.7 1127L217.7 1126.9L218.7 1126.8L219.6 1126.8L220.6 1126.7L221.6 1126.6L222.6 1126.5L223.6 1126.4L224.6 1126.4L225.6 1126.4L226.6 1126.4L227.6 1126.3L228.6 1126.3L229.6 1126.3L230.6 1126.3L231.6 1126.2L232.6 1126.1L233.6 1126.1L234.6 1126.1L235.6 1126L236.6 1126L237.6 1126.1L238.6 1126.2L239.6 1126.1L240.5 1126.2L241.5 1126.1L242.5 1126.1L243.5 1126L244.5 1126L245.5 1126.1L246.5 1126L247.5 1126.1L248.5 1126L249.5 1126L250.5 1126L251.5 1126L252.5 1126.1L253.5 1126.1L254.5 1126.1L255.5 1126L256.5 1126L257.5 1126.1L258.5 1126.2L259.4 1126.3L260.4 1126.5L261.4 1126.6L262.4 1126.7L263.4 1126.8L264.4 1127L265.4 1127.2L266.4 1127.5L267.4 1127.7L268.4 1127.9L269.4 1128.1L270.4 1128.4L271.4 1128.7L272.4 1129.1L273.4 1129.4L274.4 1129.7L275.4 1130L276.4 1130.3L277.4 1130.5L278.4 1130.8L279.4 1131.1L280.3 1131.5L281.3 1131.8L282.3 1132.1L283.3 1132.4L284.3 1132.7L285.3 1132.9L286.3 1133.2L287.3 1133.5L288.3 1133.8L289.3 1134L290.3 1134.3L291.3 1134.5L292.3 1134.8L293.3 1135L294.3 1135.3L295.3 1135.4L296.3 1135.6L297.3 1135.8L298.3 1136L299.2 1136.2L300.2 1136.3L301.2 1136.5L302.2 1136.7L303.2 1136.8L304.2 1137L305.2 1137.1L306.2 1137.3L307.2 1137.4L308.2 1137.6L309.2 1137.7L310.2 1137.8L311.2 1137.9L312.2 1138L313.2 1138.1L314.2 1138.2L315.2 1138.4L316.2 1138.5L317.2 1138.6L318.2 1138.7L319.1 1138.9L320.1 1139L321.1 1139.1L322.1 1139.1L323.1 1139.2L324.1 1139.3L325.1 1139.4L326.1 1139.5L327.1 1139.7L328.1 1139.9L329.1 1140L330.1 1140.2L331.1 1140.3L332.1 1140.5L333.1 1140.6L334.1 1140.7L335.1 1140.9L336.1 1141L337.1 1141.2L338.1 1141.2L339.1 1141.3L340 1141.4L341 1141.5L342 1141.7L343 1141.8L344 1141.9L345 1141.9L346 1142L347 1142.2L348 1142.3L349 1142.4L350 1142.4L351 1142.4L352 1142.6L353 1142.6L354 1142.8L355 1142.9L356 1143.1L357 1143.1L358 1143.2L358.9 1143.1L359.9 1143.2L360.9 1143.2L361.9 1143.5L362.9 1143.6L363.9 1143.6L364.9 1143.5L365.9 1143.4L366.9 1143.5L367.9 1143.4L368.9 1143.4L369.9 1143.3L370.9 1143.3L371.9 1143.1L372.9 1143L373.9 1142.9L374.9 1142.8L375.9 1142.7L376.9 1142.6L377.9 1142.4L378.9 1142.4L379.8 1142.3L380.8 1142.3L381.8 1142.2L382.8 1142.1L383.8 1142L384.8 1142L385.8 1141.9L386.8 1141.7L387.8 1141.7L388.8 1141.5L389.8 1141.4L390.8 1141.2L391.8 1141.1L392.8 1140.8L393.8 1140.6L394.8 1140.5L395.8 1140.3L396.8 1140.2L397.8 1140L398.8 1139.8L399.7 1139.5L400.7 1139.4L401.7 1139.2L402.7 1139.1L403.7 1138.8L404.7 1138.6L405.7 1138.4L406.7 1138.3L407.7 1138.1L408.7 1137.9L409.7 1137.8L410.7 1137.5L411.7 1137.3L412.7 1137L413.7 1136.8L414.7 1136.6L415.7 1136.3L416.7 1136.1L417.7 1135.9L418.7 1135.7L419.6 1135.4L420.6 1135.2L421.6 1134.9L422.6 1134.5L423.6 1134.3L424.6 1134L425.6 1133.6L426.6 1133.3L427.6 1133.1L428.6 1133.1L429.6 1133L430.6 1132.4L431.6 1132.1L432.6 1131.7L433.6 1131.5L434.6 1131L435.6 1130.6L436.6 1130.2L437.6 1130L438.6 1129.5L439.5 1129.1L440.5 1128.7L441.5 1128.5L442.5 1128.2L443.5 1127.8L444.5 1127.2L445.5 1126.8L446.5 1126.5L447.5 1126.5L448.5 1125.9L449.5 1125.7L450.5 1125.2L451.5 1124.9L452.5 1124.5L453.5 1124.3L454.5 1124L455.5 1123.4L456.5 1123.1L457.5 1122.7L458.4 1122.8L459.4 1122.3L460.4 1122.1L461.4 1121.5L462.4 1121.1L463.4 1120.7L464.4 1120.2L465.4 1119.7L466.4 1119.1L467.4 1118.9L468.4 1118.9L469.4 1118.6L470.4 1118.2L471.4 1117.9L472.4 1117.7L473.4 1117.6L474.4 1117.1L475.4 1116.9L476.4 1117L477.4 1116.7L478.4 1116.2L479.3 1115.5L480.3 1115.1L481.3 1115L482.3 1115L483.3 1114.8L484.3 1114.6L485.3 1114.3L486.3 1113.9L487.3 1113.5L488.3 1113.6L489.3 1113.4L490.3 1113.1L491.3 1112.4L492.3 1112.3L493.3 1111.9L494.3 1111.4L495.3 1110.9L496.3 1110.5L497.3 1110.5L498.2 1110L499.2 1109.5L500.2 1109L501.2 1109L502.2 1109.2L503.2 1108.7L504.2 1108.7L505.2 1108.4L506.2 1108.5L507.2 1107.9L508.2 1107.8L509.2 1107.3L510.2 1107.1L511.2 1106.8L512.2 1106.5L513.2 1106.1L514.2 1105.7L515.2 1105.7L516.2 1105.9L517.2 1106L518.1 1105.7L519.1 1105.1L520.1 1105.1L521.1 1105.2L522.1 1105L523.1 1104.4L524.1 1104L525.1 1103.4L526.1 1103L527.1 1102.7L528.1 1102.8L529.1 1103L530.1 1102.7L531.1 1102.5L532.1 1101.9L533.1 1101.3L534.1 1101L535.1 1100.4L536.1 1100.7L537.1 1100.6L538 1101.1L539 1100.7L540 1100.8L541 1100.3L542 1100L543 1099.1L544 1098.9L545 1098.6L546 1098.4L547 1098.3L548 1098.1L549 1098.2L550 1098L551 1097.6L552 1097.5L553 1097L554 1096.9L555 1096.8L556 1097.2L557 1097.3L557.9 1096.6L558.9 1096.1L559.9 1095.6L560.9 1095.5L561.9 1095.5L562.9 1095.3L563.9 1094.9L564.9 1094.4L565.9 1094.3L566.9 1094.6L567.9 1094.1L568.9 1093.4L569.9 1092.9L570.9 1093.1L571.9 1093.6L572.9 1093.4L573.9 1093.2L574.9 1092.8L575.9 1092.9L576.9 1092.3L577.9 1092.3L578.8 1091.6L579.8 1091.1L580.8 1090.3L581.8 1090.6L582.8 1090.5L583.8 1090.6L584.8 1089.9L585.8 1089.9L586.8 1089.7L587.8 1089.5L588.8 1089.4L589.8 1089.5L590.8 1089.6L591.8 1089.2L592.8 1089.1L593.8 1088.9L594.8 1088.8L595.8 1088.5L596.8 1088.3L597.8 1088.4L598.7 1088.8L599.7 1088.9L600.7 1088.9L601.7 1088.3L602.7 1087.9L603.7 1088.1L604.7 1088.2L605.7 1088.2L606.7 1087.7L607.7 1087.7L608.7 1087.9L609.7 1088.4L610.7 1088.2L611.7 1087.9L612.7 1087.4L613.7 1087.4L614.7 1087.2L615.7 1087.4L616.7 1087.3L617.6 1087.8L618.6 1087.4L619.6 1087.5L620.6 1086.9L621.6 1087.2L622.6 1087.2L623.6 1087.6L624.6 1087.6L625.6 1088L626.6 1088.4L627.6 1089L628.6 1089.3L629.6 1089.5L630.6 1089.1L631.6 1089.1L632.6 1088.8L633.6 1089.2L634.6 1089.4L635.6 1089.9L636.6 1090.4L637.5 1090.5L638.5 1090.5L639.5 1090.5L640.5 1090.7L641.5 1090.8L642.5 1091.1L643.5 1091.6L644.5 1092.1L645.5 1092.6L646.5 1092.4L647.5 1092.2L648.5 1092.1L649.5 1092.2L650.5 1092.3L651.5 1092.5L652.5 1092.9L653.5 1093.4L654.5 1093.3L655.5 1093.6L656.5 1094.2L657.4 1095L658.4 1095.7L659.4 1095.9L660.4 1096L661.4 1096.1L662.4 1096.6L663.4 1097L664.4 1098L665.4 1098.3L666.4 1098.5L667.4 1098.6L668.4 1099.1L669.4 1099.5L670.4 1099.6L671.4 1099.9L672.4 1101.1L673.4 1101.7L674.4 1101.8L675.4 1102L676.4 1102.1L677.3 1103.2L678.3 1103.2L679.3 1104L680.3 1104.1L681.3 1105L682.3 1105.6L683.3 1106.7L684.3 1107.1L685.3 1107.9L686.3 1108.1L687.3 1109L688.3 1109.8L689.3 1110.8L690.3 1110.8L691.3 1111.1L692.3 1111.5L693.3 1112.4L694.3 1113.1L695.3 1113.2L696.3 1113.9L697.2 1114.2L698.2 1115.5L699.2 1115.9L700.2 1116.6L701.2 1116.8L702.2 1117L703.2 1117.6L704.2 1118.2L705.2 1119L706.2 1119.2L707.2 1119.5L708.2 1120L709.2 1121.1L710.2 1121.9L711.2 1122.5L712.2 1122.4L713.2 1122.3L714.2 1122.7L715.2 1122.8L716.2 1123.4L717.1 1123.7L718.1 1124.6L719.1 1125.2L720.1 1125.5L721.1 1126L722.1 1126.1L723.1 1127.1L724.1 1127.9L725.1 1128.4L726.1 1128.1L727.1 1128.3L728.1 1129L729.1 1129.8L730.1 1130.3L731.1 1130.9L732.1 1131.6L733.1 1131.6L734.1 1131.9L735.1 1131.9L736.1 1132.9L737 1133.1L738 1133.3L739 1133.4L740 1133.7L741 1134.3L742 1134L743 1134.6L744 1135.1L745 1136.2L746 1136.6L747 1136.7L748 1136.9L749 1136.9L750 1137.5L751 1137.6L752 1137.9L753 1138.2L754 1138.6L755 1139.2L756 1139.5L756.9 1139.7L757.9 1140.4L758.9 1140.8L759.9 1141.2L760.9 1140.9L761.9 1141.1L762.9 1141.6L763.9 1141.5L764.9 1141.4L765.9 1141.2L766.9 1141.7L767.9 1141.8L768.9 1142.1L769.9 1142.6L770.9 1143.1L771.9 1143.1L772.9 1143.4L773.9 1143.7L774.9 1144.1L775.9 1143.9L776.8 1144.1L777.8 1144.2L778.8 1144.3L779.8 1143.9L780.8 1144.3L781.8 1144.5L782.8 1145.4L783.8 1145.1L784.8 1145.1L785.8 1144.9L786.8 1145.1" stroke="#3f4a4a" stroke-width="4.6"/>
<path d="M90.3 957.4L91.3 964L92.3 971.8L93.3 979.9L94.3 988.1L95.3 996.2L96.3 1004.1L97.3 1011.7L98.3 1019L99.3 1026L100.2 1032.6L101.2 1038.9L102.2 1044.9L103.2 1050.6L104.2 1055.9L105.2 1061L106.2 1065.7L107.2 1070.1L108.2 1074.3L109.2 1078.2L110.2 1081.9L111.2 1085.3L112.2 1088.4L113.2 1091.4L114.2 1094.2L115.2 1096.8L116.2 1099.2L117.2 1101.4L118.2 1103.5L119.2 1105.5L120.2 1107.2L121.1 1108.9L122.1 1110.4L123.1 1111.9L124.1 1113.3L125.1 1114.6L126.1 1115.7L127.1 1116.8L128.1 1117.7L129.1 1118.6L130.1 1119.5L131.1 1120.3L132.1 1121L133.1 1121.8L134.1 1122.5L135.1 1123.1L136.1 1123.5L137.1 1124L138.1 1124.5L139.1 1125L140.1 1125.4L141 1125.8L142 1126.3L143 1126.6L144 1127L145 1127.3L146 1127.7L147 1128.1L148 1128.5L149 1128.8L150 1129.1L151 1129.3L152 1129.5L153 1129.7L154 1130L155 1130.3L156 1130.4L157 1130.6L158 1130.8L159 1131L159.9 1131.2L160.9 1131.3L161.9 1131.5L162.9 1131.7L163.9 1131.8L164.9 1132L165.9 1132L166.9 1132.2L167.9 1132.3L168.9 1132.4L169.9 1132.5L170.9 1132.6L171.9 1132.7L172.9 1132.7L173.9 1132.6L174.9 1132.7L175.9 1132.8L176.9 1132.9L177.9 1132.9L178.9 1132.9L179.8 1132.9L180.8 1132.9L181.8 1133L182.8 1132.9L183.8 1132.9L184.8 1132.7L185.8 1132.7L186.8 1132.7L187.8 1132.8L188.8 1132.9L189.8 1132.8L190.8 1132.7L191.8 1132.6L192.8 1132.5L193.8 1132.4L194.8 1132.3L195.8 1132.2L196.8 1132.1L197.8 1132L198.8 1131.8L199.8 1131.7L200.7 1131.5L201.7 1131.3L202.7 1131.3L203.7 1131.2L204.7 1131.1L205.7 1131L206.7 1130.8L207.7 1130.6L208.7 1130.4L209.7 1130.3L210.7 1130.1L211.7 1130L212.7 1130L213.7 1129.8L214.7 1129.6L215.7 1129.5L216.7 1129.4L217.7 1129.3L218.7 1129.2L219.6 1129.2L220.6 1129.1L221.6 1129.1L222.6 1129L223.6 1129L224.6 1129L225.6 1129L226.6 1128.9L227.6 1128.9L228.6 1128.9L229.6 1128.8L230.6 1128.8L231.6 1128.8L232.6 1128.7L233.6 1128.7L234.6 1128.6L235.6 1128.6L236.6 1128.6L237.6 1128.6L238.6 1128.6L239.6 1128.7L240.5 1128.7L241.5 1128.7L242.5 1128.7L243.5 1128.6L244.5 1128.6L245.5 1128.5L246.5 1128.5L247.5 1128.4L248.5 1128.4L249.5 1128.4L250.5 1128.3L251.5 1128.3L252.5 1128.2L253.5 1128.3L254.5 1128.3L255.5 1128.3L256.5 1128.2L257.5 1128.3L258.5 1128.3L259.4 1128.5L260.4 1128.5L261.4 1128.6L262.4 1128.6L263.4 1128.8L264.4 1128.9L265.4 1129.1L266.4 1129.2L267.4 1129.5L268.4 1129.7L269.4 1129.9L270.4 1130.1L271.4 1130.3L272.4 1130.5L273.4 1130.8L274.4 1131.2L275.4 1131.4L276.4 1131.7L277.4 1131.9L278.4 1132.2L279.4 1132.4L280.3 1132.7L281.3 1133L282.3 1133.3L283.3 1133.5L284.3 1133.8L285.3 1134L286.3 1134.3L287.3 1134.5L288.3 1134.7L289.3 1134.9L290.3 1135.1L291.3 1135.3L292.3 1135.5L293.3 1135.7L294.3 1135.9L295.3 1136L296.3 1136.2L297.3 1136.3L298.3 1136.4L299.2 1136.6L300.2 1136.7L301.2 1136.9L302.2 1137L303.2 1137.2L304.2 1137.2L305.2 1137.3L306.2 1137.5L307.2 1137.6L308.2 1137.8L309.2 1137.8L310.2 1138L311.2 1138.1L312.2 1138.1L313.2 1138.2L314.2 1138.3L315.2 1138.5L316.2 1138.6L317.2 1138.7L318.2 1138.7L319.1 1138.8L320.1 1138.8L321.1 1138.8L322.1 1138.9L323.1 1139.1L324.1 1139.2L325.1 1139.4L326.1 1139.4L327.1 1139.4L328.1 1139.5L329.1 1139.6L330.1 1139.7L331.1 1139.8L332.1 1139.9L333.1 1140.1L334.1 1140.3L335.1 1140.3L336.1 1140.4L337.1 1140.5L338.1 1140.7L339.1 1140.8L340 1140.8L341 1140.9L342 1140.9L343 1141L344 1141L345 1141.1L346 1141.3L347 1141.4L348 1141.5L349 1141.5L350 1141.6L351 1141.7L352 1141.7L353 1141.8L354 1141.9L355 1142L356 1142L357 1142.1L358 1142.1L358.9 1142.2L359.9 1142.2L360.9 1142.3L361.9 1142.3L362.9 1142.3L363.9 1142.4L364.9 1142.4L365.9 1142.5L366.9 1142.5L367.9 1142.5L368.9 1142.4L369.9 1142.3L370.9 1142.3L371.9 1142.2L372.9 1142.1L373.9 1142.1L374.9 1142L375.9 1141.9L376.9 1141.8L377.9 1141.7L378.9 1141.7L379.8 1141.7L380.8 1141.5L381.8 1141.4L382.8 1141.4L383.8 1141.4L384.8 1141.4L385.8 1141.1L386.8 1141L387.8 1140.9L388.8 1140.8L389.8 1140.7L390.8 1140.6L391.8 1140.6L392.8 1140.4L393.8 1140.3L394.8 1140.2L395.8 1140L396.8 1139.9L397.8 1139.7L398.8 1139.6L399.7 1139.4L400.7 1139.3L401.7 1139.1L402.7 1139L403.7 1138.8L404.7 1138.6L405.7 1138.5L406.7 1138.3L407.7 1138.3L408.7 1138.1L409.7 1138L410.7 1137.8L411.7 1137.5L412.7 1137.3L413.7 1137.1L414.7 1137L415.7 1136.7L416.7 1136.6L417.7 1136.5L418.7 1136.4L419.6 1136.2L420.6 1135.9L421.6 1135.7L422.6 1135.4L423.6 1135.3L424.6 1135.1L425.6 1134.8L426.6 1134.5L427.6 1134.3L428.6 1134.1L429.6 1133.9L430.6 1133.6L431.6 1133.2L432.6 1133L433.6 1132.9L434.6 1132.8L435.6 1132.5L436.6 1132.1L437.6 1131.8L438.6 1131.7L439.5 1131.4L440.5 1131.3L441.5 1130.8L442.5 1130.6L443.5 1130.1L444.5 1129.8L445.5 1129.5L446.5 1129.2L447.5 1128.8L448.5 1128.5L449.5 1128.1L450.5 1128L451.5 1127.7L452.5 1127.4L453.5 1127.2L454.5 1126.7L455.5 1126.5L456.5 1126.1L457.5 1125.8L458.4 1125.7L459.4 1125.4L460.4 1125.2L461.4 1124.6L462.4 1124.4L463.4 1124.3L464.4 1124L465.4 1124L466.4 1123.5L467.4 1123.7L468.4 1123.3L469.4 1123.1L470.4 1122.6L471.4 1122.4L472.4 1122.1L473.4 1121.8L474.4 1121.5L475.4 1121.4L476.4 1121.2L477.4 1120.9L478.4 1120.6L479.3 1120.4L480.3 1120.3L481.3 1120.2L482.3 1120L483.3 1119.5L484.3 1119.4L485.3 1119.1L486.3 1119.2L487.3 1118.9L488.3 1118.9L489.3 1118.4L490.3 1118.2L491.3 1117.8L492.3 1117.5L493.3 1116.9L494.3 1116.8L495.3 1116.5L496.3 1116.8L497.3 1116.5L498.2 1116.5L499.2 1116.4L500.2 1115.9L501.2 1115.5L502.2 1115.2L503.2 1115.5L504.2 1115.1L505.2 1114.9L506.2 1114.4L507.2 1114L508.2 1113.9L509.2 1113.9L510.2 1113.8L511.2 1113.5L512.2 1112.8L513.2 1112.8L514.2 1112.7L515.2 1112.6L516.2 1112.3L517.2 1111.6L518.1 1111.3L519.1 1111L520.1 1111.2L521.1 1111.2L522.1 1111.2L523.1 1111.3L524.1 1111.1L525.1 1110.6L526.1 1110.3L527.1 1110.5L528.1 1110.8L529.1 1110.8L530.1 1110.3L531.1 1109.8L532.1 1109.3L533.1 1109.7L534.1 1109.7L535.1 1109.5L536.1 1109.3L537.1 1108.9L538 1108.9L539 1109L540 1108.7L541 1108.6L542 1108.3L543 1108.3L544 1108.3L545 1107.5L546 1107.4L547 1106.9L548 1106.7L549 1106.8L550 1106.6L551 1106.4L552 1105.7L553 1105.8L554 1105.8L555 1105.3L556 1105.2L557 1105.2L557.9 1105.3L558.9 1104.9L559.9 1104.6L560.9 1104.2L561.9 1104.2L562.9 1103.7L563.9 1104.2L564.9 1104.5L565.9 1104.6L566.9 1103.9L567.9 1103.2L568.9 1102.6L569.9 1102.6L570.9 1102.2L571.9 1102.3L572.9 1102.4L573.9 1102.1L574.9 1101.6L575.9 1100.9L576.9 1100.8L577.9 1100.6L578.8 1100.6L579.8 1100.4L580.8 1100.5L581.8 1100.7L582.8 1100.7L583.8 1100.4L584.8 1100.3L585.8 1100.3L586.8 1100.1L587.8 1099.9L588.8 1099.2L589.8 1099.2L590.8 1098.7L591.8 1098.9L592.8 1098.7L593.8 1098.8L594.8 1099.1L595.8 1099.5L596.8 1099.8L597.8 1099.8L598.7 1099.8L599.7 1099.4L600.7 1099.4L601.7 1099.1L602.7 1099.1L603.7 1098.7L604.7 1098.6L605.7 1098.6L606.7 1098.4L607.7 1098.3L608.7 1097.7L609.7 1098.2L610.7 1098.1L611.7 1098.4L612.7 1098.6L613.7 1098.2L614.7 1097.8L615.7 1097.6L616.7 1097.7L617.6 1098L618.6 1098L619.6 1097.9L620.6 1098.2L621.6 1098.1L622.6 1098.2L623.6 1098L624.6 1098L625.6 1098.7L626.6 1099L627.6 1099.3L628.6 1099.4L629.6 1099.7L630.6 1100.1L631.6 1100L632.6 1099.9L633.6 1099.9L634.6 1100.3L635.6 1100.5L636.6 1100.2L637.5 1100L638.5 1100.2L639.5 1100.6L640.5 1100.6L641.5 1101L642.5 1100.8L643.5 1101.2L644.5 1100.6L645.5 1101.3L646.5 1101.6L647.5 1102.2L648.5 1102L649.5 1101.8L650.5 1102L651.5 1102.4L652.5 1102.6L653.5 1102.6L654.5 1102.9L655.5 1103.1L656.5 1103.7L657.4 1104L658.4 1104.5L659.4 1104.8L660.4 1105.2L661.4 1105.7L662.4 1105.7L663.4 1105.8L664.4 1105.7L665.4 1105.7L666.4 1106.6L667.4 1107L668.4 1107.8L669.4 1107.4L670.4 1108L671.4 1108.5L672.4 1109.3L673.4 1109.4L674.4 1109.2L675.4 1109.5L676.4 1110L677.3 1110.7L678.3 1111.1L679.3 1112L680.3 1112.2L681.3 1112.9L682.3 1112.6L683.3 1113.5L684.3 1113.4L685.3 1113.8L686.3 1114.1L687.3 1115.1L688.3 1115.9L689.3 1116.3L690.3 1116.8L691.3 1117.3L692.3 1117.5L693.3 1117.6L694.3 1117.7L695.3 1118.8L696.3 1119.6L697.2 1120.3L698.2 1120.4L699.2 1120.4L700.2 1121.1L701.2 1121.1L702.2 1121.5L703.2 1121.4L704.2 1122.2L705.2 1123.2L706.2 1124.1L707.2 1124.2L708.2 1124.2L709.2 1123.8L710.2 1124.3L711.2 1125L712.2 1125.5L713.2 1125.9L714.2 1126L715.2 1126.4L716.2 1127.1L717.1 1127.7L718.1 1127.9L719.1 1128.2L720.1 1128.6L721.1 1129.6L722.1 1129.9L723.1 1130.1L724.1 1130.3L725.1 1130.6L726.1 1131L727.1 1131.2L728.1 1131.8L729.1 1132.1L730.1 1132.6L731.1 1132.8L732.1 1132.8L733.1 1133.1L734.1 1133L735.1 1133.5L736.1 1133.8L737 1134.1L738 1134.6L739 1135.2L740 1135.4L741 1135.6L742 1135.8L743 1136L744 1136L745 1136.3L746 1136.3L747 1136.7L748 1136.4L749 1137.1L750 1137.2L751 1137.8L752 1137.8L753 1138.6L754 1139.1L755 1139.3L756 1139.1L756.9 1139.3L757.9 1139.7L758.9 1140.3L759.9 1140.5L760.9 1140.7L761.9 1140.5L762.9 1140.2L763.9 1140.1L764.9 1140.5L765.9 1140.9L766.9 1141.4L767.9 1141.5L768.9 1142L769.9 1141.9L770.9 1142.5L771.9 1142.4L772.9 1142.7L773.9 1142.4L774.9 1142.6L775.9 1142.3L776.8 1142.6L777.8 1143.1L778.8 1143.3L779.8 1143.2L780.8 1143.1L781.8 1143.2L782.8 1143.3L783.8 1143.5L784.8 1144.1L785.8 1144.7L786.8 1144.2" stroke="#e8243f" stroke-width="4.6"/>
</g>
<g font-size="33.5" text-anchor="end">
<text x="78.3" y="1162.4">0.0</text>
<text x="78.3" y="1107.8">0.1</text>
<text x="78.3" y="1053.2">0.2</text>
<text x="78.3" y="998.6">0.3</text>
<text x="78.3" y="944">0.4</text>
<text x="78.3" y="889.4">0.5</text>
<text x="78.3" y="834.8">0.6</text>
<text x="78.3" y="780.2">0.7</text>
<text x="78.3" y="725.6">0.8</text>
<text x="78.3" y="671">0.9</text>
</g>
<g font-size="32.8" text-anchor="middle">
<text x="90.3" y="1200">200</text>
<text x="189.8" y="1200">250</text>
<text x="289.3" y="1200">300</text>
<text x="388.8" y="1200">350</text>
<text x="488.3" y="1200">400</text>
<text x="587.8" y="1200">450</text>
<text x="687.3" y="1200">500</text>
<text x="786.8" y="1200">550</text>
</g>
<text font-size="34.5" text-anchor="middle" transform="translate(24.3 903) rotate(-90)">Absorbance (a.u.)</text>
<text font-size="33.7" text-anchor="middle" x="438.3" y="1230.8">W<tspan dx="2.4">avelength (nm)</tspan></text>
<path d="M616 764L614.7 1110" stroke="#e3101c" stroke-width="4.3" stroke-dasharray="4.1 3.6" fill="none"/>
<path d="M607.6 1112.6L621 1112.6L615.8 1133.6L613 1133.6Z" fill="#f00a14"/>
<text font-size="33.5" text-anchor="middle" letter-spacing="0.6" x="615.7" y="749.6">0 min</text>
<text font-size="33.5" text-anchor="middle" letter-spacing="0.35" x="611.4" y="1157.4">960 min</text>
</g>
</svg></body></html>
